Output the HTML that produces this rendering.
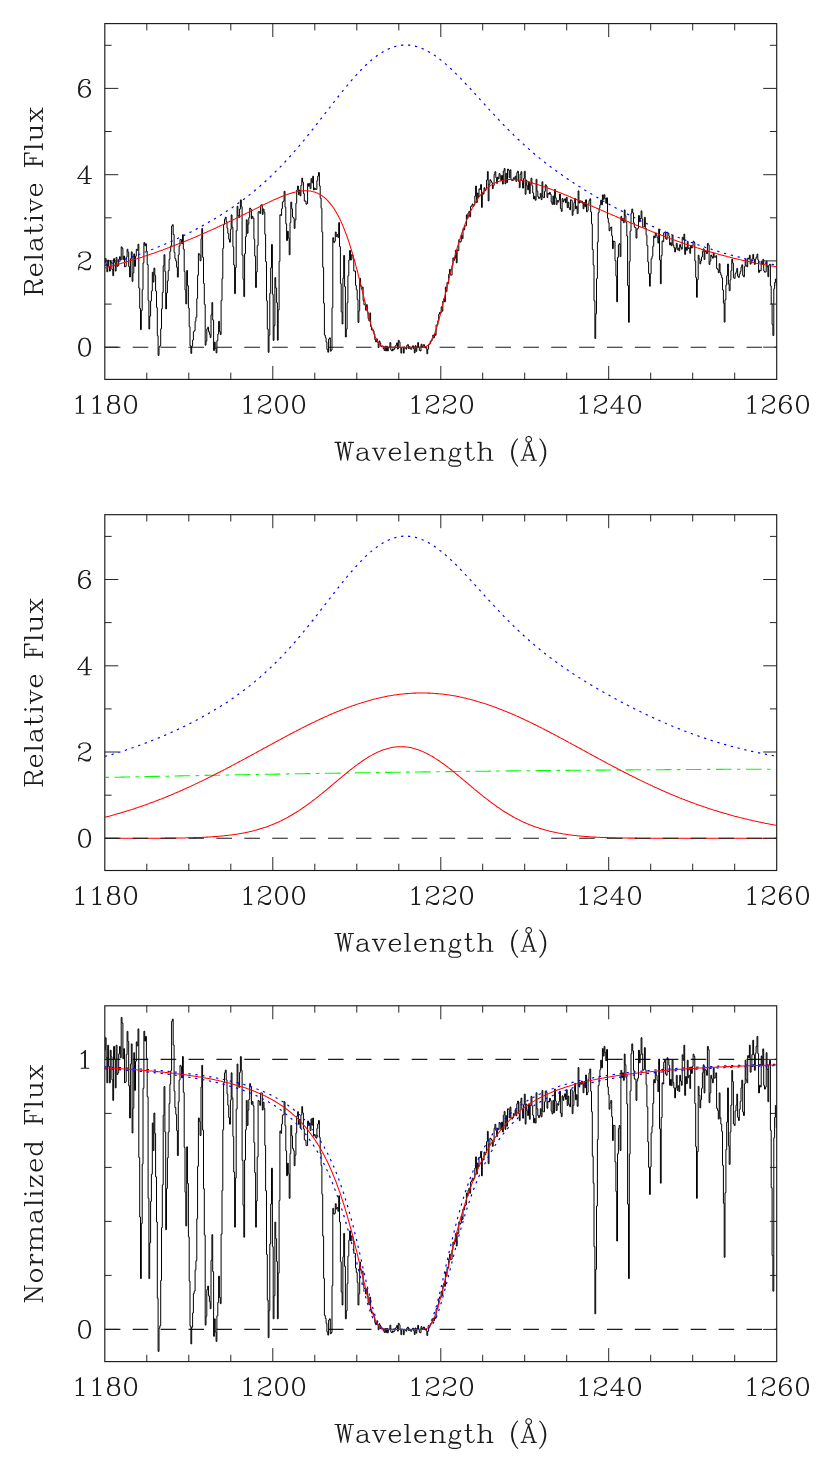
<!DOCTYPE html>
<html><head><meta charset="utf-8"><title>DLA fit</title>
<style>
html,body{margin:0;padding:0;background:#fff;}
svg{display:block;}
.t{font-family:"Liberation Serif",serif;font-size:28px;fill:#1c1c1c;letter-spacing:1.6px;}
.num{letter-spacing:2.2px;}
.lab{font-size:27.5px;letter-spacing:2.1px;}
.data{fill:none;stroke:#000;stroke-width:1.0;stroke-linejoin:miter;}
.red{fill:none;stroke:#ff0000;stroke-width:1.05;}
.blue{fill:none;stroke:#0000ff;stroke-width:1.2;stroke-dasharray:2.3 4.7;}
.green{fill:none;stroke:#00ff00;stroke-width:1.1;stroke-dasharray:15.7 5.4 3.6 5.4;stroke-dashoffset:20.5;}
</style></head>
<body>
<svg width="830" height="1474" viewBox="0 0 830 1474">
<rect width="830" height="1474" fill="#fff"/>
<defs>
<path id="g0" d="M69 -21.62L68.96 -21.58L68.71 -21.58L65.83 -20.62L65.62 -20.5L63.5 -17.38L63.33 -16.96L62.38 -12.17L62.42 -12.08L62.38 -12L62.38 -9L62.42 -8.96L62.38 -8.83L63.38 -3.88L65.5 -.62L65.83 -.38L68.71 .58L68.96 .58L69 .62L71 .62L71.04 .58L71.29 .58L74.17 -.38L74.38 -.5L76.5 -3.62L76.67 -4.04L77.62 -8.83L77.58 -8.92L77.62 -9L77.62 -12L77.58 -12.04L77.62 -12.17L76.62 -17.12L74.5 -20.38L74.17 -20.62L71.29 -21.58L71.04 -21.58L71 -21.62ZM69.12 -20.38L70.88 -20.38L72.54 -19.54L73.54 -18.54L74.42 -16.79L75.38 -12L75.38 -9L74.42 -4.21L73.54 -2.46L72.54 -1.46L70.88 -.62L69.12 -.62L67.46 -1.46L66.46 -2.46L65.58 -4.21L64.62 -9L64.62 -12L65.58 -16.79L66.46 -18.54L67.46 -19.54ZM47.71 -21.58L44.83 -20.62L44.62 -20.5L44.42 -20.25L43.42 -18.21L43.38 -18L43.38 -15L43.46 -14.67L44.5 -12.62L44.83 -12.38L45.96 -12L44.83 -11.62L44.54 -11.46L43.54 -10.46L42.46 -8.33L42.38 -8L42.38 -4L42.42 -3.79L43.54 -1.54L44.54 -.54L44.83 -.38L47.71 .58L47.96 .58L48 .62L52 .62L52.04 .58L52.29 .58L55.17 -.38L55.46 -.54L56.46 -1.54L57.58 -3.79L57.62 -4L57.62 -8L57.54 -8.33L56.46 -10.46L55.46 -11.46L55.17 -11.62L54.04 -12L55.17 -12.38L55.5 -12.62L56.54 -14.67L56.62 -15L56.62 -18L56.58 -18.21L55.58 -20.25L55.38 -20.5L55.17 -20.62L52.29 -21.58L52.04 -21.58L52 -21.62L48 -21.62L47.96 -21.58ZM48.12 -11.38L51.88 -11.38L53.54 -10.54L54.54 -9.54L55.38 -7.88L55.38 -4.12L54.54 -2.46L53.54 -1.46L51.88 -.62L48.12 -.62L46.46 -1.46L45.46 -2.46L44.62 -4.12L44.62 -7.88L45.46 -9.54L46.46 -10.54ZM46.42 -19.46L46.54 -19.58L48.12 -20.38L51.88 -20.38L53.46 -19.58L53.58 -19.46L54.38 -17.88L54.38 -15.12L53.58 -13.54L53.46 -13.42L51.88 -12.62L48.12 -12.62L46.54 -13.42L46.42 -13.54L45.62 -15.12L45.62 -17.88ZM31.21 -21.58L31 -21.62L30.54 -21.46L27.54 -18.46L25.75 -17.58L25.5 -17.38L25.42 -17.21L25.38 -17L25.5 -16.62L25.79 -16.42L26 -16.38L26.21 -16.42L28.46 -17.54L29.33 -18.42L29.38 -18.38L29.38 -.67L29.33 -.62L26 -.62L25.79 -.58L25.5 -.38L25.38 0L25.5 .38L25.79 .58L26 .62L35 .62L35.38 .5L35.58 .21L35.62 0L35.58 -.21L35.5 -.38L35.21 -.58L35 -.62L31.67 -.62L31.62 -.67L31.62 -21L31.5 -21.38ZM11.21 -21.58L11 -21.62L10.54 -21.46L7.54 -18.46L5.75 -17.58L5.5 -17.38L5.42 -17.21L5.38 -17L5.5 -16.62L5.79 -16.42L6 -16.38L6.21 -16.42L8.46 -17.54L9.33 -18.42L9.38 -18.38L9.38 -.67L9.33 -.62L6 -.62L5.79 -.58L5.5 -.38L5.38 0L5.5 .38L5.79 .58L6 .62L15 .62L15.38 .5L15.58 .21L15.62 0L15.58 -.21L15.5 -.38L15.21 -.58L15 -.62L11.67 -.62L11.62 -.67L11.62 -21L11.5 -21.38Z"/>
<path id="g1" d="M69 -21.62L68.96 -21.58L68.71 -21.58L65.83 -20.62L65.62 -20.5L63.5 -17.38L63.33 -16.96L62.38 -12.17L62.42 -12.08L62.38 -12L62.38 -9L62.42 -8.96L62.38 -8.83L63.38 -3.88L65.5 -.62L65.83 -.38L68.71 .58L68.96 .58L69 .62L71 .62L71.04 .58L71.29 .58L74.17 -.38L74.38 -.5L76.5 -3.62L76.67 -4.04L77.62 -8.83L77.58 -8.92L77.62 -9L77.62 -12L77.58 -12.04L77.62 -12.17L76.62 -17.12L74.5 -20.38L74.17 -20.62L71.29 -21.58L71.04 -21.58L71 -21.62ZM69.12 -20.38L70.88 -20.38L72.54 -19.54L73.54 -18.54L74.42 -16.79L75.38 -12L75.38 -9L74.42 -4.21L73.54 -2.46L72.54 -1.46L70.88 -.62L69.12 -.62L67.46 -1.46L66.46 -2.46L65.58 -4.21L64.62 -9L64.62 -12L65.58 -16.79L66.46 -18.54L67.46 -19.54ZM49 -21.62L48.96 -21.58L48.71 -21.58L45.83 -20.62L45.62 -20.5L43.5 -17.38L43.33 -16.96L42.38 -12.17L42.42 -12.08L42.38 -12L42.38 -9L42.42 -8.96L42.38 -8.83L43.38 -3.88L45.5 -.62L45.83 -.38L48.71 .58L48.96 .58L49 .62L51 .62L51.04 .58L51.29 .58L54.17 -.38L54.38 -.5L56.5 -3.62L56.67 -4.04L57.62 -8.83L57.58 -8.92L57.62 -9L57.62 -12L57.58 -12.04L57.62 -12.17L56.62 -17.12L54.5 -20.38L54.17 -20.62L51.29 -21.58L51.04 -21.58L51 -21.62ZM49.12 -20.38L50.88 -20.38L52.54 -19.54L53.54 -18.54L54.42 -16.79L55.38 -12L55.38 -9L54.42 -4.21L53.54 -2.46L52.54 -1.46L50.88 -.62L49.12 -.62L47.46 -1.46L46.46 -2.46L45.58 -4.21L44.62 -9L44.62 -12L45.58 -16.79L46.46 -18.54L47.46 -19.54ZM24.83 -20.62L24.54 -20.46L23.54 -19.46L22.42 -17.21L22.38 -17L22.42 -15.79L22.54 -15.54L23.54 -14.54L24 -14.38L24.46 -14.54L25.46 -15.54L25.58 -15.79L25.62 -16L25.46 -16.46L24.46 -17.46L24 -17.62L24.46 -18.54L25.38 -19.46L28.08 -20.38L31.88 -20.38L33.54 -19.54L34.54 -18.54L35.38 -16.88L35.38 -15.12L34.54 -13.46L34.42 -13.33L31.79 -11.58L25.54 -8.46L23.54 -6.46L23.38 -6.17L22.42 -3.29L22.42 -3.04L22.38 -3L22.38 0L22.42 .21L22.62 .5L23 .62L23.21 .58L23.5 .38L23.62 0L23.62 -1.71L24.29 -2.38L25.83 -2.38L30.58 .5L31 .62L35 .62L35.21 .58L35.46 .46L36.46 -.54L37.58 -2.79L37.62 -3L37.62 -5L37.5 -5.38L37.21 -5.58L37 -5.62L36.79 -5.58L36.62 -5.5L36.42 -5.21L36.38 -5L36.38 -3.29L35.54 -2.46L33.88 -1.62L31.12 -1.62L26.29 -3.58L26.04 -3.58L26 -3.62L24 -3.62L23.92 -3.58L23.88 -3.67L24.54 -5.62L26.46 -7.54L28.21 -8.42L33.08 -10.33L36.38 -12.5L36.58 -12.75L37.58 -14.79L37.62 -15L37.62 -17L37.54 -17.33L36.46 -19.46L35.46 -20.46L35.17 -20.62L32.29 -21.58L32.04 -21.58L32 -21.62L28 -21.62L27.96 -21.58L27.71 -21.58ZM23.62 -16.38L23.67 -16.42L24.08 -16L24 -15.92L23.62 -16.29ZM11.21 -21.58L11 -21.62L10.54 -21.46L7.54 -18.46L5.75 -17.58L5.5 -17.38L5.42 -17.21L5.38 -17L5.5 -16.62L5.79 -16.42L6 -16.38L6.21 -16.42L8.46 -17.54L9.33 -18.42L9.38 -18.38L9.38 -.67L9.33 -.62L6 -.62L5.79 -.58L5.5 -.38L5.38 0L5.5 .38L5.79 .58L6 .62L15 .62L15.38 .5L15.58 .21L15.62 0L15.58 -.21L15.5 -.38L15.21 -.58L15 -.62L11.67 -.62L11.62 -.67L11.62 -21L11.5 -21.38Z"/>
<path id="g2" d="M69 -21.62L68.96 -21.58L68.71 -21.58L65.83 -20.62L65.62 -20.5L63.5 -17.38L63.33 -16.96L62.38 -12.17L62.42 -12.08L62.38 -12L62.38 -9L62.42 -8.96L62.38 -8.83L63.38 -3.88L65.5 -.62L65.83 -.38L68.71 .58L68.96 .58L69 .62L71 .62L71.04 .58L71.29 .58L74.17 -.38L74.38 -.5L76.5 -3.62L76.67 -4.04L77.62 -8.83L77.58 -8.92L77.62 -9L77.62 -12L77.58 -12.04L77.62 -12.17L76.62 -17.12L74.5 -20.38L74.17 -20.62L71.29 -21.58L71.04 -21.58L71 -21.62ZM69.12 -20.38L70.88 -20.38L72.54 -19.54L73.54 -18.54L74.42 -16.79L75.38 -12L75.38 -9L74.42 -4.21L73.54 -2.46L72.54 -1.46L70.88 -.62L69.12 -.62L67.46 -1.46L66.46 -2.46L65.58 -4.21L64.62 -9L64.62 -12L65.58 -16.79L66.46 -18.54L67.46 -19.54ZM44.83 -20.62L44.54 -20.46L43.54 -19.46L42.42 -17.21L42.38 -17L42.42 -15.79L42.54 -15.54L43.54 -14.54L44 -14.38L44.46 -14.54L45.46 -15.54L45.58 -15.79L45.62 -16L45.46 -16.46L44.46 -17.46L44 -17.62L44.46 -18.54L45.38 -19.46L48.08 -20.38L51.88 -20.38L53.54 -19.54L54.54 -18.54L55.38 -16.88L55.38 -15.12L54.54 -13.46L54.42 -13.33L51.79 -11.58L45.54 -8.46L43.54 -6.46L43.38 -6.17L42.42 -3.29L42.42 -3.04L42.38 -3L42.38 0L42.42 .21L42.62 .5L43 .62L43.21 .58L43.5 .38L43.62 0L43.62 -1.71L44.29 -2.38L45.83 -2.38L50.58 .5L51 .62L55 .62L55.21 .58L55.46 .46L56.46 -.54L57.58 -2.79L57.62 -3L57.62 -5L57.5 -5.38L57.21 -5.58L57 -5.62L56.79 -5.58L56.62 -5.5L56.42 -5.21L56.38 -5L56.38 -3.29L55.54 -2.46L53.88 -1.62L51.12 -1.62L46.29 -3.58L46.04 -3.58L46 -3.62L44 -3.62L43.92 -3.58L43.88 -3.67L44.54 -5.62L46.46 -7.54L48.21 -8.42L53.08 -10.33L56.38 -12.5L56.58 -12.75L57.58 -14.79L57.62 -15L57.62 -17L57.54 -17.33L56.46 -19.46L55.46 -20.46L55.17 -20.62L52.29 -21.58L52.04 -21.58L52 -21.62L48 -21.62L47.96 -21.58L47.71 -21.58ZM43.62 -16.38L43.67 -16.42L44.08 -16L44 -15.92L43.62 -16.29ZM24.83 -20.62L24.54 -20.46L23.54 -19.46L22.42 -17.21L22.38 -17L22.42 -15.79L22.54 -15.54L23.54 -14.54L24 -14.38L24.46 -14.54L25.46 -15.54L25.58 -15.79L25.62 -16L25.46 -16.46L24.46 -17.46L24 -17.62L24.46 -18.54L25.38 -19.46L28.08 -20.38L31.88 -20.38L33.54 -19.54L34.54 -18.54L35.38 -16.88L35.38 -15.12L34.54 -13.46L34.42 -13.33L31.79 -11.58L25.54 -8.46L23.54 -6.46L23.38 -6.17L22.42 -3.29L22.42 -3.04L22.38 -3L22.38 0L22.42 .21L22.62 .5L23 .62L23.21 .58L23.5 .38L23.62 0L23.62 -1.71L24.29 -2.38L25.83 -2.38L30.58 .5L31 .62L35 .62L35.21 .58L35.46 .46L36.46 -.54L37.58 -2.79L37.62 -3L37.62 -5L37.5 -5.38L37.21 -5.58L37 -5.62L36.79 -5.58L36.62 -5.5L36.42 -5.21L36.38 -5L36.38 -3.29L35.54 -2.46L33.88 -1.62L31.12 -1.62L26.29 -3.58L26.04 -3.58L26 -3.62L24 -3.62L23.92 -3.58L23.88 -3.67L24.54 -5.62L26.46 -7.54L28.21 -8.42L33.08 -10.33L36.38 -12.5L36.58 -12.75L37.58 -14.79L37.62 -15L37.62 -17L37.54 -17.33L36.46 -19.46L35.46 -20.46L35.17 -20.62L32.29 -21.58L32.04 -21.58L32 -21.62L28 -21.62L27.96 -21.58L27.71 -21.58ZM23.62 -16.38L23.67 -16.42L24.08 -16L24 -15.92L23.62 -16.29ZM11.21 -21.58L11 -21.62L10.54 -21.46L7.54 -18.46L5.75 -17.58L5.5 -17.38L5.42 -17.21L5.38 -17L5.5 -16.62L5.79 -16.42L6 -16.38L6.21 -16.42L8.46 -17.54L9.33 -18.42L9.38 -18.38L9.38 -.67L9.33 -.62L6 -.62L5.79 -.58L5.5 -.38L5.38 0L5.5 .38L5.79 .58L6 .62L15 .62L15.38 .5L15.58 .21L15.62 0L15.58 -.21L15.5 -.38L15.21 -.58L15 -.62L11.67 -.62L11.62 -.67L11.62 -21L11.5 -21.38Z"/>
<path id="g3" d="M69 -21.62L68.96 -21.58L68.71 -21.58L65.83 -20.62L65.62 -20.5L63.5 -17.38L63.33 -16.96L62.38 -12.17L62.42 -12.08L62.38 -12L62.38 -9L62.42 -8.96L62.38 -8.83L63.38 -3.88L65.5 -.62L65.83 -.38L68.71 .58L68.96 .58L69 .62L71 .62L71.04 .58L71.29 .58L74.17 -.38L74.38 -.5L76.5 -3.62L76.67 -4.04L77.62 -8.83L77.58 -8.92L77.62 -9L77.62 -12L77.58 -12.04L77.62 -12.17L76.62 -17.12L74.5 -20.38L74.17 -20.62L71.29 -21.58L71.04 -21.58L71 -21.62ZM69.12 -20.38L70.88 -20.38L72.54 -19.54L73.54 -18.54L74.42 -16.79L75.38 -12L75.38 -9L74.42 -4.21L73.54 -2.46L72.54 -1.46L70.88 -.62L69.12 -.62L67.46 -1.46L66.46 -2.46L65.58 -4.21L64.62 -9L64.62 -12L65.58 -16.79L66.46 -18.54L67.46 -19.54ZM53 -21.62L52.62 -21.5L52.42 -21.29L41.54 -6.46L41.38 -6L41.5 -5.62L41.62 -5.5L42 -5.38L51.33 -5.38L51.38 -5.33L51.38 -.67L51.33 -.62L49 -.62L48.62 -.5L48.42 -.21L48.38 0L48.42 .21L48.62 .5L49 .62L56 .62L56.38 .5L56.5 .38L56.62 0L56.5 -.38L56.21 -.58L56 -.62L53.67 -.62L53.62 -.67L53.62 -5.33L53.67 -5.38L58 -5.38L58.38 -5.5L58.5 -5.62L58.62 -6L58.5 -6.38L58.38 -6.5L58 -6.62L53.67 -6.62L53.62 -6.67L53.62 -21L53.5 -21.38L53.38 -21.5ZM51.33 -17.67L51.38 -17.62L51.38 -6.67L51.33 -6.62L43.29 -6.62L43.25 -6.67ZM24.83 -20.62L24.54 -20.46L23.54 -19.46L22.42 -17.21L22.38 -17L22.42 -15.79L22.54 -15.54L23.54 -14.54L24 -14.38L24.46 -14.54L25.46 -15.54L25.58 -15.79L25.62 -16L25.46 -16.46L24.46 -17.46L24 -17.62L24.46 -18.54L25.38 -19.46L28.08 -20.38L31.88 -20.38L33.54 -19.54L34.54 -18.54L35.38 -16.88L35.38 -15.12L34.54 -13.46L34.42 -13.33L31.79 -11.58L25.54 -8.46L23.54 -6.46L23.38 -6.17L22.42 -3.29L22.42 -3.04L22.38 -3L22.38 0L22.42 .21L22.62 .5L23 .62L23.21 .58L23.5 .38L23.62 0L23.62 -1.71L24.29 -2.38L25.83 -2.38L30.58 .5L31 .62L35 .62L35.21 .58L35.46 .46L36.46 -.54L37.58 -2.79L37.62 -3L37.62 -5L37.5 -5.38L37.21 -5.58L37 -5.62L36.79 -5.58L36.62 -5.5L36.42 -5.21L36.38 -5L36.38 -3.29L35.54 -2.46L33.88 -1.62L31.12 -1.62L26.29 -3.58L26.04 -3.58L26 -3.62L24 -3.62L23.92 -3.58L23.88 -3.67L24.54 -5.62L26.46 -7.54L28.21 -8.42L33.08 -10.33L36.38 -12.5L36.58 -12.75L37.58 -14.79L37.62 -15L37.62 -17L37.54 -17.33L36.46 -19.46L35.46 -20.46L35.17 -20.62L32.29 -21.58L32.04 -21.58L32 -21.62L28 -21.62L27.96 -21.58L27.71 -21.58ZM23.62 -16.38L23.67 -16.42L24.08 -16L24 -15.92L23.62 -16.29ZM11.21 -21.58L11 -21.62L10.54 -21.46L7.54 -18.46L5.75 -17.58L5.5 -17.38L5.42 -17.21L5.38 -17L5.5 -16.62L5.79 -16.42L6 -16.38L6.21 -16.42L8.46 -17.54L9.33 -18.42L9.38 -18.38L9.38 -.67L9.33 -.62L6 -.62L5.79 -.58L5.5 -.38L5.38 0L5.5 .38L5.79 .58L6 .62L15 .62L15.38 .5L15.58 .21L15.62 0L15.58 -.21L15.5 -.38L15.21 -.58L15 -.62L11.67 -.62L11.62 -.67L11.62 -21L11.5 -21.38Z"/>
<path id="g4" d="M69 -21.62L68.96 -21.58L68.71 -21.58L65.83 -20.62L65.62 -20.5L63.5 -17.38L63.33 -16.96L62.38 -12.17L62.42 -12.08L62.38 -12L62.38 -9L62.42 -8.96L62.38 -8.83L63.38 -3.88L65.5 -.62L65.83 -.38L68.71 .58L68.96 .58L69 .62L71 .62L71.04 .58L71.29 .58L74.17 -.38L74.38 -.5L76.5 -3.62L76.67 -4.04L77.62 -8.83L77.58 -8.92L77.62 -9L77.62 -12L77.58 -12.04L77.62 -12.17L76.62 -17.12L74.5 -20.38L74.17 -20.62L71.29 -21.58L71.04 -21.58L71 -21.62ZM69.12 -20.38L70.88 -20.38L72.54 -19.54L73.54 -18.54L74.42 -16.79L75.38 -12L75.38 -9L74.42 -4.21L73.54 -2.46L72.54 -1.46L70.88 -.62L69.12 -.62L67.46 -1.46L66.46 -2.46L65.58 -4.21L64.62 -9L64.62 -12L65.58 -16.79L66.46 -18.54L67.46 -19.54ZM53 -21.62L50 -21.62L49.96 -21.58L49.71 -21.58L46.83 -20.62L46.54 -20.46L44.54 -18.46L43.46 -16.33L43.46 -16.25L43.38 -16.17L42.38 -12.17L42.42 -12.12L42.38 -12L42.38 -6L42.42 -5.96L42.42 -5.71L43.38 -2.83L43.54 -2.54L45.54 -.54L45.83 -.38L48.71 .58L48.96 .58L49 .62L51 .62L51.04 .58L51.29 .58L54.17 -.38L54.46 -.54L56.46 -2.54L56.62 -2.83L57.58 -5.71L57.58 -5.96L57.62 -6L57.58 -7.29L56.62 -10.17L56.46 -10.46L54.46 -12.46L54.17 -12.62L51.29 -13.58L51.04 -13.58L51 -13.62L49.71 -13.58L46.83 -12.62L46.54 -12.46L44.67 -10.58L44.62 -10.62L44.62 -11.96L45.58 -15.79L46.46 -17.54L48.46 -19.54L50.12 -20.38L52.88 -20.38L54.46 -19.58L54.58 -19.46L55 -18.62L54.54 -18.46L53.54 -17.46L53.38 -17L53.54 -16.54L54.54 -15.54L55 -15.38L55.46 -15.54L56.46 -16.54L56.62 -17L56.58 -18.21L55.5 -20.38L55.25 -20.58L53.33 -21.54ZM50.88 -12.38L52.54 -11.54L54.46 -9.62L55.38 -6.92L55.38 -6.08L54.46 -3.38L52.54 -1.46L50.88 -.62L49.12 -.62L47.46 -1.46L45.54 -3.38L44.62 -6.08L44.62 -6.92L45.54 -9.62L47.38 -11.46L50.08 -12.38ZM55.33 -17.42L55.38 -17.29L55 -16.92L54.92 -17ZM24.83 -20.62L24.54 -20.46L23.54 -19.46L22.42 -17.21L22.38 -17L22.42 -15.79L22.54 -15.54L23.54 -14.54L24 -14.38L24.46 -14.54L25.46 -15.54L25.58 -15.79L25.62 -16L25.46 -16.46L24.46 -17.46L24 -17.62L24.46 -18.54L25.38 -19.46L28.08 -20.38L31.88 -20.38L33.54 -19.54L34.54 -18.54L35.38 -16.88L35.38 -15.12L34.54 -13.46L34.42 -13.33L31.79 -11.58L25.54 -8.46L23.54 -6.46L23.38 -6.17L22.42 -3.29L22.42 -3.04L22.38 -3L22.38 0L22.42 .21L22.62 .5L23 .62L23.21 .58L23.5 .38L23.62 0L23.62 -1.71L24.29 -2.38L25.83 -2.38L30.58 .5L31 .62L35 .62L35.21 .58L35.46 .46L36.46 -.54L37.58 -2.79L37.62 -3L37.62 -5L37.5 -5.38L37.21 -5.58L37 -5.62L36.79 -5.58L36.62 -5.5L36.42 -5.21L36.38 -5L36.38 -3.29L35.54 -2.46L33.88 -1.62L31.12 -1.62L26.29 -3.58L26.04 -3.58L26 -3.62L24 -3.62L23.92 -3.58L23.88 -3.67L24.54 -5.62L26.46 -7.54L28.21 -8.42L33.08 -10.33L36.38 -12.5L36.58 -12.75L37.58 -14.79L37.62 -15L37.62 -17L37.54 -17.33L36.46 -19.46L35.46 -20.46L35.17 -20.62L32.29 -21.58L32.04 -21.58L32 -21.62L28 -21.62L27.96 -21.58L27.71 -21.58ZM23.62 -16.38L23.67 -16.42L24.08 -16L24 -15.92L23.62 -16.29ZM11.21 -21.58L11 -21.62L10.54 -21.46L7.54 -18.46L5.75 -17.58L5.5 -17.38L5.42 -17.21L5.38 -17L5.5 -16.62L5.79 -16.42L6 -16.38L6.21 -16.42L8.46 -17.54L9.33 -18.42L9.38 -18.38L9.38 -.67L9.33 -.62L6 -.62L5.79 -.58L5.5 -.38L5.38 0L5.5 .38L5.79 .58L6 .62L15 .62L15.38 .5L15.58 .21L15.62 0L15.58 -.21L15.5 -.38L15.21 -.58L15 -.62L11.67 -.62L11.62 -.67L11.62 -21L11.5 -21.38Z"/>
<path id="g5" d="M141 -14.62L140.67 -14.54L138.54 -13.46L137.54 -12.46L136.46 -10.33L136.38 -10L136.38 -8L136.46 -7.67L137.21 -6.21L137.21 -6.12L136.54 -5.46L135.46 -3.33L135.38 -3L135.42 -1.79L136.38 .17L136.29 .25L135.83 .38L135.62 .5L135.42 .75L134.42 2.79L134.38 4L134.46 4.33L135.42 6.25L135.62 6.5L135.83 6.62L138.71 7.58L138.96 7.58L139 7.62L145 7.62L145.04 7.58L145.29 7.58L148.17 6.62L148.38 6.5L148.58 6.25L149.54 4.33L149.62 4L149.58 2.79L148.5 .62L148.17 .38L145.29 -.58L145.04 -.58L145 -.62L140.08 -.62L137.38 -1.54L136.62 -2.29L136.62 -2.88L137.46 -4.54L138 -5.08L138.54 -4.54L140.67 -3.46L141 -3.38L143 -3.38L143.21 -3.42L145.46 -4.54L146.46 -5.54L147.54 -7.67L147.62 -8L147.62 -10L147.58 -10.21L146.79 -11.79L146.79 -11.88L147.29 -12.38L149 -12.38L149.38 -12.5L149.5 -12.62L149.62 -13L149.62 -14L149.58 -14.21L149.38 -14.5L149 -14.62L148.79 -14.58L146.54 -13.46L146 -12.92L145.46 -13.46L143.33 -14.54L143 -14.62ZM135.62 3.12L136.46 1.5L138.04 1L139.71 1.58L139.96 1.58L140 1.62L144.92 1.62L147.62 2.54L148.38 3.29L148.38 3.88L147.54 5.5L144.92 6.38L139.08 6.38L136.46 5.5L135.62 3.88ZM141.12 -13.38L142.88 -13.38L144.46 -12.58L144.58 -12.46L145.38 -10.88L145.38 -7.12L144.58 -5.54L144.46 -5.42L142.88 -4.62L141.12 -4.62L139.54 -5.42L139.42 -5.54L138.62 -7.12L138.62 -10.88L139.42 -12.46L139.54 -12.58ZM112.5 -14.38L112.38 -14L112.42 -13.79L112.5 -13.62L112.79 -13.42L113 -13.38L115.33 -13.38L115.38 -13.33L115.38 -.67L115.33 -.62L113 -.62L112.79 -.58L112.5 -.38L112.38 0L112.42 .21L112.62 .5L113 .62L120 .62L120.21 .58L120.5 .38L120.62 0L120.58 -.21L120.5 -.38L120.21 -.58L120 -.62L117.67 -.62L117.62 -.67L117.62 -10.71L119.38 -12.46L122.08 -13.38L123.88 -13.38L125.46 -12.58L125.58 -12.46L126.38 -10.88L126.38 -.67L126.33 -.62L124 -.62L123.79 -.58L123.62 -.5L123.42 -.21L123.38 0L123.5 .38L123.62 .5L124 .62L131 .62L131.21 .58L131.5 .38L131.62 0L131.58 -.21L131.5 -.38L131.21 -.58L131 -.62L128.67 -.62L128.62 -.67L128.62 -11L128.54 -11.33L127.58 -13.25L127.38 -13.5L127.17 -13.62L124.29 -14.58L124.04 -14.58L124 -14.62L122 -14.62L121.96 -14.58L121.71 -14.58L118.83 -13.62L118.54 -13.46L117.67 -12.58L117.62 -12.62L117.62 -14L117.58 -14.21L117.5 -14.38L117.21 -14.58L117 -14.62L113 -14.62L112.79 -14.58ZM101 -14.62L100.96 -14.58L100.71 -14.58L97.83 -13.62L97.54 -13.46L95.54 -11.46L95.38 -11.17L94.42 -8.29L94.42 -8.04L94.38 -8L94.38 -6L94.42 -5.96L94.42 -5.71L95.38 -2.83L95.54 -2.54L97.54 -.54L97.83 -.38L100.71 .58L100.96 .58L101 .62L103 .62L103.04 .58L103.29 .58L106.17 -.38L106.46 -.54L108.46 -2.54L108.62 -3L108.5 -3.38L108.38 -3.5L108 -3.62L107.54 -3.46L105.54 -1.5L102.92 -.62L101.12 -.62L99.46 -1.46L97.54 -3.38L96.62 -6.08L96.62 -7.33L96.67 -7.38L108 -7.38L108.21 -7.42L108.5 -7.62L108.62 -8L108.62 -10L108.54 -10.33L107.46 -12.46L106.46 -13.46L104.21 -14.58L104 -14.62ZM96.88 -8.67L97.54 -10.62L99.46 -12.54L101.12 -13.38L103.88 -13.38L105.46 -12.58L105.58 -12.46L106.38 -10.88L106.38 -8.67L106.33 -8.62L96.92 -8.62ZM71 -14.62L70.96 -14.58L70.71 -14.58L67.83 -13.62L67.54 -13.46L65.54 -11.46L65.38 -11.17L64.42 -8.29L64.42 -8.04L64.38 -8L64.38 -6L64.42 -5.96L64.42 -5.71L65.38 -2.83L65.54 -2.54L67.54 -.54L67.83 -.38L70.71 .58L70.96 .58L71 .62L73 .62L73.04 .58L73.29 .58L76.17 -.38L76.46 -.54L78.46 -2.54L78.62 -3L78.5 -3.38L78.38 -3.5L78 -3.62L77.54 -3.46L75.54 -1.5L72.92 -.62L71.12 -.62L69.46 -1.46L67.54 -3.38L66.62 -6.08L66.62 -7.33L66.67 -7.38L78 -7.38L78.21 -7.42L78.5 -7.62L78.62 -8L78.62 -10L78.54 -10.33L77.46 -12.46L76.46 -13.46L74.21 -14.58L74 -14.62ZM66.88 -8.67L67.54 -10.62L69.46 -12.54L71.12 -13.38L73.88 -13.38L75.46 -12.58L75.58 -12.46L76.38 -10.88L76.38 -8.67L76.33 -8.62L66.92 -8.62ZM44.62 -14.5L44.5 -14.38L44.38 -14L44.42 -13.79L44.62 -13.5L45 -13.38L46.54 -13.38L46.62 -13.29L52.33 .08L52.5 .38L52.79 .58L53 .62L53.38 .5L53.67 .08L59.38 -13.29L59.46 -13.38L61 -13.38L61.38 -13.5L61.5 -13.62L61.62 -14L61.5 -14.38L61.38 -14.5L61 -14.62L55 -14.62L54.79 -14.58L54.5 -14.38L54.38 -14L54.42 -13.79L54.5 -13.62L54.79 -13.42L55 -13.38L58 -13.38L58.04 -13.33L53.5 -2.71L53.42 -2.67L48.96 -13.29L49 -13.38L51 -13.38L51.21 -13.42L51.38 -13.5L51.58 -13.79L51.62 -14L51.5 -14.38L51.38 -14.5L51 -14.62L45 -14.62ZM27.54 -12.46L27.38 -12L27.42 -10.79L27.62 -10.5L28 -10.38L29 -10.38L29.38 -10.5L29.5 -10.62L29.62 -11L29.62 -12L29.58 -12.21L29.42 -12.5L31.12 -13.38L34.88 -13.38L36.54 -12.54L37.38 -11.71L37.38 -10.29L36.58 -9.54L30.71 -8.58L27.83 -7.62L27.5 -7.38L26.42 -5.21L26.38 -5L26.38 -3L26.46 -2.67L27.42 -.75L27.62 -.5L27.83 -.38L30.71 .58L30.96 .58L31 .62L34 .62L34.33 .54L36.46 -.54L37.83 -1.92L38.42 -.75L38.62 -.5L40.67 .54L41 .62L42 .62L42.21 .58L42.5 .38L42.62 0L42.5 -.38L42.21 -.58L41.29 -.62L40.46 -1.46L39.62 -3.12L39.62 -10L39.58 -10.21L38.46 -12.46L37.46 -13.46L35.33 -14.54L35 -14.62L31 -14.62L30.67 -14.54L28.54 -13.46ZM37.38 -8.46L37.38 -3.29L35.54 -1.46L33.88 -.62L31.12 -.62L29.54 -1.42L29.42 -1.54L28.62 -3.12L28.62 -4.88L29.42 -6.46L29.54 -6.58L31.21 -7.42L36.88 -8.33L37.21 -8.42L37.33 -8.5ZM168.62 -21.5L168.5 -21.38L168.38 -21L168.5 -20.62L168.79 -20.42L169 -20.38L171.33 -20.38L171.38 -20.33L171.38 -.67L171.33 -.62L169 -.62L168.79 -.58L168.62 -.5L168.42 -.21L168.38 0L168.5 .38L168.62 .5L169 .62L176 .62L176.21 .58L176.5 .38L176.62 0L176.58 -.21L176.5 -.38L176.21 -.58L176 -.62L173.67 -.62L173.62 -.67L173.62 -10.71L175.46 -12.5L178.08 -13.38L179.88 -13.38L181.46 -12.58L181.58 -12.46L182.38 -10.88L182.38 -.67L182.33 -.62L180 -.62L179.79 -.58L179.62 -.5L179.42 -.21L179.38 0L179.5 .38L179.62 .5L180 .62L187 .62L187.38 .5L187.5 .38L187.62 0L187.5 -.38L187.21 -.58L187 -.62L184.67 -.62L184.62 -.67L184.62 -11L184.54 -11.33L183.5 -13.38L183.17 -13.62L180.29 -14.58L180.04 -14.58L180 -14.62L178 -14.62L177.96 -14.58L177.71 -14.58L174.83 -13.62L174.54 -13.46L173.67 -12.58L173.62 -12.62L173.62 -21L173.5 -21.38L173.38 -21.5L173 -21.62L169 -21.62ZM156.79 -21.58L156.5 -21.38L156.38 -21L156.38 -14.67L156.33 -14.62L154 -14.62L153.79 -14.58L153.62 -14.5L153.42 -14.21L153.38 -14L153.42 -13.79L153.62 -13.5L154 -13.38L156.33 -13.38L156.38 -13.33L156.38 -4L156.42 -3.96L156.42 -3.71L157.38 -.83L157.5 -.62L157.75 -.42L159.79 .58L160 .62L162 .62L162.21 .58L164.25 -.42L164.5 -.62L165.54 -2.67L165.62 -3L165.58 -3.21L165.5 -3.38L165.21 -3.58L165 -3.62L164.62 -3.5L164.42 -3.25L163.58 -1.54L163.46 -1.42L161.88 -.62L160.29 -.62L159.5 -1.46L158.62 -4.08L158.62 -13.33L158.67 -13.38L162 -13.38L162.38 -13.5L162.5 -13.62L162.62 -14L162.5 -14.38L162.38 -14.5L162 -14.62L158.67 -14.62L158.62 -14.67L158.62 -21L158.58 -21.21L158.5 -21.38L158.21 -21.58L158 -21.62L157.79 -21.58L157.5 -21.38L157.21 -21.58L157 -21.62ZM82.79 -21.58L82.5 -21.38L82.38 -21L82.5 -20.62L82.79 -20.42L83 -20.38L85.33 -20.38L85.38 -20.33L85.38 -.67L85.33 -.62L83 -.62L82.79 -.58L82.62 -.5L82.42 -.21L82.38 0L82.42 .21L82.62 .5L83 .62L90 .62L90.21 .58L90.5 .38L90.62 0L90.5 -.38L90.21 -.58L90 -.62L87.67 -.62L87.62 -.67L87.62 -21L87.58 -21.21L87.38 -21.5L87 -21.62L83 -21.62ZM.62 -21.5L.5 -21.38L.38 -21L.5 -20.62L.79 -20.42L1 -20.38L3.46 -20.38L3.5 -20.33L3.71 -19.08L3.88 -18.42L3.88 -18.21L4.04 -17.54L4.04 -17.33L4.21 -16.67L4.21 -16.46L4.38 -15.79L4.38 -15.58L4.54 -14.92L4.54 -14.71L4.71 -14.04L4.71 -13.83L4.88 -13.17L4.88 -12.96L5.04 -12.29L5.04 -12.08L5.21 -11.42L5.21 -11.21L5.38 -10.54L5.38 -10.33L5.54 -9.67L5.54 -9.46L5.71 -8.79L5.71 -8.58L5.88 -7.92L5.88 -7.71L6.04 -7.04L6.04 -6.83L6.21 -6.17L6.21 -5.96L6.38 -5.29L6.38 -5.08L6.54 -4.42L6.54 -4.21L6.71 -3.54L6.71 -3.33L6.88 -2.67L6.88 -2.46L7.04 -1.79L7.04 -1.58L7.21 -.92L7.21 -.71L7.38 .12L7.5 .38L7.79 .58L8 .62L8.21 .58L8.5 .38L8.62 .12L12 -17.58L15.38 .12L15.5 .38L15.79 .58L16 .62L16.38 .5L16.5 .38L16.67 -.04L16.67 -.25L16.83 -.92L16.83 -1.12L17 -1.79L17 -2L17.17 -2.67L17.17 -2.88L17.33 -3.54L17.33 -3.75L17.5 -4.42L17.5 -4.62L17.67 -5.29L17.67 -5.5L17.83 -6.17L17.83 -6.38L18 -7.04L18 -7.25L18.17 -7.92L18.17 -8.12L18.33 -8.79L18.33 -9L18.5 -9.67L18.5 -9.88L18.67 -10.54L18.67 -10.75L18.83 -11.42L18.83 -11.62L19 -12.29L19 -12.5L19.12 -12.96L19.12 -13.17L19.29 -13.83L19.29 -14.04L19.46 -14.71L19.46 -14.92L19.62 -15.58L19.62 -15.79L19.79 -16.46L19.79 -16.67L19.96 -17.33L19.96 -17.54L20.12 -18.21L20.12 -18.42L20.29 -19.08L20.5 -20.33L20.54 -20.38L23 -20.38L23.21 -20.42L23.38 -20.5L23.58 -20.79L23.62 -21L23.5 -21.38L23.38 -21.5L23 -21.62L17 -21.62L16.62 -21.5L16.42 -21.21L16.38 -21L16.42 -20.79L16.5 -20.62L16.79 -20.42L17 -20.38L19.21 -20.38L19.25 -20.33L16.5 -6.04L16.42 -6.08L16.38 -6.5L16.25 -6.96L16.25 -7.17L16.12 -7.62L16.12 -7.83L16 -8.29L16 -8.5L15.88 -8.96L15.88 -9.17L15.75 -9.62L15.75 -9.83L15.62 -10.29L15.62 -10.5L15.5 -10.96L15.5 -11.17L15.38 -11.62L15.38 -11.83L15.25 -12.29L15.25 -12.5L15.12 -12.96L15.12 -13.17L15 -13.62L15 -13.83L14.88 -14.29L14.88 -14.5L14.75 -14.96L14.75 -15.17L14.62 -15.62L14.62 -15.83L14.5 -16.29L14.5 -16.5L14.38 -16.96L14.38 -17.17L14.25 -17.62L14.25 -17.83L14.12 -18.29L14.12 -18.5L14 -18.96L14 -19.17L13.88 -19.62L13.62 -21.12L13.38 -21.5L13 -21.62L12.79 -21.58L12.5 -21.38L12.38 -21.5L12 -21.62L11.79 -21.58L11.5 -21.38L11.38 -21.12L11.21 -20.29L11.21 -20.08L11.04 -19.42L11.04 -19.21L10.88 -18.54L10.88 -18.33L10.71 -17.67L10.71 -17.46L10.54 -16.79L10.54 -16.58L10.38 -15.92L10.38 -15.71L10.21 -15.04L10.21 -14.83L10.04 -14.17L10.04 -13.96L9.88 -13.29L9.88 -13.08L9.71 -12.42L9.71 -12.21L9.54 -11.54L9.54 -11.33L9.38 -10.67L9.38 -10.46L9.21 -9.79L9.21 -9.58L9.04 -8.92L9.04 -8.71L8.88 -8.04L8.54 -6.08L8.46 -6.04L8.38 -6.29L8.38 -6.5L8.25 -6.96L8.25 -7.17L8.12 -7.62L8.12 -7.83L8 -8.29L8 -8.5L7.88 -8.96L7.88 -9.17L7.75 -9.62L7.75 -9.83L7.62 -10.29L7.62 -10.5L7.5 -10.96L7.5 -11.17L7.38 -11.62L7.38 -11.83L7.25 -12.29L7.25 -12.5L7.12 -12.96L7.12 -13.17L7 -13.62L7 -13.83L6.88 -14.29L6.88 -14.5L6.75 -14.96L6.75 -15.17L6.62 -15.62L6.62 -15.83L6.5 -16.29L6.5 -16.5L5.75 -20.33L5.79 -20.38L8 -20.38L8.21 -20.42L8.38 -20.5L8.58 -20.79L8.62 -21L8.5 -21.38L8.38 -21.5L8 -21.62L1 -21.62ZM15.83 -4.42L16 -4.38L16.17 -4.42L16.21 -4.38L16 -3.42L15.79 -4.33ZM7.83 -4.42L8 -4.38L8.17 -4.42L8.21 -4.38L8 -3.42L7.79 -4.33ZM242 -25.62L241.79 -25.58L241.5 -25.38L241.38 -25L241.42 -24.79L241.54 -24.54L243.54 -22.54L245.42 -18.79L246.42 -15.79L247.38 -11L247.38 -7L246.42 -2.21L245.42 .79L243.54 4.54L241.54 6.54L241.42 6.79L241.38 7L241.5 7.38L241.62 7.5L242 7.62L242.46 7.46L244.46 5.46L246.58 2.25L248.62 -1.88L249.62 -6.83L249.58 -6.92L249.62 -7L249.62 -11L249.58 -11.04L249.62 -11.17L248.67 -15.96L248.54 -16.33L246.58 -20.25L244.46 -23.46L242.46 -25.46ZM216 -25.62L215.54 -25.46L213.54 -23.46L211.42 -20.25L209.38 -16.12L208.38 -11.17L208.42 -11.08L208.38 -11L208.38 -7L208.42 -6.96L208.38 -6.83L209.33 -2.04L209.46 -1.67L211.42 2.25L213.54 5.46L215.54 7.46L216 7.62L216.21 7.58L216.5 7.38L216.62 7L216.58 6.79L216.46 6.54L214.46 4.54L212.58 .79L211.58 -2.21L210.62 -7L210.62 -11L211.58 -15.79L212.58 -18.79L214.46 -22.54L216.46 -24.54L216.58 -24.79L216.62 -25L216.5 -25.38L216.38 -25.5ZM227.67 -28.29L227.08 -28L227.04 -27.92L227 -27.96L226.5 -27.62L225.96 -27.08L225.62 -26.58L225.67 -26.54L225.58 -26.5L225.29 -25.92L225.17 -25.46L225.08 -24.96L225.08 -24.21L225.29 -23.25L225.71 -22.42L225.96 -22.08L226.5 -21.54L227 -21.21L227.67 -20.88L228.25 -20.71L221.58 -.71L221.5 -.62L220 -.62L219.79 -.58L219.62 -.5L219.42 -.21L219.38 0L219.42 .21L219.62 .5L220 .62L226 .62L226.21 .58L226.5 .38L226.62 0L226.58 -.21L226.5 -.38L226.21 -.58L226 -.62L222.92 -.62L222.88 -.67L224.42 -5.29L224.5 -5.38L232.5 -5.38L232.58 -5.29L234.12 -.67L234.08 -.62L232 -.62L231.79 -.58L231.62 -.5L231.42 -.21L231.38 0L231.5 .38L231.62 .5L232 .62L238 .62L238.21 .58L238.5 .38L238.62 0L238.58 -.21L238.38 -.5L238 -.62L236.5 -.62L236.42 -.71L229.75 -20.71L230.33 -20.88L231.17 -21.29L231.5 -21.54L232.04 -22.08L232.29 -22.42L232.71 -23.25L232.92 -24.21L232.92 -24.96L232.71 -25.92L232.33 -26.67L232.04 -27.08L231.5 -27.62L231.17 -27.88L230.62 -28.17L230.04 -28.38L229.38 -28.5L228.62 -28.5ZM228.5 -17.46L232.12 -6.67L232.08 -6.62L224.92 -6.62L224.88 -6.67ZM229 -18.96L229.12 -18.67L229.08 -18.58L228.88 -18.62ZM228.71 -27.25L229.29 -27.25L229.96 -27.08L230.62 -26.71L231 -26.38L231.29 -25.96L231.5 -25.54L231.67 -24.88L231.67 -24.29L231.58 -23.88L231.33 -23.29L231.04 -22.83L230.62 -22.46L229.96 -22.08L229.29 -21.92L228.71 -21.92L228.25 -22L227.42 -22.42L226.96 -22.83L226.5 -23.62L226.33 -24.29L226.33 -24.88L226.42 -25.29L226.71 -25.96L227 -26.38L227.62 -26.88L228.25 -27.17Z"/>
<path id="g6" d="M9 -21.62L8.96 -21.58L8.71 -21.58L5.83 -20.62L5.62 -20.5L3.5 -17.38L3.33 -16.96L2.38 -12.17L2.42 -12.08L2.38 -12L2.38 -9L2.42 -8.96L2.38 -8.83L3.38 -3.88L5.5 -.62L5.83 -.38L8.71 .58L8.96 .58L9 .62L11 .62L11.04 .58L11.29 .58L14.17 -.38L14.38 -.5L16.5 -3.62L16.67 -4.04L17.62 -8.83L17.58 -8.92L17.62 -9L17.62 -12L17.58 -12.04L17.62 -12.17L16.62 -17.12L14.5 -20.38L14.17 -20.62L11.29 -21.58L11.04 -21.58L11 -21.62ZM9.12 -20.38L10.88 -20.38L12.54 -19.54L13.54 -18.54L14.42 -16.79L15.38 -12L15.38 -9L14.42 -4.21L13.54 -2.46L12.54 -1.46L10.88 -.62L9.12 -.62L7.46 -1.46L6.46 -2.46L5.58 -4.21L4.62 -9L4.62 -12L5.58 -16.79L6.46 -18.54L7.46 -19.54Z"/>
<path id="g7" d="M4.83 -20.62L4.54 -20.46L3.54 -19.46L2.42 -17.21L2.38 -17L2.42 -15.79L2.54 -15.54L3.54 -14.54L4 -14.38L4.46 -14.54L5.46 -15.54L5.58 -15.79L5.62 -16L5.46 -16.46L4.46 -17.46L4 -17.62L4.46 -18.54L5.38 -19.46L8.08 -20.38L11.88 -20.38L13.54 -19.54L14.54 -18.54L15.38 -16.88L15.38 -15.12L14.54 -13.46L14.42 -13.33L11.79 -11.58L5.54 -8.46L3.54 -6.46L3.38 -6.17L2.42 -3.29L2.42 -3.04L2.38 -3L2.38 0L2.42 .21L2.62 .5L3 .62L3.21 .58L3.5 .38L3.62 0L3.62 -1.71L4.29 -2.38L5.83 -2.38L10.58 .5L11 .62L15 .62L15.21 .58L15.46 .46L16.46 -.54L17.58 -2.79L17.62 -3L17.62 -5L17.5 -5.38L17.21 -5.58L17 -5.62L16.79 -5.58L16.62 -5.5L16.42 -5.21L16.38 -5L16.38 -3.29L15.54 -2.46L13.88 -1.62L11.12 -1.62L6.29 -3.58L6.04 -3.58L6 -3.62L4 -3.62L3.92 -3.58L3.88 -3.67L4.54 -5.62L6.46 -7.54L8.21 -8.42L13.08 -10.33L16.38 -12.5L16.58 -12.75L17.58 -14.79L17.62 -15L17.62 -17L17.54 -17.33L16.46 -19.46L15.46 -20.46L15.17 -20.62L12.29 -21.58L12.04 -21.58L12 -21.62L8 -21.62L7.96 -21.58L7.71 -21.58ZM3.62 -16.38L3.67 -16.42L4.08 -16L4 -15.92L3.62 -16.29Z"/>
<path id="g8" d="M13 -21.62L12.62 -21.5L12.42 -21.29L1.54 -6.46L1.38 -6L1.5 -5.62L1.62 -5.5L2 -5.38L11.33 -5.38L11.38 -5.33L11.38 -.67L11.33 -.62L9 -.62L8.62 -.5L8.42 -.21L8.38 0L8.42 .21L8.62 .5L9 .62L16 .62L16.38 .5L16.5 .38L16.62 0L16.5 -.38L16.21 -.58L16 -.62L13.67 -.62L13.62 -.67L13.62 -5.33L13.67 -5.38L18 -5.38L18.38 -5.5L18.5 -5.62L18.62 -6L18.5 -6.38L18.38 -6.5L18 -6.62L13.67 -6.62L13.62 -6.67L13.62 -21L13.5 -21.38L13.38 -21.5ZM11.33 -17.67L11.38 -17.62L11.38 -6.67L11.33 -6.62L3.29 -6.62L3.25 -6.67Z"/>
<path id="g9" d="M13 -21.62L10 -21.62L9.96 -21.58L9.71 -21.58L6.83 -20.62L6.54 -20.46L4.54 -18.46L3.46 -16.33L3.46 -16.25L3.38 -16.17L2.38 -12.17L2.42 -12.12L2.38 -12L2.38 -6L2.42 -5.96L2.42 -5.71L3.38 -2.83L3.54 -2.54L5.54 -.54L5.83 -.38L8.71 .58L8.96 .58L9 .62L11 .62L11.04 .58L11.29 .58L14.17 -.38L14.46 -.54L16.46 -2.54L16.62 -2.83L17.58 -5.71L17.58 -5.96L17.62 -6L17.58 -7.29L16.62 -10.17L16.46 -10.46L14.46 -12.46L14.17 -12.62L11.29 -13.58L11.04 -13.58L11 -13.62L9.71 -13.58L6.83 -12.62L6.54 -12.46L4.67 -10.58L4.62 -10.62L4.62 -11.96L5.58 -15.79L6.46 -17.54L8.46 -19.54L10.12 -20.38L12.88 -20.38L14.46 -19.58L14.58 -19.46L15 -18.62L14.54 -18.46L13.54 -17.46L13.38 -17L13.54 -16.54L14.54 -15.54L15 -15.38L15.46 -15.54L16.46 -16.54L16.62 -17L16.58 -18.21L15.5 -20.38L15.25 -20.58L13.33 -21.54ZM10.88 -12.38L12.54 -11.54L14.46 -9.62L15.38 -6.92L15.38 -6.08L14.46 -3.38L12.54 -1.46L10.88 -.62L9.12 -.62L7.46 -1.46L5.54 -3.38L4.62 -6.08L4.62 -6.92L5.54 -9.62L7.38 -11.46L10.08 -12.38ZM15.33 -17.42L15.38 -17.29L15 -16.92L14.92 -17Z"/>
<path id="g10" d="M205.5 -14.38L205.38 -14L205.42 -13.79L205.5 -13.62L205.79 -13.42L206 -13.38L207.71 -13.38L212.92 -6.75L212.79 -6.54L207.71 -.62L206 -.62L205.62 -.5L205.5 -.38L205.38 0L205.42 .21L205.62 .5L206 .62L212 .62L212.38 .5L212.5 .38L212.62 0L212.5 -.38L212.21 -.58L212 -.62L209.46 -.62L209.42 -.67L213.71 -5.67L213.88 -5.54L217.71 -.67L217.67 -.62L216 -.62L215.62 -.5L215.5 -.38L215.38 0L215.42 .21L215.62 .5L216 .62L222 .62L222.21 .58L222.5 .38L222.62 0L222.58 -.21L222.5 -.38L222.21 -.58L222 -.62L220.29 -.62L215.08 -7.25L215.21 -7.46L220.29 -13.38L222 -13.38L222.38 -13.5L222.5 -13.62L222.62 -14L222.58 -14.21L222.38 -14.5L222 -14.62L216 -14.62L215.62 -14.5L215.5 -14.38L215.38 -14L215.5 -13.62L215.79 -13.42L216 -13.38L218.54 -13.38L218.58 -13.33L214.29 -8.33L214.12 -8.46L210.29 -13.33L210.33 -13.38L212 -13.38L212.38 -13.5L212.5 -13.62L212.62 -14L212.58 -14.21L212.38 -14.5L212 -14.62L206 -14.62L205.79 -14.58ZM183.5 -14.38L183.38 -14L183.42 -13.79L183.5 -13.62L183.79 -13.42L184 -13.38L186.33 -13.38L186.38 -13.33L186.38 -3L186.46 -2.67L187.42 -.75L187.62 -.5L187.83 -.38L190.71 .58L190.96 .58L191 .62L193 .62L193.04 .58L193.29 .58L196.17 -.38L196.46 -.54L197.33 -1.42L197.38 -1.38L197.38 0L197.42 .21L197.5 .38L197.79 .58L198 .62L202 .62L202.21 .58L202.5 .38L202.62 0L202.58 -.21L202.5 -.38L202.21 -.58L202 -.62L199.67 -.62L199.62 -.67L199.62 -14L199.58 -14.21L199.38 -14.5L199 -14.62L195 -14.62L194.62 -14.5L194.42 -14.21L194.38 -14L194.42 -13.79L194.5 -13.62L194.79 -13.42L195 -13.38L197.33 -13.38L197.38 -13.33L197.38 -3.29L195.62 -1.54L192.92 -.62L191.12 -.62L189.54 -1.42L189.42 -1.54L188.62 -3.12L188.62 -14L188.5 -14.38L188.38 -14.5L188 -14.62L184 -14.62L183.79 -14.58ZM125 -14.62L124.96 -14.58L124.71 -14.58L121.83 -13.62L121.54 -13.46L119.54 -11.46L119.38 -11.17L118.42 -8.29L118.42 -8.04L118.38 -8L118.38 -6L118.42 -5.96L118.42 -5.71L119.38 -2.83L119.54 -2.54L121.54 -.54L121.83 -.38L124.71 .58L124.96 .58L125 .62L127 .62L127.04 .58L127.29 .58L130.17 -.38L130.46 -.54L132.46 -2.54L132.62 -3L132.5 -3.38L132.38 -3.5L132 -3.62L131.54 -3.46L129.54 -1.5L126.92 -.62L125.12 -.62L123.46 -1.46L121.54 -3.38L120.62 -6.08L120.62 -7.33L120.67 -7.38L132 -7.38L132.21 -7.42L132.5 -7.62L132.62 -8L132.62 -10L132.54 -10.33L131.46 -12.46L130.46 -13.46L128.21 -14.58L128 -14.62ZM120.88 -8.67L121.54 -10.62L123.46 -12.54L125.12 -13.38L127.88 -13.38L129.46 -12.58L129.58 -12.46L130.38 -10.88L130.38 -8.67L130.33 -8.62L120.92 -8.62ZM98.62 -14.5L98.5 -14.38L98.38 -14L98.42 -13.79L98.62 -13.5L99 -13.38L100.54 -13.38L100.62 -13.29L106.33 .08L106.5 .38L106.79 .58L107 .62L107.38 .5L107.67 .08L113.38 -13.29L113.46 -13.38L115 -13.38L115.38 -13.5L115.5 -13.62L115.62 -14L115.5 -14.38L115.38 -14.5L115 -14.62L109 -14.62L108.79 -14.58L108.5 -14.38L108.38 -14L108.42 -13.79L108.5 -13.62L108.79 -13.42L109 -13.38L112 -13.38L112.04 -13.33L107.5 -2.71L107.42 -2.67L102.96 -13.29L103 -13.38L105 -13.38L105.21 -13.42L105.38 -13.5L105.58 -13.79L105.62 -14L105.5 -14.38L105.38 -14.5L105 -14.62L99 -14.62ZM88.79 -14.58L88.5 -14.38L88.38 -14L88.5 -13.62L88.79 -13.42L89 -13.38L91.33 -13.38L91.38 -13.33L91.38 -.67L91.33 -.62L89 -.62L88.79 -.58L88.62 -.5L88.42 -.21L88.38 0L88.42 .21L88.62 .5L89 .62L96 .62L96.21 .58L96.5 .38L96.62 0L96.5 -.38L96.21 -.58L96 -.62L93.67 -.62L93.62 -.67L93.62 -14L93.58 -14.21L93.38 -14.5L93 -14.62L89 -14.62ZM55.54 -12.46L55.38 -12L55.42 -10.79L55.62 -10.5L56 -10.38L57 -10.38L57.38 -10.5L57.5 -10.62L57.62 -11L57.62 -12L57.58 -12.21L57.42 -12.5L59.12 -13.38L62.88 -13.38L64.54 -12.54L65.38 -11.71L65.38 -10.29L64.58 -9.54L58.71 -8.58L55.83 -7.62L55.5 -7.38L54.42 -5.21L54.38 -5L54.38 -3L54.46 -2.67L55.42 -.75L55.62 -.5L55.83 -.38L58.71 .58L58.96 .58L59 .62L62 .62L62.33 .54L64.46 -.54L65.83 -1.92L66.42 -.75L66.62 -.5L68.67 .54L69 .62L70 .62L70.21 .58L70.5 .38L70.62 0L70.5 -.38L70.21 -.58L69.29 -.62L68.46 -1.46L67.62 -3.12L67.62 -10L67.58 -10.21L66.46 -12.46L65.46 -13.46L63.33 -14.54L63 -14.62L59 -14.62L58.67 -14.54L56.54 -13.46ZM65.38 -8.46L65.38 -3.29L63.54 -1.46L61.88 -.62L59.12 -.62L57.54 -1.42L57.42 -1.54L56.62 -3.12L56.62 -4.88L57.42 -6.46L57.54 -6.58L59.21 -7.42L64.88 -8.33L65.21 -8.42L65.33 -8.5ZM31 -14.62L30.96 -14.58L30.71 -14.58L27.83 -13.62L27.54 -13.46L25.54 -11.46L25.38 -11.17L24.42 -8.29L24.42 -8.04L24.38 -8L24.38 -6L24.42 -5.96L24.42 -5.71L25.38 -2.83L25.54 -2.54L27.54 -.54L27.83 -.38L30.71 .58L30.96 .58L31 .62L33 .62L33.04 .58L33.29 .58L36.17 -.38L36.46 -.54L38.46 -2.54L38.62 -3L38.5 -3.38L38.38 -3.5L38 -3.62L37.54 -3.46L35.54 -1.5L32.92 -.62L31.12 -.62L29.46 -1.46L27.54 -3.38L26.62 -6.08L26.62 -7.33L26.67 -7.38L38 -7.38L38.21 -7.42L38.5 -7.62L38.62 -8L38.62 -10L38.54 -10.33L37.46 -12.46L36.46 -13.46L34.21 -14.58L34 -14.62ZM26.88 -8.67L27.54 -10.62L29.46 -12.54L31.12 -13.38L33.88 -13.38L35.46 -12.58L35.58 -12.46L36.38 -10.88L36.38 -8.67L36.33 -8.62L26.92 -8.62ZM172.79 -21.58L172.5 -21.38L172.38 -21L172.5 -20.62L172.79 -20.42L173 -20.38L175.33 -20.38L175.38 -20.33L175.38 -.67L175.33 -.62L173 -.62L172.79 -.58L172.62 -.5L172.42 -.21L172.38 0L172.42 .21L172.62 .5L173 .62L180 .62L180.21 .58L180.5 .38L180.62 0L180.5 -.38L180.21 -.58L180 -.62L177.67 -.62L177.62 -.67L177.62 -21L177.58 -21.21L177.38 -21.5L177 -21.62L173 -21.62ZM169.21 -21.58L169 -21.62L153 -21.62L152.79 -21.58L152.5 -21.38L152.38 -21L152.42 -20.79L152.5 -20.62L152.79 -20.42L153 -20.38L155.33 -20.38L155.38 -20.33L155.38 -.67L155.33 -.62L153 -.62L152.79 -.58L152.5 -.38L152.38 0L152.42 .21L152.62 .5L153 .62L160 .62L160.38 .5L160.58 .21L160.62 0L160.58 -.21L160.5 -.38L160.21 -.58L160 -.62L157.67 -.62L157.62 -.67L157.62 -10.33L157.67 -10.38L162.33 -10.38L162.38 -10.33L162.38 -7L162.42 -6.79L162.62 -6.5L163 -6.38L163.38 -6.5L163.58 -6.79L163.62 -7L163.62 -15L163.58 -15.21L163.38 -15.5L163 -15.62L162.79 -15.58L162.62 -15.5L162.42 -15.21L162.38 -15L162.38 -11.67L162.33 -11.62L157.67 -11.62L157.62 -11.67L157.62 -20.33L157.67 -20.38L167.46 -20.38L168.38 -14.92L168.5 -14.62L168.62 -14.5L169 -14.38L169.38 -14.5L169.5 -14.62L169.62 -15L169.62 -21L169.5 -21.38ZM92 -21.62L91.54 -21.46L90.54 -20.46L90.38 -20L90.54 -19.54L91.54 -18.54L92 -18.38L92.46 -18.54L93.46 -19.54L93.62 -20L93.46 -20.46L92.46 -21.46ZM91.92 -20L92 -20.08L92.08 -20L92 -19.92ZM76.79 -21.58L76.5 -21.38L76.38 -21L76.38 -14.67L76.33 -14.62L74 -14.62L73.79 -14.58L73.62 -14.5L73.42 -14.21L73.38 -14L73.42 -13.79L73.62 -13.5L74 -13.38L76.33 -13.38L76.38 -13.33L76.38 -4L76.42 -3.96L76.42 -3.71L77.38 -.83L77.5 -.62L77.75 -.42L79.79 .58L80 .62L82 .62L82.21 .58L84.25 -.42L84.5 -.62L85.54 -2.67L85.62 -3L85.58 -3.21L85.5 -3.38L85.21 -3.58L85 -3.62L84.62 -3.5L84.42 -3.25L83.58 -1.54L83.46 -1.42L81.88 -.62L80.29 -.62L79.5 -1.46L78.62 -4.08L78.62 -13.33L78.67 -13.38L82 -13.38L82.38 -13.5L82.5 -13.62L82.62 -14L82.5 -14.38L82.38 -14.5L82 -14.62L78.67 -14.62L78.62 -14.67L78.62 -21L78.58 -21.21L78.5 -21.38L78.21 -21.58L78 -21.62L77.79 -21.58L77.5 -21.38L77.21 -21.58L77 -21.62ZM42.79 -21.58L42.5 -21.38L42.38 -21L42.5 -20.62L42.79 -20.42L43 -20.38L45.33 -20.38L45.38 -20.33L45.38 -.67L45.33 -.62L43 -.62L42.79 -.58L42.62 -.5L42.42 -.21L42.38 0L42.42 .21L42.62 .5L43 .62L50 .62L50.21 .58L50.5 .38L50.62 0L50.5 -.38L50.21 -.58L50 -.62L47.67 -.62L47.62 -.67L47.62 -21L47.58 -21.21L47.38 -21.5L47 -21.62L43 -21.62ZM1.62 -21.5L1.5 -21.38L1.38 -21L1.5 -20.62L1.79 -20.42L2 -20.38L4.33 -20.38L4.38 -20.33L4.38 -.67L4.33 -.62L2 -.62L1.79 -.58L1.62 -.5L1.42 -.21L1.38 0L1.5 .38L1.62 .5L2 .62L9 .62L9.21 .58L9.5 .38L9.62 0L9.58 -.21L9.5 -.38L9.21 -.58L9 -.62L6.67 -.62L6.62 -.67L6.62 -10.33L6.67 -10.38L10.88 -10.38L12.46 -9.58L12.58 -9.46L13.42 -7.79L15.33 -1L15.54 -.54L16.54 .46L16.79 .58L17 .62L19 .62L19.38 .5L19.58 .25L20.58 -1.79L20.62 -3L20.5 -3.38L20.38 -3.5L20 -3.62L19.62 -3.5L19.42 -3.21L19.38 -2.29L18.71 -1.62L18.29 -1.62L17.5 -2.42L14.67 -9.08L14.46 -9.46L13.58 -10.33L13.62 -10.38L14.29 -10.42L17.17 -11.38L17.46 -11.54L18.46 -12.54L19.58 -14.79L19.62 -15L19.62 -17L19.54 -17.33L18.46 -19.46L17.46 -20.46L17.17 -20.62L14.29 -21.58L14.04 -21.58L14 -21.62L2 -21.62ZM16.5 -1.5L16.54 -1.54L17.42 -.67L17.29 -.62L16.54 -1.38ZM6.62 -20.33L6.67 -20.38L13.88 -20.38L15.54 -19.54L16.54 -18.54L17.38 -16.88L17.38 -15.12L16.54 -13.46L15.54 -12.46L13.88 -11.62L6.67 -11.62L6.62 -11.67Z"/>
<path id="g11" d="M11.21 -21.58L11 -21.62L10.54 -21.46L7.54 -18.46L5.75 -17.58L5.5 -17.38L5.42 -17.21L5.38 -17L5.5 -16.62L5.79 -16.42L6 -16.38L6.21 -16.42L8.46 -17.54L9.33 -18.42L9.38 -18.38L9.38 -.67L9.33 -.62L6 -.62L5.79 -.58L5.5 -.38L5.38 0L5.5 .38L5.79 .58L6 .62L15 .62L15.38 .5L15.58 .21L15.62 0L15.58 -.21L15.5 -.38L15.21 -.58L15 -.62L11.67 -.62L11.62 -.67L11.62 -21L11.5 -21.38Z"/>
<path id="g12" d="M263.5 -14.38L263.38 -14L263.42 -13.79L263.5 -13.62L263.79 -13.42L264 -13.38L265.71 -13.38L270.92 -6.75L270.79 -6.54L265.71 -.62L264 -.62L263.62 -.5L263.5 -.38L263.38 0L263.42 .21L263.62 .5L264 .62L270 .62L270.38 .5L270.5 .38L270.62 0L270.5 -.38L270.21 -.58L270 -.62L267.46 -.62L267.42 -.67L271.71 -5.67L271.88 -5.54L275.71 -.67L275.67 -.62L274 -.62L273.62 -.5L273.5 -.38L273.38 0L273.42 .21L273.62 .5L274 .62L280 .62L280.21 .58L280.5 .38L280.62 0L280.58 -.21L280.5 -.38L280.21 -.58L280 -.62L278.29 -.62L273.08 -7.25L273.21 -7.46L278.29 -13.38L280 -13.38L280.38 -13.5L280.5 -13.62L280.62 -14L280.58 -14.21L280.38 -14.5L280 -14.62L274 -14.62L273.62 -14.5L273.5 -14.38L273.38 -14L273.5 -13.62L273.79 -13.42L274 -13.38L276.54 -13.38L276.58 -13.33L272.29 -8.33L272.12 -8.46L268.29 -13.33L268.33 -13.38L270 -13.38L270.38 -13.5L270.5 -13.62L270.62 -14L270.58 -14.21L270.38 -14.5L270 -14.62L264 -14.62L263.79 -14.58ZM241.5 -14.38L241.38 -14L241.42 -13.79L241.5 -13.62L241.79 -13.42L242 -13.38L244.33 -13.38L244.38 -13.33L244.38 -3L244.46 -2.67L245.42 -.75L245.62 -.5L245.83 -.38L248.71 .58L248.96 .58L249 .62L251 .62L251.04 .58L251.29 .58L254.17 -.38L254.46 -.54L255.33 -1.42L255.38 -1.38L255.38 0L255.42 .21L255.5 .38L255.79 .58L256 .62L260 .62L260.21 .58L260.5 .38L260.62 0L260.58 -.21L260.5 -.38L260.21 -.58L260 -.62L257.67 -.62L257.62 -.67L257.62 -14L257.58 -14.21L257.38 -14.5L257 -14.62L253 -14.62L252.62 -14.5L252.42 -14.21L252.38 -14L252.42 -13.79L252.5 -13.62L252.79 -13.42L253 -13.38L255.33 -13.38L255.38 -13.33L255.38 -3.29L253.62 -1.54L250.92 -.62L249.12 -.62L247.54 -1.42L247.42 -1.54L246.62 -3.12L246.62 -14L246.5 -14.38L246.38 -14.5L246 -14.62L242 -14.62L241.79 -14.58ZM162 -14.62L161.96 -14.58L161.71 -14.58L158.83 -13.62L158.54 -13.46L156.54 -11.46L156.38 -11.17L155.42 -8.29L155.42 -8.04L155.38 -8L155.38 -6L155.42 -5.96L155.42 -5.71L156.38 -2.83L156.54 -2.54L158.54 -.54L158.83 -.38L161.71 .58L161.96 .58L162 .62L164 .62L164.04 .58L164.29 .58L167.17 -.38L167.46 -.54L169.46 -2.54L169.62 -3L169.5 -3.38L169.38 -3.5L169 -3.62L168.54 -3.46L166.54 -1.5L163.92 -.62L162.12 -.62L160.46 -1.46L158.54 -3.38L157.62 -6.08L157.62 -7.33L157.67 -7.38L169 -7.38L169.21 -7.42L169.5 -7.62L169.62 -8L169.62 -10L169.54 -10.33L168.46 -12.46L167.46 -13.46L165.21 -14.58L165 -14.62ZM157.88 -8.67L158.54 -10.62L160.46 -12.54L162.12 -13.38L164.88 -13.38L166.46 -12.58L166.58 -12.46L167.38 -10.88L167.38 -8.67L167.33 -8.62L157.92 -8.62ZM137.62 -14.5L137.5 -14.38L137.38 -14L137.38 -10L137.5 -9.62L137.62 -9.5L138 -9.38L138.38 -9.5L138.62 -9.83L139.46 -13.29L139.54 -13.38L147.67 -13.38L147.71 -13.33L137.5 -.38L137.38 0L137.5 .38L137.62 .5L138 .62L150 .62L150.38 .5L150.5 .38L150.62 0L150.62 -4L150.5 -4.38L150.38 -4.5L150 -4.62L149.62 -4.5L149.38 -4.17L148.54 -.71L148.46 -.62L140.33 -.62L140.29 -.67L150.5 -13.62L150.62 -14L150.5 -14.38L150.38 -14.5L150 -14.62L138 -14.62ZM125.79 -14.58L125.5 -14.38L125.38 -14L125.5 -13.62L125.79 -13.42L126 -13.38L128.33 -13.38L128.38 -13.33L128.38 -.67L128.33 -.62L126 -.62L125.79 -.58L125.62 -.5L125.42 -.21L125.38 0L125.42 .21L125.62 .5L126 .62L133 .62L133.21 .58L133.5 .38L133.62 0L133.5 -.38L133.21 -.58L133 -.62L130.67 -.62L130.62 -.67L130.62 -14L130.58 -14.21L130.38 -14.5L130 -14.62L126 -14.62ZM96.54 -12.46L96.38 -12L96.42 -10.79L96.62 -10.5L97 -10.38L98 -10.38L98.38 -10.5L98.5 -10.62L98.62 -11L98.62 -12L98.58 -12.21L98.42 -12.5L100.12 -13.38L103.88 -13.38L105.54 -12.54L106.38 -11.71L106.38 -10.29L105.58 -9.54L99.71 -8.58L96.83 -7.62L96.5 -7.38L95.42 -5.21L95.38 -5L95.38 -3L95.46 -2.67L96.42 -.75L96.62 -.5L96.83 -.38L99.71 .58L99.96 .58L100 .62L103 .62L103.33 .54L105.46 -.54L106.83 -1.92L107.42 -.75L107.62 -.5L109.67 .54L110 .62L111 .62L111.21 .58L111.5 .38L111.62 0L111.5 -.38L111.21 -.58L110.29 -.62L109.46 -1.46L108.62 -3.12L108.62 -10L108.58 -10.21L107.46 -12.46L106.46 -13.46L104.33 -14.54L104 -14.62L100 -14.62L99.67 -14.54L97.54 -13.46ZM106.38 -8.46L106.38 -3.29L104.54 -1.46L102.88 -.62L100.12 -.62L98.54 -1.42L98.42 -1.54L97.62 -3.12L97.62 -4.88L98.42 -6.46L98.54 -6.58L100.21 -7.42L105.88 -8.33L106.21 -8.42L106.33 -8.5ZM61.42 -14.21L61.38 -14L61.42 -13.79L61.5 -13.62L61.79 -13.42L62 -13.38L64.33 -13.38L64.38 -13.33L64.38 -.67L64.33 -.62L62 -.62L61.79 -.58L61.5 -.38L61.38 0L61.5 .38L61.79 .58L62 .62L69 .62L69.21 .58L69.5 .38L69.62 0L69.58 -.21L69.5 -.38L69.21 -.58L69 -.62L66.67 -.62L66.62 -.67L66.62 -10.71L68.38 -12.46L71.08 -13.38L72.88 -13.38L74.46 -12.58L74.58 -12.46L75.38 -10.88L75.38 -.67L75.33 -.62L73 -.62L72.79 -.58L72.5 -.38L72.38 0L72.42 .21L72.62 .5L73 .62L80 .62L80.21 .58L80.5 .38L80.62 0L80.58 -.21L80.5 -.38L80.21 -.58L80 -.62L77.67 -.62L77.62 -.67L77.62 -10.71L79.38 -12.46L82.08 -13.38L83.88 -13.38L85.46 -12.58L85.58 -12.46L86.38 -10.88L86.38 -.67L86.33 -.62L84 -.62L83.79 -.58L83.62 -.5L83.42 -.21L83.38 0L83.5 .38L83.62 .5L84 .62L91 .62L91.38 .5L91.58 .21L91.62 0L91.58 -.21L91.5 -.38L91.21 -.58L91 -.62L88.67 -.62L88.62 -.67L88.62 -11L88.54 -11.33L87.58 -13.25L87.38 -13.5L87.17 -13.62L84.29 -14.58L84.04 -14.58L84 -14.62L82 -14.62L81.96 -14.58L81.71 -14.58L78.83 -13.62L78.54 -13.46L77.17 -12.08L76.58 -13.25L76.38 -13.5L76.17 -13.62L73.29 -14.58L73.04 -14.58L73 -14.62L71 -14.62L70.96 -14.58L70.71 -14.58L67.83 -13.62L67.54 -13.46L66.67 -12.58L66.62 -12.62L66.62 -14L66.58 -14.21L66.5 -14.38L66.21 -14.58L66 -14.62L62 -14.62L61.62 -14.5ZM44.79 -14.58L44.5 -14.38L44.38 -14L44.5 -13.62L44.79 -13.42L45 -13.38L47.33 -13.38L47.38 -13.33L47.38 -.67L47.33 -.62L45 -.62L44.79 -.58L44.62 -.5L44.42 -.21L44.38 0L44.42 .21L44.62 .5L45 .62L52 .62L52.21 .58L52.5 .38L52.62 0L52.5 -.38L52.21 -.58L52 -.62L49.67 -.62L49.62 -.67L49.62 -7.92L50.5 -10.54L52.46 -12.54L54.12 -13.38L56.38 -13.38L56.42 -13.33L55.54 -12.46L55.38 -12L55.42 -11.79L55.54 -11.54L56.54 -10.54L57 -10.38L57.21 -10.42L57.46 -10.54L58.46 -11.54L58.58 -11.79L58.62 -12L58.58 -13.21L58.46 -13.46L57.46 -14.46L57.21 -14.58L57 -14.62L54 -14.62L53.67 -14.54L51.54 -13.46L49.67 -11.58L49.62 -11.62L49.62 -14L49.58 -14.21L49.38 -14.5L49 -14.62L45 -14.62ZM57.33 -12.42L57.38 -12.29L57 -11.92L56.92 -12ZM32 -14.62L31.96 -14.58L31.71 -14.58L28.83 -13.62L28.54 -13.46L26.54 -11.46L26.38 -11.17L25.42 -8.29L25.42 -8.04L25.38 -8L25.38 -6L25.42 -5.96L25.42 -5.71L26.38 -2.83L26.54 -2.54L28.54 -.54L28.83 -.38L31.71 .58L31.96 .58L32 .62L34 .62L34.04 .58L34.29 .58L37.17 -.38L37.46 -.54L39.46 -2.54L39.62 -2.83L40.58 -5.71L40.58 -5.96L40.62 -6L40.62 -8L40.58 -8.04L40.58 -8.29L39.62 -11.17L39.46 -11.46L37.46 -13.46L37.17 -13.62L34.29 -14.58L34.04 -14.58L34 -14.62ZM32.12 -13.38L33.88 -13.38L35.54 -12.54L37.46 -10.62L38.38 -7.92L38.38 -6.08L37.46 -3.38L35.54 -1.46L33.88 -.62L32.12 -.62L30.46 -1.46L28.54 -3.38L27.62 -6.08L27.62 -7.92L28.54 -10.62L30.46 -12.54ZM230.79 -21.58L230.5 -21.38L230.38 -21L230.5 -20.62L230.79 -20.42L231 -20.38L233.33 -20.38L233.38 -20.33L233.38 -.67L233.33 -.62L231 -.62L230.79 -.58L230.62 -.5L230.42 -.21L230.38 0L230.42 .21L230.62 .5L231 .62L238 .62L238.21 .58L238.5 .38L238.62 0L238.5 -.38L238.21 -.58L238 -.62L235.67 -.62L235.62 -.67L235.62 -21L235.58 -21.21L235.38 -21.5L235 -21.62L231 -21.62ZM227.21 -21.58L227 -21.62L211 -21.62L210.79 -21.58L210.5 -21.38L210.38 -21L210.42 -20.79L210.5 -20.62L210.79 -20.42L211 -20.38L213.33 -20.38L213.38 -20.33L213.38 -.67L213.33 -.62L211 -.62L210.79 -.58L210.5 -.38L210.38 0L210.42 .21L210.62 .5L211 .62L218 .62L218.38 .5L218.58 .21L218.62 0L218.58 -.21L218.5 -.38L218.21 -.58L218 -.62L215.67 -.62L215.62 -.67L215.62 -10.33L215.67 -10.38L220.33 -10.38L220.38 -10.33L220.38 -7L220.42 -6.79L220.62 -6.5L221 -6.38L221.38 -6.5L221.58 -6.79L221.62 -7L221.62 -15L221.58 -15.21L221.38 -15.5L221 -15.62L220.79 -15.58L220.62 -15.5L220.42 -15.21L220.38 -15L220.38 -11.67L220.33 -11.62L215.67 -11.62L215.62 -11.67L215.62 -20.33L215.67 -20.38L225.46 -20.38L226.38 -14.92L226.5 -14.62L226.62 -14.5L227 -14.38L227.38 -14.5L227.5 -14.62L227.62 -15L227.62 -21L227.5 -21.38ZM183.79 -21.58L183.5 -21.38L183.38 -21L183.5 -20.62L183.79 -20.42L184 -20.38L186.33 -20.38L186.38 -20.33L186.38 -12.62L186.33 -12.58L185.46 -13.46L183.33 -14.54L183 -14.62L181 -14.62L180.96 -14.58L180.71 -14.58L177.83 -13.62L177.54 -13.46L175.54 -11.46L175.38 -11.17L174.42 -8.29L174.42 -8.04L174.38 -8L174.38 -6L174.42 -5.96L174.42 -5.71L175.38 -2.83L175.54 -2.54L177.54 -.54L177.83 -.38L180.71 .58L180.96 .58L181 .62L183 .62L183.33 .54L185.46 -.54L186.33 -1.42L186.38 -1.38L186.38 0L186.42 .21L186.5 .38L186.79 .58L187 .62L191 .62L191.21 .58L191.5 .38L191.62 0L191.5 -.38L191.21 -.58L191 -.62L188.67 -.62L188.62 -.67L188.62 -21L188.58 -21.21L188.38 -21.5L188 -21.62L184 -21.62ZM181.12 -13.38L182.88 -13.38L184.54 -12.54L186.38 -10.71L186.38 -3.29L184.54 -1.46L182.88 -.62L181.12 -.62L179.46 -1.46L177.54 -3.38L176.62 -6.08L176.62 -7.92L177.54 -10.62L179.46 -12.54ZM129 -21.62L128.54 -21.46L127.54 -20.46L127.38 -20L127.54 -19.54L128.54 -18.54L129 -18.38L129.46 -18.54L130.46 -19.54L130.62 -20L130.46 -20.46L129.46 -21.46ZM128.92 -20L129 -20.08L129.08 -20L129 -19.92ZM114.79 -21.58L114.5 -21.38L114.38 -21L114.5 -20.62L114.79 -20.42L115 -20.38L117.33 -20.38L117.38 -20.33L117.38 -.67L117.33 -.62L115 -.62L114.79 -.58L114.62 -.5L114.42 -.21L114.38 0L114.42 .21L114.62 .5L115 .62L122 .62L122.21 .58L122.5 .38L122.62 0L122.5 -.38L122.21 -.58L122 -.62L119.67 -.62L119.62 -.67L119.62 -21L119.58 -21.21L119.38 -21.5L119 -21.62L115 -21.62ZM1.62 -21.5L1.5 -21.38L1.38 -21L1.5 -20.62L1.79 -20.42L2 -20.38L4.33 -20.38L4.38 -20.33L4.38 -.67L4.33 -.62L2 -.62L1.79 -.58L1.62 -.5L1.42 -.21L1.38 0L1.5 .38L1.62 .5L2 .62L8 .62L8.38 .5L8.58 .21L8.62 0L8.58 -.21L8.5 -.38L8.21 -.58L8 -.62L5.67 -.62L5.62 -.67L5.62 -18.29L5.67 -18.33L17.46 .33L17.62 .5L18 .62L18.38 .5L18.5 .38L18.62 0L18.62 -20.33L18.67 -20.38L21 -20.38L21.21 -20.42L21.38 -20.5L21.58 -20.79L21.62 -21L21.5 -21.38L21.38 -21.5L21 -21.62L15 -21.62L14.62 -21.5L14.42 -21.21L14.38 -21L14.42 -20.79L14.5 -20.62L14.79 -20.42L15 -20.38L17.33 -20.38L17.38 -20.33L17.38 -4.29L17.33 -4.25L6.54 -21.33L6.38 -21.5L6 -21.62L2 -21.62ZM5.67 -20.33L6.12 -19.62L6.08 -19.58L6 -19.62L5.67 -19.5L5.62 -19.54L5.62 -20.29Z"/>
</defs>
<g fill="#1c1c1c" fill-rule="evenodd">
<use href="#g0" transform="translate(71.10 413.30) scale(0.85)"/>
<use href="#g1" transform="translate(239.08 413.30) scale(0.85)"/>
<use href="#g2" transform="translate(407.05 413.30) scale(0.85)"/>
<use href="#g3" transform="translate(575.02 413.30) scale(0.85)"/>
<use href="#g4" transform="translate(743.00 413.30) scale(0.85)"/>
<use href="#g5" transform="translate(334.03 460.20) scale(0.85)"/>
<use href="#g6" transform="translate(76.10 356.10) scale(0.85)"/>
<use href="#g7" transform="translate(76.10 269.84) scale(0.85)"/>
<use href="#g8" transform="translate(76.10 183.58) scale(0.85)"/>
<use href="#g9" transform="translate(76.10 97.32) scale(0.85)"/>
<use href="#g10" transform="translate(42.40 201.50) rotate(-90) scale(0.85) translate(-112.00 0)"/>
<use href="#g0" transform="translate(71.10 904.40) scale(0.85)"/>
<use href="#g1" transform="translate(239.08 904.40) scale(0.85)"/>
<use href="#g2" transform="translate(407.05 904.40) scale(0.85)"/>
<use href="#g3" transform="translate(575.02 904.40) scale(0.85)"/>
<use href="#g4" transform="translate(743.00 904.40) scale(0.85)"/>
<use href="#g5" transform="translate(334.03 951.30) scale(0.85)"/>
<use href="#g6" transform="translate(76.10 847.20) scale(0.85)"/>
<use href="#g7" transform="translate(76.10 760.94) scale(0.85)"/>
<use href="#g8" transform="translate(76.10 674.68) scale(0.85)"/>
<use href="#g9" transform="translate(76.10 588.42) scale(0.85)"/>
<use href="#g10" transform="translate(42.40 692.60) rotate(-90) scale(0.85) translate(-112.00 0)"/>
<use href="#g0" transform="translate(71.10 1395.50) scale(0.85)"/>
<use href="#g1" transform="translate(239.08 1395.50) scale(0.85)"/>
<use href="#g2" transform="translate(407.05 1395.50) scale(0.85)"/>
<use href="#g3" transform="translate(575.02 1395.50) scale(0.85)"/>
<use href="#g4" transform="translate(743.00 1395.50) scale(0.85)"/>
<use href="#g5" transform="translate(334.03 1442.40) scale(0.85)"/>
<use href="#g6" transform="translate(76.10 1338.30) scale(0.85)"/>
<use href="#g11" transform="translate(76.10 1068.30) scale(0.85)"/>
<use href="#g12" transform="translate(42.40 1183.70) rotate(-90) scale(0.85) translate(-141.00 0)"/>
</g>
<clipPath id="c1"><rect x="104.8" y="23.6" width="671.9" height="355.8"/></clipPath>
<g clip-path="url(#c1)">
<path d="M104.8 347.2H776.7" fill="none" stroke="#1a1a1a" stroke-width="1.1" stroke-dasharray="15.6 12.3"/>
<path d="M104.8 262.5H105.2V258.5H106.1V264.3H106.9V271.8H107.7V260.0H108.6V266.3H109.4V271.1H110.3V260.8H111.1V262.6H111.9V269.5H112.8V275.7H113.6V258.6H114.5V262.4H115.3V271.1H116.1V257.4H117.0V266.4H117.8V265.6H118.7V259.3H119.5V256.7H120.3V260.1H121.2V246.8H122.0V248.3H122.9V259.6H123.7V256.1H124.5V266.9H125.4V266.3H126.2V257.1H127.1V249.2H127.9V252.2H128.7V266.6H129.6V277.0H130.4V258.8H131.3V251.8H132.1V281.4H132.9V272.8H133.8V253.9H134.6V266.3H135.5V256.2H136.3V249.3H137.1V250.3H138.0V244.2H138.8V288.1H139.7V308.4H140.5V329.6H141.3V310.4H142.2V289.6H143.0V262.9H143.9V242.5H144.7V245.7H145.5V243.7H146.4V251.1H147.2V264.5H148.1V300.4H148.9V329.0H149.7V316.1H150.6V301.0H151.4V291.1H152.3V272.3H153.1V282.1H153.9V268.1H154.8V275.4H155.6V291.1H156.5V307.6H157.3V335.7H158.1V355.4H159.0V346.8H159.8V345.9H160.7V328.8H161.5V308.9H162.3V292.5H163.2V265.9H164.0V254.7H164.9V271.7H165.7V308.9H166.5V292.9H167.4V280.9H168.2V270.7H169.1V259.3H169.9V251.4H170.7V245.9H171.6V226.0H172.4V224.7H173.2V234.5H174.1V252.4H174.9V258.6H175.8V261.1H176.6V267.3H177.4V277.1H178.3V255.0H179.1V245.9H180.0V239.5H180.8V239.6H181.6V243.8H182.5V234.7H183.3V249.1H184.2V271.6H185.0V290.0H185.8V303.9H186.7V270.5H187.5V285.7H188.4V308.0H189.2V326.7H190.0V345.8H190.9V353.4H191.7V346.2H192.6V340.1H193.4V331.8H194.2V330.6H195.1V321.3H195.9V317.2H196.8V298.6H197.6V275.3H198.4V253.6H199.3V254.8H200.1V260.8H201.0V238.7H201.8V228.5H202.6V257.3H203.5V283.5H204.3V304.3H205.2V345.2H206.0V341.2H206.8V328.9H207.7V327.2H208.5V331.7H209.4V334.3H210.2V337.6H211.0V314.8H211.9V302.6H212.7V320.0H213.6V350.5H214.4V342.1H215.2V348.4H216.1V352.9H216.9V340.6H217.8V334.1H218.6V321.3H219.4V331.6H220.3V334.6H221.1V300.4H222.0V278.6H222.8V248.3H223.6V224.5H224.5V219.2H225.3V217.2H226.2V221.6H227.0V228.3H227.8V233.4H228.7V239.2H229.5V242.2H230.4V229.4H231.2V214.9H232.0V227.3H232.9V246.8H233.7V265.0H234.6V293.6H235.4V267.5H236.2V230.7H237.1V206.3H237.9V215.7H238.8V217.6H239.6V209.0H240.4V199.9H241.3V206.7H242.1V255.2H243.0V279.3H243.8V296.6H244.6V253.7H245.5V236.6H246.3V219.8H247.2V233.3H248.0V224.1H248.8V217.6H249.7V208.1H250.5V209.1H251.4V218.7H252.2V216.4H253.0V218.3H253.9V239.2H254.7V256.1H255.6V287.5H256.4V271.9H257.2V245.6H258.1V211.7H258.9V211.7H259.8V213.5H260.6V205.3H261.4V204.7H262.3V214.4H263.1V209.0H264.0V212.2H264.8V234.3H265.6V261.7H266.5V300.8H267.3V329.0H268.2V352.3H269.0V335.2H269.8V293.3H270.7V267.8H271.5V244.5H272.4V294.3H273.2V340.4H274.0V325.5H274.9V277.6H275.7V288.0H276.6V302.7H277.4V340.2H278.2V310.0H279.1V261.5H279.9V214.7H280.8V215.5H281.6V208.7H282.4V202.0H283.3V201.1H284.1V191.3H285.0V207.1H285.8V223.8H286.6V240.5H287.5V231.2H288.3V238.0H289.2V254.8H290.0V222.6H290.8V202.1H291.7V208.8H292.5V217.1H293.4V218.2H294.2V228.4H295.0V220.1H295.9V203.2H296.7V190.1H297.6V186.0H298.4V194.7H299.2V190.1H300.1V195.9H300.9V185.3H301.8V178.1H302.6V182.2H303.4V193.5H304.3V201.1H305.1V201.0H306.0V204.3H306.8V203.5H307.6V183.6H308.5V186.3H309.3V183.4H310.1V188.7H311.0V178.6H311.8V182.9H312.7V176.2H313.5V190.0H314.3V188.0H315.2V189.3H316.0V189.4H316.9V180.7H317.7V176.2H318.5V172.5H319.4V185.9H320.2V198.2H321.1V208.2H321.9V232.1H322.7V267.3H323.6V303.2H324.4V335.1H325.3V337.7H326.1V342.1H326.9V349.4H327.8V352.2H328.6V339.0H329.5V337.8H330.3V351.2H331.1V350.2H332.0V307.7H332.8V237.7H333.7V242.6H334.5V241.3H335.3V232.0H336.2V236.4H337.0V234.6H337.9V237.5H338.7V222.6H339.5V246.6H340.4V283.6H341.2V311.9H342.1V324.0H342.9V278.2H343.7V255.5H344.6V286.7H345.4V337.0H346.3V329.1H347.1V302.8H347.9V275.7H348.8V260.1H349.6V250.5H350.5V260.1H351.3V254.8H352.1V255.3H353.0V259.2H353.8V271.1H354.7V271.0H355.5V285.4H356.3V289.7H357.2V299.5H358.0V322.4H358.9V310.9H359.7V278.3H360.5V286.1H361.4V289.2H362.2V287.0H363.1V300.5H363.9V304.7H364.7V305.0H365.6V310.2H366.4V304.7H367.3V311.6H368.1V318.7H368.9V320.9H369.8V312.9H370.6V326.7H371.5V329.9H372.3V329.3H373.1V330.8H374.0V334.2H374.8V339.5H375.7V342.0H376.5V338.8H377.3V342.0H378.2V347.5H379.0V341.0H379.9V342.9H380.7V346.3H381.5V346.8H382.4V345.9H383.2V348.6H384.1V350.5H384.9V346.2H385.7V350.9H386.6V346.2H387.4V350.9H388.3V347.5H389.1V347.6H389.9V342.6H390.8V350.0H391.6V350.9H392.5V348.9H393.3V350.1H394.1V348.7H395.0V346.1H395.8V345.2H396.7V342.9H397.5V349.1H398.3V340.4H399.2V342.1H400.0V347.7H400.9V353.1H401.7V347.4H402.5V347.0H403.4V353.1H404.2V347.0H405.1V347.7H405.9V349.2H406.7V345.6H407.6V344.6H408.4V348.5H409.3V346.6H410.1V348.9H410.9V349.2H411.8V347.0H412.6V345.8H413.5V348.7H414.3V352.9H415.1V345.7H416.0V351.3H416.8V346.9H417.7V342.6H418.5V347.2H419.3V350.3H420.2V351.0H421.0V344.2H421.9V347.2H422.7V345.7H423.5V344.6H424.4V347.0H425.2V347.4H426.1V348.7H426.9V353.8H427.7V349.1H428.6V344.5H429.4V343.8H430.3V341.0H431.1V341.0H431.9V338.6H432.8V335.0H433.6V337.7H434.5V333.8H435.3V335.3H436.1V325.0H437.0V325.0H437.8V320.7H438.7V314.2H439.5V312.5H440.3V313.0H441.2V306.8H442.0V311.2H442.8V301.1H443.7V298.7H444.5V301.8H445.4V287.1H446.2V291.5H447.0V282.5H447.9V283.5H448.7V274.2H449.6V269.3H450.4V275.1H451.2V275.0H452.1V265.5H452.9V257.9H453.8V260.3H454.6V258.4H455.4V250.2H456.3V262.9H457.1V249.9H458.0V250.7H458.8V239.6H459.6V242.2H460.5V241.6H461.3V235.2H462.2V238.7H463.0V228.6H463.8V229.9H464.7V226.1H465.5V225.8H466.4V214.8H467.2V218.5H468.0V213.0H468.9V211.3H469.7V216.8H470.6V206.5H471.4V205.7H472.2V204.0H473.1V206.4H473.9V204.8H474.8V196.0H475.6V186.0H476.4V202.6H477.3V193.0H478.1V197.1H479.0V188.8H479.8V189.6H480.6V184.6H481.5V207.4H482.3V192.7H483.2V194.1H484.0V187.7H484.8V190.7H485.7V189.3H486.5V180.1H487.4V171.6H488.2V200.9H489.0V184.3H489.9V179.7H490.7V181.0H491.6V182.7H492.4V188.7H493.2V185.6H494.1V174.4H494.9V171.7H495.8V177.7H496.6V183.4H497.4V177.0H498.3V178.9H499.1V173.6H500.0V176.1H500.8V180.8H501.6V175.3H502.5V184.1H503.3V171.0H504.2V168.5H505.0V183.9H505.8V173.4H506.7V182.6H507.5V169.1H508.4V170.3H509.2V177.7H510.0V169.8H510.9V179.2H511.7V180.7H512.6V180.4H513.4V177.7H514.2V179.1H515.1V176.2H515.9V181.4H516.8V172.6H517.6V171.2H518.4V181.3H519.3V187.7H520.1V174.1H521.0V171.7H521.8V180.5H522.6V188.1H523.5V178.6H524.3V171.3H525.2V194.3H526.0V180.1H526.8V185.8H527.7V189.8H528.5V181.8H529.4V193.6H530.2V184.1H531.0V178.2H531.9V185.8H532.7V192.9H533.6V199.0H534.4V196.3H535.2V200.2H536.1V179.3H536.9V191.2H537.8V196.6H538.6V198.5H539.4V197.5H540.3V193.4H541.1V199.6H542.0V181.8H542.8V197.1H543.6V197.7H544.5V191.4H545.3V184.8H546.2V186.0H547.0V197.5H547.8V193.3H548.7V194.3H549.5V192.4H550.4V194.4H551.2V202.0H552.0V204.3H552.9V196.0H553.7V204.5H554.6V189.5H555.4V197.8H556.2V204.5H557.1V200.6H557.9V202.1H558.8V200.1H559.6V194.0H560.4V208.6H561.3V211.4H562.1V198.6H563.0V201.9H563.8V200.2H564.6V198.8H565.5V202.8H566.3V197.3H567.2V207.6H568.0V202.2H568.8V207.8H569.7V209.8H570.5V199.8H571.4V200.3H572.2V215.3H573.0V210.8H573.9V202.7H574.7V198.4H575.5V208.8H576.4V206.2H577.2V213.6H578.1V190.9H578.9V203.0H579.7V200.8H580.6V202.4H581.4V201.0H582.3V203.1H583.1V208.8H583.9V202.7H584.8V206.7H585.6V199.8H586.5V211.8H587.3V210.8H588.1V204.0H589.0V200.6H589.8V198.8H590.7V212.0H591.5V223.9H592.3V249.5H593.2V265.0H594.0V300.8H594.9V338.5H595.7V313.8H596.5V278.7H597.4V242.1H598.2V212.7H599.1V208.1H599.9V204.9H600.7V200.2H601.6V204.8H602.4V194.9H603.3V199.4H604.1V194.7H604.9V198.5H605.8V203.3H606.6V197.8H607.5V218.2H608.3V222.7H609.1V230.8H610.0V227.9H610.8V227.0H611.7V235.8H612.5V248.7H613.3V241.0H614.2V241.5H615.0V260.7H615.9V276.1H616.7V301.8H617.5V257.4H618.4V244.8H619.2V243.6H620.1V256.6H620.9V216.4H621.7V220.5H622.6V218.5H623.4V222.6H624.3V209.9H625.1V215.8H625.9V222.5H626.8V236.0H627.6V285.6H628.5V322.3H629.3V261.5H630.1V231.1H631.0V213.3H631.8V209.0H632.7V212.8H633.5V222.7H634.3V227.2H635.2V227.6H636.0V238.1H636.9V229.2H637.7V228.3H638.5V215.5H639.4V221.8H640.2V218.6H641.1V210.9H641.9V218.9H642.7V226.9H643.6V226.9H644.4V217.3H645.3V227.9H646.1V235.1H646.9V245.6H647.8V261.9H648.6V273.6H649.5V286.2H650.3V273.9H651.1V258.9H652.0V256.2H652.8V246.2H653.7V236.0H654.5V237.8H655.3V233.2H656.2V235.2H657.0V237.7H657.9V243.1H658.7V229.1H659.5V259.9H660.4V283.8H661.2V255.5H662.1V240.9H662.9V241.7H663.7V232.7H664.6V232.2H665.4V238.4H666.3V239.4H667.1V232.3H667.9V233.3H668.8V236.2H669.6V244.9H670.5V242.7H671.3V245.7H672.1V235.4H673.0V245.0H673.8V247.6H674.7V252.0H675.5V248.1H676.3V243.3H677.2V249.8H678.0V248.2H678.9V250.8H679.7V244.6H680.5V247.2H681.4V249.2H682.2V237.3H683.1V239.8H683.9V234.1H684.7V254.4H685.6V247.2H686.4V250.3H687.3V241.4H688.1V248.5H688.9V247.9H689.8V253.3H690.6V245.3H691.5V248.0H692.3V245.7H693.1V241.2H694.0V242.4H694.8V260.8H695.7V277.5H696.5V297.3H697.3V279.7H698.2V255.2H699.0V258.9H699.9V263.9H700.7V261.0H701.5V257.0H702.4V251.5H703.2V248.8H704.1V259.5H704.9V251.0H705.7V251.6H706.6V253.7H707.4V243.4H708.3V244.9H709.1V264.5H709.9V261.1H710.8V255.0H711.6V256.5H712.4V258.2H713.3V253.0H714.1V257.0H715.0V257.1H715.8V255.6H716.6V268.5H717.5V269.5H718.3V272.7H719.2V263.7H720.0V272.6H720.8V275.1H721.7V277.8H722.5V289.9H723.4V303.2H724.2V322.1H725.0V299.8H725.9V285.0H726.7V275.7H727.6V264.0H728.4V284.2H729.2V290.7H730.1V279.8H730.9V270.7H731.8V259.1H732.6V263.1H733.4V277.7H734.3V278.4H735.1V273.6H736.0V271.8H736.8V268.4H737.6V276.3H738.5V277.5H739.3V274.0H740.2V271.6H741.0V267.2H741.8V264.8H742.7V275.5H743.5V276.8H744.4V266.6H745.2V259.1H746.0V265.7H746.9V266.8H747.7V258.1H748.6V259.1H749.4V255.2H750.2V264.1H751.1V262.0H751.9V258.8H752.8V254.4H753.6V259.2H754.4V264.4H755.3V259.1H756.1V257.1H757.0V254.1H757.8V259.8H758.6V272.4H759.5V270.2H760.3V270.8H761.2V261.2H762.0V264.4H762.8V259.4H763.7V270.9H764.5V272.2H765.4V271.8H766.2V261.2H767.0V266.6H767.9V276.7H768.7V265.5H769.6V264.2H770.4V285.9H771.2V303.6H772.1V324.5H772.9V335.5H773.8V288.7H774.6V282.5H775.4V279.0H776.3V285.9H776.7" class="data"/>
<path d="M104.8 267.9L105.6 267.7L106.5 267.5L107.3 267.2L108.2 267.0L109.0 266.8L109.8 266.6L110.7 266.4L111.5 266.1L112.4 265.9L113.2 265.7L114.0 265.5L114.9 265.2L115.7 265.0L116.6 264.8L117.4 264.5L118.2 264.3L119.1 264.1L119.9 263.8L120.8 263.6L121.6 263.3L122.4 263.1L123.3 262.9L124.1 262.6L125.0 262.4L125.8 262.1L126.6 261.9L127.5 261.6L128.3 261.4L129.2 261.1L130.0 260.9L130.8 260.6L131.7 260.4L132.5 260.1L133.4 259.8L134.2 259.6L135.0 259.3L135.9 259.0L136.7 258.8L137.6 258.5L138.4 258.2L139.2 258.0L140.1 257.7L140.9 257.4L141.8 257.2L142.6 256.9L143.4 256.6L144.3 256.3L145.1 256.0L146.0 255.8L146.8 255.5L147.6 255.2L148.5 254.9L149.3 254.6L150.2 254.3L151.0 254.1L151.8 253.8L152.7 253.5L153.5 253.2L154.4 252.9L155.2 252.6L156.0 252.3L156.9 252.0L157.7 251.7L158.6 251.4L159.4 251.1L160.2 250.8L161.1 250.5L161.9 250.2L162.8 249.9L163.6 249.6L164.4 249.3L165.3 248.9L166.1 248.6L167.0 248.3L167.8 248.0L168.6 247.7L169.5 247.4L170.3 247.0L171.2 246.7L172.0 246.4L172.8 246.1L173.7 245.8L174.5 245.4L175.3 245.1L176.2 244.8L177.0 244.4L177.9 244.1L178.7 243.8L179.5 243.4L180.4 243.1L181.2 242.8L182.1 242.4L182.9 242.1L183.7 241.8L184.6 241.4L185.4 241.1L186.3 240.7L187.1 240.4L187.9 240.1L188.8 239.7L189.6 239.4L190.5 239.0L191.3 238.7L192.1 238.3L193.0 238.0L193.8 237.6L194.7 237.2L195.5 236.9L196.3 236.5L197.2 236.2L198.0 235.8L198.9 235.5L199.7 235.1L200.5 234.7L201.4 234.4L202.2 234.0L203.1 233.6L203.9 233.3L204.7 232.9L205.6 232.5L206.4 232.2L207.3 231.8L208.1 231.4L208.9 231.0L209.8 230.7L210.6 230.3L211.5 229.9L212.3 229.5L213.1 229.2L214.0 228.8L214.8 228.4L215.7 228.0L216.5 227.6L217.3 227.2L218.2 226.8L219.0 226.5L219.9 226.1L220.7 225.7L221.5 225.3L222.4 224.9L223.2 224.5L224.1 224.1L224.9 223.7L225.7 223.3L226.6 222.9L227.4 222.5L228.3 222.1L229.1 221.7L229.9 221.3L230.8 220.9L231.6 220.5L232.5 220.1L233.3 219.7L234.1 219.3L235.0 218.9L235.8 218.5L236.7 218.1L237.5 217.7L238.3 217.3L239.2 216.8L240.0 216.4L240.9 216.0L241.7 215.6L242.5 215.2L243.4 214.8L244.2 214.4L245.1 214.0L245.9 213.5L246.7 213.1L247.6 212.7L248.4 212.3L249.3 211.9L250.1 211.5L250.9 211.0L251.8 210.6L252.6 210.2L253.5 209.8L254.3 209.4L255.1 208.9L256.0 208.5L256.8 208.1L257.7 207.7L258.5 207.3L259.3 206.9L260.2 206.5L261.0 206.0L261.9 205.6L262.7 205.2L263.5 204.8L264.4 204.4L265.2 204.0L266.1 203.6L266.9 203.2L267.7 202.8L268.6 202.4L269.4 202.0L270.3 201.6L271.1 201.2L271.9 200.8L272.8 200.4L273.6 200.0L274.5 199.6L275.3 199.3L276.1 198.9L277.0 198.5L277.8 198.2L278.7 197.8L279.5 197.4L280.3 197.1L281.2 196.7L282.0 196.4L282.9 196.1L283.7 195.7L284.5 195.4L285.4 195.1L286.2 194.8L287.1 194.5L287.9 194.2L288.7 193.9L289.6 193.6L290.4 193.4L291.3 193.1L292.1 192.9L292.9 192.6L293.8 192.4L294.6 192.2L295.5 192.0L296.3 191.8L297.1 191.6L298.0 191.5L298.8 191.3L299.7 191.2L300.5 191.1L301.3 191.0L302.2 190.9L303.0 190.8L303.9 190.8L304.7 190.8L305.5 190.7L306.4 190.8L307.2 190.8L308.0 190.8L308.9 190.9L309.7 191.0L310.6 191.1L311.4 191.3L312.2 191.5L313.1 191.7L313.9 191.9L314.8 192.1L315.6 192.4L316.4 192.8L317.3 193.1L318.1 193.5L319.0 193.9L319.8 194.4L320.6 194.9L321.5 195.4L322.3 196.0L323.2 196.6L324.0 197.2L324.8 197.9L325.7 198.7L326.5 199.4L327.4 200.3L328.2 201.2L329.0 202.1L329.9 203.1L330.7 204.1L331.6 205.2L332.4 206.3L333.2 207.5L334.1 208.8L334.9 210.1L335.8 211.5L336.6 212.9L337.4 214.4L338.3 216.0L339.1 217.6L340.0 219.3L340.8 221.1L341.6 223.0L342.5 224.9L343.3 226.9L344.2 229.0L345.0 231.1L345.8 233.3L346.7 235.6L347.5 238.0L348.4 240.4L349.2 242.9L350.0 245.5L350.9 248.2L351.7 251.0L352.6 253.8L353.4 256.7L354.2 259.7L355.1 262.7L355.9 265.8L356.8 269.0L357.6 272.2L358.4 275.4L359.3 278.8L360.1 282.1L361.0 285.5L361.8 288.9L362.6 292.3L363.5 295.8L364.3 299.2L365.2 302.6L366.0 306.0L366.8 309.3L367.7 312.6L368.5 315.8L369.4 318.9L370.2 321.9L371.0 324.8L371.9 327.6L372.7 330.2L373.6 332.6L374.4 334.9L375.2 336.9L376.1 338.8L376.9 340.4L377.8 341.9L378.6 343.1L379.4 344.1L380.3 345.0L381.1 345.7L382.0 346.2L382.8 346.5L383.6 346.8L384.5 347.0L385.3 347.1L386.2 347.1L387.0 347.2L387.8 347.2L388.7 347.2L389.5 347.2L390.4 347.2L391.2 347.2L392.0 347.2L392.9 347.2L393.7 347.2L394.6 347.2L395.4 347.2L396.2 347.2L397.1 347.2L397.9 347.2L398.8 347.2L399.6 347.2L400.4 347.2L401.3 347.2L402.1 347.2L403.0 347.2L403.8 347.2L404.6 347.2L405.5 347.2L406.3 347.2L407.2 347.2L408.0 347.2L408.8 347.2L409.7 347.2L410.5 347.2L411.4 347.2L412.2 347.2L413.0 347.2L413.9 347.2L414.7 347.2L415.6 347.2L416.4 347.2L417.2 347.2L418.1 347.2L418.9 347.2L419.8 347.2L420.6 347.2L421.4 347.2L422.3 347.2L423.1 347.1L424.0 347.0L424.8 346.8L425.6 346.6L426.5 346.2L427.3 345.8L428.2 345.1L429.0 344.3L429.8 343.3L430.7 342.1L431.5 340.7L432.4 339.1L433.2 337.2L434.0 335.2L434.9 333.0L435.7 330.5L436.6 327.9L437.4 325.2L438.2 322.3L439.1 319.2L439.9 316.1L440.8 312.8L441.6 309.5L442.4 306.1L443.3 302.7L444.1 299.2L444.9 295.7L445.8 292.2L446.6 288.7L447.5 285.2L448.3 281.8L449.1 278.3L450.0 274.9L450.8 271.5L451.7 268.2L452.5 265.0L453.3 261.7L454.2 258.6L455.0 255.5L455.9 252.5L456.7 249.5L457.5 246.7L458.4 243.9L459.2 241.1L460.1 238.5L460.9 235.9L461.7 233.4L462.6 230.9L463.4 228.6L464.3 226.3L465.1 224.1L465.9 221.9L466.8 219.9L467.6 217.9L468.5 215.9L469.3 214.1L470.1 212.3L471.0 210.5L471.8 208.9L472.7 207.3L473.5 205.7L474.3 204.2L475.2 202.8L476.0 201.4L476.9 200.1L477.7 198.9L478.5 197.7L479.4 196.5L480.2 195.4L481.1 194.4L481.9 193.4L482.7 192.4L483.6 191.5L484.4 190.6L485.3 189.8L486.1 189.0L486.9 188.3L487.8 187.6L488.6 186.9L489.5 186.3L490.3 185.7L491.1 185.1L492.0 184.6L492.8 184.1L493.7 183.6L494.5 183.2L495.3 182.8L496.2 182.4L497.0 182.1L497.9 181.8L498.7 181.5L499.5 181.2L500.4 180.9L501.2 180.7L502.1 180.5L502.9 180.3L503.7 180.2L504.6 180.0L505.4 179.9L506.3 179.8L507.1 179.7L507.9 179.6L508.8 179.6L509.6 179.5L510.5 179.5L511.3 179.5L512.1 179.5L513.0 179.5L513.8 179.6L514.7 179.6L515.5 179.7L516.3 179.8L517.2 179.8L518.0 179.9L518.9 180.1L519.7 180.2L520.5 180.3L521.4 180.4L522.2 180.6L523.1 180.7L523.9 180.9L524.7 181.1L525.6 181.3L526.4 181.4L527.3 181.6L528.1 181.8L528.9 182.0L529.8 182.3L530.6 182.5L531.5 182.7L532.3 182.9L533.1 183.2L534.0 183.4L534.8 183.7L535.7 183.9L536.5 184.2L537.3 184.4L538.2 184.7L539.0 185.0L539.9 185.3L540.7 185.5L541.5 185.8L542.4 186.1L543.2 186.4L544.1 186.7L544.9 187.0L545.7 187.3L546.6 187.6L547.4 187.9L548.3 188.2L549.1 188.5L549.9 188.8L550.8 189.1L551.6 189.5L552.5 189.8L553.3 190.1L554.1 190.4L555.0 190.7L555.8 191.1L556.7 191.4L557.5 191.7L558.3 192.1L559.2 192.4L560.0 192.7L560.9 193.1L561.7 193.4L562.5 193.7L563.4 194.1L564.2 194.4L565.1 194.8L565.9 195.1L566.7 195.5L567.6 195.8L568.4 196.1L569.3 196.5L570.1 196.8L570.9 197.2L571.8 197.5L572.6 197.9L573.5 198.2L574.3 198.6L575.1 198.9L576.0 199.3L576.8 199.7L577.6 200.0L578.5 200.4L579.3 200.7L580.2 201.1L581.0 201.4L581.8 201.8L582.7 202.2L583.5 202.5L584.4 202.9L585.2 203.2L586.0 203.6L586.9 203.9L587.7 204.3L588.6 204.7L589.4 205.0L590.2 205.4L591.1 205.8L591.9 206.1L592.8 206.5L593.6 206.8L594.4 207.2L595.3 207.6L596.1 207.9L597.0 208.3L597.8 208.7L598.6 209.0L599.5 209.4L600.3 209.7L601.2 210.1L602.0 210.5L602.8 210.8L603.7 211.2L604.5 211.6L605.4 211.9L606.2 212.3L607.0 212.6L607.9 213.0L608.7 213.4L609.6 213.7L610.4 214.1L611.2 214.5L612.1 214.8L612.9 215.2L613.8 215.5L614.6 215.9L615.4 216.3L616.3 216.6L617.1 217.0L618.0 217.4L618.8 217.7L619.6 218.1L620.5 218.4L621.3 218.8L622.2 219.1L623.0 219.5L623.8 219.9L624.7 220.2L625.5 220.6L626.4 220.9L627.2 221.3L628.0 221.6L628.9 222.0L629.7 222.4L630.6 222.7L631.4 223.1L632.2 223.4L633.1 223.8L633.9 224.1L634.8 224.5L635.6 224.8L636.4 225.2L637.3 225.5L638.1 225.9L639.0 226.2L639.8 226.6L640.6 226.9L641.5 227.3L642.3 227.6L643.2 227.9L644.0 228.3L644.8 228.6L645.7 229.0L646.5 229.3L647.4 229.7L648.2 230.0L649.0 230.3L649.9 230.7L650.7 231.0L651.6 231.3L652.4 231.7L653.2 232.0L654.1 232.3L654.9 232.7L655.8 233.0L656.6 233.3L657.4 233.7L658.3 234.0L659.1 234.3L660.0 234.6L660.8 235.0L661.6 235.3L662.5 235.6L663.3 235.9L664.2 236.3L665.0 236.6L665.8 236.9L666.7 237.2L667.5 237.5L668.4 237.8L669.2 238.1L670.0 238.5L670.9 238.8L671.7 239.1L672.6 239.4L673.4 239.7L674.2 240.0L675.1 240.3L675.9 240.6L676.8 240.9L677.6 241.2L678.4 241.5L679.3 241.8L680.1 242.1L681.0 242.4L681.8 242.7L682.6 243.0L683.5 243.3L684.3 243.6L685.2 243.9L686.0 244.2L686.8 244.4L687.7 244.7L688.5 245.0L689.4 245.3L690.2 245.6L691.0 245.8L691.9 246.1L692.7 246.4L693.6 246.7L694.4 247.0L695.2 247.2L696.1 247.5L696.9 247.8L697.8 248.0L698.6 248.3L699.4 248.6L700.3 248.8L701.1 249.1L702.0 249.4L702.8 249.6L703.6 249.9L704.5 250.1L705.3 250.4L706.2 250.6L707.0 250.9L707.8 251.1L708.7 251.4L709.5 251.6L710.3 251.9L711.2 252.1L712.0 252.4L712.9 252.6L713.7 252.9L714.5 253.1L715.4 253.3L716.2 253.6L717.1 253.8L717.9 254.0L718.7 254.3L719.6 254.5L720.4 254.7L721.3 255.0L722.1 255.2L722.9 255.4L723.8 255.6L724.6 255.9L725.5 256.1L726.3 256.3L727.1 256.5L728.0 256.7L728.8 256.9L729.7 257.1L730.5 257.4L731.3 257.6L732.2 257.8L733.0 258.0L733.9 258.2L734.7 258.4L735.5 258.6L736.4 258.8L737.2 259.0L738.1 259.2L738.9 259.4L739.7 259.6L740.6 259.8L741.4 260.0L742.3 260.2L743.1 260.4L743.9 260.5L744.8 260.7L745.6 260.9L746.5 261.1L747.3 261.3L748.1 261.5L749.0 261.6L749.8 261.8L750.7 262.0L751.5 262.2L752.3 262.3L753.2 262.5L754.0 262.7L754.9 262.9L755.7 263.0L756.5 263.2L757.4 263.4L758.2 263.5L759.1 263.7L759.9 263.8L760.7 264.0L761.6 264.2L762.4 264.3L763.3 264.5L764.1 264.6L764.9 264.8L765.8 264.9L766.6 265.1L767.5 265.2L768.3 265.4L769.1 265.5L770.0 265.7L770.8 265.8L771.7 266.0L772.5 266.1L773.3 266.3L774.2 266.4L775.0 266.5L775.9 266.7L776.7 266.8" class="red"/>
<path d="M104.8 265.3L105.6 265.1L106.5 264.9L107.3 264.6L108.2 264.4L109.0 264.2L109.8 263.9L110.7 263.7L111.5 263.4L112.4 263.2L113.2 262.9L114.0 262.7L114.9 262.4L115.7 262.2L116.6 261.9L117.4 261.6L118.2 261.4L119.1 261.1L119.9 260.9L120.8 260.6L121.6 260.3L122.4 260.1L123.3 259.8L124.1 259.5L125.0 259.2L125.8 259.0L126.6 258.7L127.5 258.4L128.3 258.1L129.2 257.9L130.0 257.6L130.8 257.3L131.7 257.0L132.5 256.7L133.4 256.4L134.2 256.1L135.0 255.8L135.9 255.5L136.7 255.2L137.6 254.9L138.4 254.6L139.2 254.3L140.1 254.0L140.9 253.7L141.8 253.4L142.6 253.1L143.4 252.8L144.3 252.5L145.1 252.1L146.0 251.8L146.8 251.5L147.6 251.2L148.5 250.9L149.3 250.5L150.2 250.2L151.0 249.9L151.8 249.5L152.7 249.2L153.5 248.9L154.4 248.5L155.2 248.2L156.0 247.8L156.9 247.5L157.7 247.2L158.6 246.8L159.4 246.5L160.2 246.1L161.1 245.8L161.9 245.4L162.8 245.0L163.6 244.7L164.4 244.3L165.3 244.0L166.1 243.6L167.0 243.2L167.8 242.9L168.6 242.5L169.5 242.1L170.3 241.7L171.2 241.4L172.0 241.0L172.8 240.6L173.7 240.2L174.5 239.8L175.3 239.5L176.2 239.1L177.0 238.7L177.9 238.3L178.7 237.9L179.5 237.5L180.4 237.1L181.2 236.7L182.1 236.3L182.9 235.9L183.7 235.5L184.6 235.1L185.4 234.6L186.3 234.2L187.1 233.8L187.9 233.4L188.8 233.0L189.6 232.5L190.5 232.1L191.3 231.7L192.1 231.3L193.0 230.8L193.8 230.4L194.7 230.0L195.5 229.5L196.3 229.1L197.2 228.6L198.0 228.2L198.9 227.7L199.7 227.3L200.5 226.8L201.4 226.4L202.2 225.9L203.1 225.4L203.9 225.0L204.7 224.5L205.6 224.0L206.4 223.6L207.3 223.1L208.1 222.6L208.9 222.1L209.8 221.6L210.6 221.2L211.5 220.7L212.3 220.2L213.1 219.7L214.0 219.2L214.8 218.7L215.7 218.2L216.5 217.7L217.3 217.1L218.2 216.6L219.0 216.1L219.9 215.6L220.7 215.1L221.5 214.5L222.4 214.0L223.2 213.5L224.1 212.9L224.9 212.4L225.7 211.9L226.6 211.3L227.4 210.8L228.3 210.2L229.1 209.6L229.9 209.1L230.8 208.5L231.6 207.9L232.5 207.4L233.3 206.8L234.1 206.2L235.0 205.6L235.8 205.0L236.7 204.4L237.5 203.8L238.3 203.2L239.2 202.6L240.0 202.0L240.9 201.4L241.7 200.8L242.5 200.2L243.4 199.5L244.2 198.9L245.1 198.3L245.9 197.6L246.7 197.0L247.6 196.3L248.4 195.7L249.3 195.0L250.1 194.4L250.9 193.7L251.8 193.0L252.6 192.3L253.5 191.6L254.3 191.0L255.1 190.3L256.0 189.6L256.8 188.9L257.7 188.1L258.5 187.4L259.3 186.7L260.2 186.0L261.0 185.2L261.9 184.5L262.7 183.8L263.5 183.0L264.4 182.3L265.2 181.5L266.1 180.7L266.9 180.0L267.7 179.2L268.6 178.4L269.4 177.6L270.3 176.8L271.1 176.0L271.9 175.2L272.8 174.4L273.6 173.6L274.5 172.8L275.3 171.9L276.1 171.1L277.0 170.3L277.8 169.4L278.7 168.6L279.5 167.7L280.3 166.8L281.2 166.0L282.0 165.1L282.9 164.2L283.7 163.3L284.5 162.4L285.4 161.5L286.2 160.6L287.1 159.7L287.9 158.8L288.7 157.9L289.6 156.9L290.4 156.0L291.3 155.1L292.1 154.1L292.9 153.2L293.8 152.2L294.6 151.2L295.5 150.3L296.3 149.3L297.1 148.3L298.0 147.3L298.8 146.3L299.7 145.4L300.5 144.4L301.3 143.4L302.2 142.3L303.0 141.3L303.9 140.3L304.7 139.3L305.5 138.3L306.4 137.2L307.2 136.2L308.0 135.2L308.9 134.1L309.7 133.1L310.6 132.0L311.4 131.0L312.2 129.9L313.1 128.9L313.9 127.8L314.8 126.7L315.6 125.7L316.4 124.6L317.3 123.5L318.1 122.4L319.0 121.4L319.8 120.3L320.6 119.2L321.5 118.1L322.3 117.0L323.2 116.0L324.0 114.9L324.8 113.8L325.7 112.7L326.5 111.6L327.4 110.5L328.2 109.4L329.0 108.4L329.9 107.3L330.7 106.2L331.6 105.1L332.4 104.0L333.2 102.9L334.1 101.9L334.9 100.8L335.8 99.7L336.6 98.7L337.4 97.6L338.3 96.5L339.1 95.5L340.0 94.4L340.8 93.4L341.6 92.3L342.5 91.3L343.3 90.2L344.2 89.2L345.0 88.2L345.8 87.1L346.7 86.1L347.5 85.1L348.4 84.1L349.2 83.1L350.0 82.1L350.9 81.1L351.7 80.2L352.6 79.2L353.4 78.2L354.2 77.3L355.1 76.3L355.9 75.4L356.8 74.5L357.6 73.6L358.4 72.7L359.3 71.8L360.1 70.9L361.0 70.0L361.8 69.2L362.6 68.3L363.5 67.5L364.3 66.6L365.2 65.8L366.0 65.0L366.8 64.2L367.7 63.5L368.5 62.7L369.4 61.9L370.2 61.2L371.0 60.5L371.9 59.8L372.7 59.1L373.6 58.4L374.4 57.7L375.2 57.1L376.1 56.5L376.9 55.8L377.8 55.2L378.6 54.6L379.4 54.1L380.3 53.5L381.1 53.0L382.0 52.5L382.8 51.9L383.6 51.5L384.5 51.0L385.3 50.5L386.2 50.1L387.0 49.7L387.8 49.3L388.7 48.9L389.5 48.5L390.4 48.2L391.2 47.8L392.0 47.5L392.9 47.2L393.7 47.0L394.6 46.7L395.4 46.5L396.2 46.2L397.1 46.0L397.9 45.8L398.8 45.7L399.6 45.5L400.4 45.4L401.3 45.3L402.1 45.2L403.0 45.1L403.8 45.1L404.6 45.0L405.5 45.0L406.3 45.0L407.2 45.1L408.0 45.1L408.8 45.2L409.7 45.2L410.5 45.3L411.4 45.4L412.2 45.6L413.0 45.7L413.9 45.9L414.7 46.1L415.6 46.3L416.4 46.5L417.2 46.7L418.1 47.0L418.9 47.3L419.8 47.6L420.6 47.9L421.4 48.2L422.3 48.6L423.1 48.9L424.0 49.3L424.8 49.7L425.6 50.1L426.5 50.5L427.3 50.9L428.2 51.4L429.0 51.9L429.8 52.4L430.7 52.9L431.5 53.4L432.4 53.9L433.2 54.4L434.0 55.0L434.9 55.6L435.7 56.2L436.6 56.8L437.4 57.4L438.2 58.0L439.1 58.6L439.9 59.3L440.8 59.9L441.6 60.6L442.4 61.3L443.3 62.0L444.1 62.7L444.9 63.4L445.8 64.1L446.6 64.9L447.5 65.6L448.3 66.4L449.1 67.1L450.0 67.9L450.8 68.7L451.7 69.5L452.5 70.3L453.3 71.1L454.2 71.9L455.0 72.7L455.9 73.6L456.7 74.4L457.5 75.2L458.4 76.1L459.2 77.0L460.1 77.8L460.9 78.7L461.7 79.6L462.6 80.4L463.4 81.3L464.3 82.2L465.1 83.1L465.9 84.0L466.8 84.9L467.6 85.8L468.5 86.7L469.3 87.6L470.1 88.5L471.0 89.4L471.8 90.4L472.7 91.3L473.5 92.2L474.3 93.1L475.2 94.0L476.0 95.0L476.9 95.9L477.7 96.8L478.5 97.7L479.4 98.7L480.2 99.6L481.1 100.5L481.9 101.5L482.7 102.4L483.6 103.3L484.4 104.2L485.3 105.2L486.1 106.1L486.9 107.0L487.8 107.9L488.6 108.9L489.5 109.8L490.3 110.7L491.1 111.6L492.0 112.5L492.8 113.4L493.7 114.3L494.5 115.2L495.3 116.1L496.2 117.0L497.0 117.9L497.9 118.8L498.7 119.7L499.5 120.6L500.4 121.5L501.2 122.4L502.1 123.2L502.9 124.1L503.7 125.0L504.6 125.9L505.4 126.7L506.3 127.6L507.1 128.4L507.9 129.3L508.8 130.1L509.6 131.0L510.5 131.8L511.3 132.6L512.1 133.5L513.0 134.3L513.8 135.1L514.7 135.9L515.5 136.8L516.3 137.6L517.2 138.4L518.0 139.2L518.9 140.0L519.7 140.8L520.5 141.5L521.4 142.3L522.2 143.1L523.1 143.9L523.9 144.6L524.7 145.4L525.6 146.2L526.4 146.9L527.3 147.7L528.1 148.4L528.9 149.1L529.8 149.9L530.6 150.6L531.5 151.3L532.3 152.1L533.1 152.8L534.0 153.5L534.8 154.2L535.7 154.9L536.5 155.6L537.3 156.3L538.2 157.0L539.0 157.7L539.9 158.4L540.7 159.1L541.5 159.7L542.4 160.4L543.2 161.1L544.1 161.7L544.9 162.4L545.7 163.1L546.6 163.7L547.4 164.4L548.3 165.0L549.1 165.6L549.9 166.3L550.8 166.9L551.6 167.5L552.5 168.2L553.3 168.8L554.1 169.4L555.0 170.0L555.8 170.6L556.7 171.3L557.5 171.9L558.3 172.5L559.2 173.1L560.0 173.7L560.9 174.3L561.7 174.8L562.5 175.4L563.4 176.0L564.2 176.6L565.1 177.2L565.9 177.8L566.7 178.3L567.6 178.9L568.4 179.5L569.3 180.0L570.1 180.6L570.9 181.1L571.8 181.7L572.6 182.3L573.5 182.8L574.3 183.4L575.1 183.9L576.0 184.4L576.8 185.0L577.6 185.5L578.5 186.1L579.3 186.6L580.2 187.1L581.0 187.7L581.8 188.2L582.7 188.7L583.5 189.2L584.4 189.7L585.2 190.3L586.0 190.8L586.9 191.3L587.7 191.8L588.6 192.3L589.4 192.8L590.2 193.3L591.1 193.8L591.9 194.3L592.8 194.8L593.6 195.3L594.4 195.8L595.3 196.3L596.1 196.8L597.0 197.3L597.8 197.8L598.6 198.3L599.5 198.8L600.3 199.3L601.2 199.8L602.0 200.2L602.8 200.7L603.7 201.2L604.5 201.7L605.4 202.1L606.2 202.6L607.0 203.1L607.9 203.6L608.7 204.0L609.6 204.5L610.4 205.0L611.2 205.4L612.1 205.9L612.9 206.3L613.8 206.8L614.6 207.3L615.4 207.7L616.3 208.2L617.1 208.6L618.0 209.1L618.8 209.5L619.6 210.0L620.5 210.4L621.3 210.9L622.2 211.3L623.0 211.7L623.8 212.2L624.7 212.6L625.5 213.1L626.4 213.5L627.2 213.9L628.0 214.4L628.9 214.8L629.7 215.2L630.6 215.7L631.4 216.1L632.2 216.5L633.1 216.9L633.9 217.4L634.8 217.8L635.6 218.2L636.4 218.6L637.3 219.0L638.1 219.4L639.0 219.9L639.8 220.3L640.6 220.7L641.5 221.1L642.3 221.5L643.2 221.9L644.0 222.3L644.8 222.7L645.7 223.1L646.5 223.5L647.4 223.9L648.2 224.3L649.0 224.7L649.9 225.1L650.7 225.5L651.6 225.9L652.4 226.3L653.2 226.6L654.1 227.0L654.9 227.4L655.8 227.8L656.6 228.2L657.4 228.5L658.3 228.9L659.1 229.3L660.0 229.7L660.8 230.0L661.6 230.4L662.5 230.8L663.3 231.2L664.2 231.5L665.0 231.9L665.8 232.2L666.7 232.6L667.5 233.0L668.4 233.3L669.2 233.7L670.0 234.0L670.9 234.4L671.7 234.7L672.6 235.1L673.4 235.4L674.2 235.8L675.1 236.1L675.9 236.5L676.8 236.8L677.6 237.1L678.4 237.5L679.3 237.8L680.1 238.1L681.0 238.5L681.8 238.8L682.6 239.1L683.5 239.5L684.3 239.8L685.2 240.1L686.0 240.4L686.8 240.7L687.7 241.1L688.5 241.4L689.4 241.7L690.2 242.0L691.0 242.3L691.9 242.6L692.7 242.9L693.6 243.2L694.4 243.5L695.2 243.8L696.1 244.1L696.9 244.4L697.8 244.7L698.6 245.0L699.4 245.3L700.3 245.6L701.1 245.9L702.0 246.2L702.8 246.5L703.6 246.8L704.5 247.0L705.3 247.3L706.2 247.6L707.0 247.9L707.8 248.2L708.7 248.4L709.5 248.7L710.3 249.0L711.2 249.2L712.0 249.5L712.9 249.8L713.7 250.0L714.5 250.3L715.4 250.6L716.2 250.8L717.1 251.1L717.9 251.3L718.7 251.6L719.6 251.8L720.4 252.1L721.3 252.3L722.1 252.6L722.9 252.8L723.8 253.1L724.6 253.3L725.5 253.5L726.3 253.8L727.1 254.0L728.0 254.3L728.8 254.5L729.7 254.7L730.5 254.9L731.3 255.2L732.2 255.4L733.0 255.6L733.9 255.8L734.7 256.1L735.5 256.3L736.4 256.5L737.2 256.7L738.1 256.9L738.9 257.1L739.7 257.4L740.6 257.6L741.4 257.8L742.3 258.0L743.1 258.2L743.9 258.4L744.8 258.6L745.6 258.8L746.5 259.0L747.3 259.2L748.1 259.4L749.0 259.6L749.8 259.8L750.7 260.0L751.5 260.2L752.3 260.3L753.2 260.5L754.0 260.7L754.9 260.9L755.7 261.1L756.5 261.3L757.4 261.4L758.2 261.6L759.1 261.8L759.9 262.0L760.7 262.1L761.6 262.3L762.4 262.5L763.3 262.6L764.1 262.8L764.9 263.0L765.8 263.1L766.6 263.3L767.5 263.5L768.3 263.6L769.1 263.8L770.0 263.9L770.8 264.1L771.7 264.3L772.5 264.4L773.3 264.6L774.2 264.7L775.0 264.9L775.9 265.0L776.7 265.2" class="blue"/>
</g>
<rect x="104.8" y="23.6" width="671.9" height="355.8" fill="none" stroke="#1a1a1a" stroke-width="1.15"/>
<path d="M146.8 379.4V372.6M146.8 23.6V30.4M188.8 379.4V372.6M188.8 23.6V30.4M230.8 379.4V372.6M230.8 23.6V30.4M272.8 379.4V365.9M272.8 23.6V37.1M314.8 379.4V372.6M314.8 23.6V30.4M356.8 379.4V372.6M356.8 23.6V30.4M398.8 379.4V372.6M398.8 23.6V30.4M440.8 379.4V365.9M440.8 23.6V37.1M482.7 379.4V372.6M482.7 23.6V30.4M524.7 379.4V372.6M524.7 23.6V30.4M566.7 379.4V372.6M566.7 23.6V30.4M608.7 379.4V365.9M608.7 23.6V37.1M650.7 379.4V372.6M650.7 23.6V30.4M692.7 379.4V372.6M692.7 23.6V30.4M734.7 379.4V372.6M734.7 23.6V30.4M104.8 347.2H118.3M776.7 347.2H763.2M104.8 260.9H118.3M776.7 260.9H763.2M104.8 174.7H118.3M776.7 174.7H763.2M104.8 88.4H118.3M776.7 88.4H763.2M104.8 304.1H111.6M776.7 304.1H769.9M104.8 217.8H111.6M776.7 217.8H769.9M104.8 131.5H111.6M776.7 131.5H769.9M104.8 45.3H111.6M776.7 45.3H769.9" fill="none" stroke="#1a1a1a" stroke-width="0.95"/>
<clipPath id="c2"><rect x="104.8" y="514.7" width="671.9" height="355.8"/></clipPath>
<g clip-path="url(#c2)">
<path d="M104.8 777.5L105.6 777.5L106.5 777.4L107.3 777.4L108.2 777.4L109.0 777.4L109.8 777.4L110.7 777.4L111.5 777.3L112.4 777.3L113.2 777.3L114.0 777.3L114.9 777.3L115.7 777.2L116.6 777.2L117.4 777.2L118.2 777.2L119.1 777.2L119.9 777.2L120.8 777.1L121.6 777.1L122.4 777.1L123.3 777.1L124.1 777.1L125.0 777.0L125.8 777.0L126.6 777.0L127.5 777.0L128.3 777.0L129.2 777.0L130.0 776.9L130.8 776.9L131.7 776.9L132.5 776.9L133.4 776.9L134.2 776.9L135.0 776.8L135.9 776.8L136.7 776.8L137.6 776.8L138.4 776.8L139.2 776.7L140.1 776.7L140.9 776.7L141.8 776.7L142.6 776.7L143.4 776.7L144.3 776.6L145.1 776.6L146.0 776.6L146.8 776.6L147.6 776.6L148.5 776.6L149.3 776.5L150.2 776.5L151.0 776.5L151.8 776.5L152.7 776.5L153.5 776.4L154.4 776.4L155.2 776.4L156.0 776.4L156.9 776.4L157.7 776.4L158.6 776.3L159.4 776.3L160.2 776.3L161.1 776.3L161.9 776.3L162.8 776.3L163.6 776.2L164.4 776.2L165.3 776.2L166.1 776.2L167.0 776.2L167.8 776.2L168.6 776.1L169.5 776.1L170.3 776.1L171.2 776.1L172.0 776.1L172.8 776.1L173.7 776.0L174.5 776.0L175.3 776.0L176.2 776.0L177.0 776.0L177.9 776.0L178.7 775.9L179.5 775.9L180.4 775.9L181.2 775.9L182.1 775.9L182.9 775.9L183.7 775.8L184.6 775.8L185.4 775.8L186.3 775.8L187.1 775.8L187.9 775.8L188.8 775.7L189.6 775.7L190.5 775.7L191.3 775.7L192.1 775.7L193.0 775.7L193.8 775.6L194.7 775.6L195.5 775.6L196.3 775.6L197.2 775.6L198.0 775.6L198.9 775.5L199.7 775.5L200.5 775.5L201.4 775.5L202.2 775.5L203.1 775.5L203.9 775.4L204.7 775.4L205.6 775.4L206.4 775.4L207.3 775.4L208.1 775.4L208.9 775.3L209.8 775.3L210.6 775.3L211.5 775.3L212.3 775.3L213.1 775.3L214.0 775.3L214.8 775.2L215.7 775.2L216.5 775.2L217.3 775.2L218.2 775.2L219.0 775.2L219.9 775.1L220.7 775.1L221.5 775.1L222.4 775.1L223.2 775.1L224.1 775.1L224.9 775.0L225.7 775.0L226.6 775.0L227.4 775.0L228.3 775.0L229.1 775.0L229.9 775.0L230.8 774.9L231.6 774.9L232.5 774.9L233.3 774.9L234.1 774.9L235.0 774.9L235.8 774.8L236.7 774.8L237.5 774.8L238.3 774.8L239.2 774.8L240.0 774.8L240.9 774.8L241.7 774.7L242.5 774.7L243.4 774.7L244.2 774.7L245.1 774.7L245.9 774.7L246.7 774.6L247.6 774.6L248.4 774.6L249.3 774.6L250.1 774.6L250.9 774.6L251.8 774.6L252.6 774.5L253.5 774.5L254.3 774.5L255.1 774.5L256.0 774.5L256.8 774.5L257.7 774.5L258.5 774.4L259.3 774.4L260.2 774.4L261.0 774.4L261.9 774.4L262.7 774.4L263.5 774.4L264.4 774.3L265.2 774.3L266.1 774.3L266.9 774.3L267.7 774.3L268.6 774.3L269.4 774.2L270.3 774.2L271.1 774.2L271.9 774.2L272.8 774.2L273.6 774.2L274.5 774.2L275.3 774.1L276.1 774.1L277.0 774.1L277.8 774.1L278.7 774.1L279.5 774.1L280.3 774.1L281.2 774.0L282.0 774.0L282.9 774.0L283.7 774.0L284.5 774.0L285.4 774.0L286.2 774.0L287.1 773.9L287.9 773.9L288.7 773.9L289.6 773.9L290.4 773.9L291.3 773.9L292.1 773.9L292.9 773.9L293.8 773.8L294.6 773.8L295.5 773.8L296.3 773.8L297.1 773.8L298.0 773.8L298.8 773.8L299.7 773.7L300.5 773.7L301.3 773.7L302.2 773.7L303.0 773.7L303.9 773.7L304.7 773.7L305.5 773.6L306.4 773.6L307.2 773.6L308.0 773.6L308.9 773.6L309.7 773.6L310.6 773.6L311.4 773.5L312.2 773.5L313.1 773.5L313.9 773.5L314.8 773.5L315.6 773.5L316.4 773.5L317.3 773.5L318.1 773.4L319.0 773.4L319.8 773.4L320.6 773.4L321.5 773.4L322.3 773.4L323.2 773.4L324.0 773.3L324.8 773.3L325.7 773.3L326.5 773.3L327.4 773.3L328.2 773.3L329.0 773.3L329.9 773.3L330.7 773.2L331.6 773.2L332.4 773.2L333.2 773.2L334.1 773.2L334.9 773.2L335.8 773.2L336.6 773.2L337.4 773.1L338.3 773.1L339.1 773.1L340.0 773.1L340.8 773.1L341.6 773.1L342.5 773.1L343.3 773.0L344.2 773.0L345.0 773.0L345.8 773.0L346.7 773.0L347.5 773.0L348.4 773.0L349.2 773.0L350.0 772.9L350.9 772.9L351.7 772.9L352.6 772.9L353.4 772.9L354.2 772.9L355.1 772.9L355.9 772.9L356.8 772.8L357.6 772.8L358.4 772.8L359.3 772.8L360.1 772.8L361.0 772.8L361.8 772.8L362.6 772.8L363.5 772.7L364.3 772.7L365.2 772.7L366.0 772.7L366.8 772.7L367.7 772.7L368.5 772.7L369.4 772.7L370.2 772.7L371.0 772.6L371.9 772.6L372.7 772.6L373.6 772.6L374.4 772.6L375.2 772.6L376.1 772.6L376.9 772.6L377.8 772.5L378.6 772.5L379.4 772.5L380.3 772.5L381.1 772.5L382.0 772.5L382.8 772.5L383.6 772.5L384.5 772.4L385.3 772.4L386.2 772.4L387.0 772.4L387.8 772.4L388.7 772.4L389.5 772.4L390.4 772.4L391.2 772.4L392.0 772.3L392.9 772.3L393.7 772.3L394.6 772.3L395.4 772.3L396.2 772.3L397.1 772.3L397.9 772.3L398.8 772.3L399.6 772.2L400.4 772.2L401.3 772.2L402.1 772.2L403.0 772.2L403.8 772.2L404.6 772.2L405.5 772.2L406.3 772.1L407.2 772.1L408.0 772.1L408.8 772.1L409.7 772.1L410.5 772.1L411.4 772.1L412.2 772.1L413.0 772.1L413.9 772.0L414.7 772.0L415.6 772.0L416.4 772.0L417.2 772.0L418.1 772.0L418.9 772.0L419.8 772.0L420.6 772.0L421.4 772.0L422.3 771.9L423.1 771.9L424.0 771.9L424.8 771.9L425.6 771.9L426.5 771.9L427.3 771.9L428.2 771.9L429.0 771.9L429.8 771.8L430.7 771.8L431.5 771.8L432.4 771.8L433.2 771.8L434.0 771.8L434.9 771.8L435.7 771.8L436.6 771.8L437.4 771.7L438.2 771.7L439.1 771.7L439.9 771.7L440.8 771.7L441.6 771.7L442.4 771.7L443.3 771.7L444.1 771.7L444.9 771.7L445.8 771.6L446.6 771.6L447.5 771.6L448.3 771.6L449.1 771.6L450.0 771.6L450.8 771.6L451.7 771.6L452.5 771.6L453.3 771.6L454.2 771.5L455.0 771.5L455.9 771.5L456.7 771.5L457.5 771.5L458.4 771.5L459.2 771.5L460.1 771.5L460.9 771.5L461.7 771.5L462.6 771.4L463.4 771.4L464.3 771.4L465.1 771.4L465.9 771.4L466.8 771.4L467.6 771.4L468.5 771.4L469.3 771.4L470.1 771.4L471.0 771.3L471.8 771.3L472.7 771.3L473.5 771.3L474.3 771.3L475.2 771.3L476.0 771.3L476.9 771.3L477.7 771.3L478.5 771.3L479.4 771.2L480.2 771.2L481.1 771.2L481.9 771.2L482.7 771.2L483.6 771.2L484.4 771.2L485.3 771.2L486.1 771.2L486.9 771.2L487.8 771.2L488.6 771.1L489.5 771.1L490.3 771.1L491.1 771.1L492.0 771.1L492.8 771.1L493.7 771.1L494.5 771.1L495.3 771.1L496.2 771.1L497.0 771.1L497.9 771.0L498.7 771.0L499.5 771.0L500.4 771.0L501.2 771.0L502.1 771.0L502.9 771.0L503.7 771.0L504.6 771.0L505.4 771.0L506.3 771.0L507.1 770.9L507.9 770.9L508.8 770.9L509.6 770.9L510.5 770.9L511.3 770.9L512.1 770.9L513.0 770.9L513.8 770.9L514.7 770.9L515.5 770.9L516.3 770.9L517.2 770.8L518.0 770.8L518.9 770.8L519.7 770.8L520.5 770.8L521.4 770.8L522.2 770.8L523.1 770.8L523.9 770.8L524.7 770.8L525.6 770.8L526.4 770.7L527.3 770.7L528.1 770.7L528.9 770.7L529.8 770.7L530.6 770.7L531.5 770.7L532.3 770.7L533.1 770.7L534.0 770.7L534.8 770.7L535.7 770.7L536.5 770.7L537.3 770.6L538.2 770.6L539.0 770.6L539.9 770.6L540.7 770.6L541.5 770.6L542.4 770.6L543.2 770.6L544.1 770.6L544.9 770.6L545.7 770.6L546.6 770.6L547.4 770.5L548.3 770.5L549.1 770.5L549.9 770.5L550.8 770.5L551.6 770.5L552.5 770.5L553.3 770.5L554.1 770.5L555.0 770.5L555.8 770.5L556.7 770.5L557.5 770.5L558.3 770.4L559.2 770.4L560.0 770.4L560.9 770.4L561.7 770.4L562.5 770.4L563.4 770.4L564.2 770.4L565.1 770.4L565.9 770.4L566.7 770.4L567.6 770.4L568.4 770.4L569.3 770.4L570.1 770.3L570.9 770.3L571.8 770.3L572.6 770.3L573.5 770.3L574.3 770.3L575.1 770.3L576.0 770.3L576.8 770.3L577.6 770.3L578.5 770.3L579.3 770.3L580.2 770.3L581.0 770.2L581.8 770.2L582.7 770.2L583.5 770.2L584.4 770.2L585.2 770.2L586.0 770.2L586.9 770.2L587.7 770.2L588.6 770.2L589.4 770.2L590.2 770.2L591.1 770.2L591.9 770.2L592.8 770.2L593.6 770.1L594.4 770.1L595.3 770.1L596.1 770.1L597.0 770.1L597.8 770.1L598.6 770.1L599.5 770.1L600.3 770.1L601.2 770.1L602.0 770.1L602.8 770.1L603.7 770.1L604.5 770.1L605.4 770.1L606.2 770.0L607.0 770.0L607.9 770.0L608.7 770.0L609.6 770.0L610.4 770.0L611.2 770.0L612.1 770.0L612.9 770.0L613.8 770.0L614.6 770.0L615.4 770.0L616.3 770.0L617.1 770.0L618.0 770.0L618.8 770.0L619.6 769.9L620.5 769.9L621.3 769.9L622.2 769.9L623.0 769.9L623.8 769.9L624.7 769.9L625.5 769.9L626.4 769.9L627.2 769.9L628.0 769.9L628.9 769.9L629.7 769.9L630.6 769.9L631.4 769.9L632.2 769.9L633.1 769.9L633.9 769.8L634.8 769.8L635.6 769.8L636.4 769.8L637.3 769.8L638.1 769.8L639.0 769.8L639.8 769.8L640.6 769.8L641.5 769.8L642.3 769.8L643.2 769.8L644.0 769.8L644.8 769.8L645.7 769.8L646.5 769.8L647.4 769.8L648.2 769.8L649.0 769.7L649.9 769.7L650.7 769.7L651.6 769.7L652.4 769.7L653.2 769.7L654.1 769.7L654.9 769.7L655.8 769.7L656.6 769.7L657.4 769.7L658.3 769.7L659.1 769.7L660.0 769.7L660.8 769.7L661.6 769.7L662.5 769.7L663.3 769.7L664.2 769.7L665.0 769.6L665.8 769.6L666.7 769.6L667.5 769.6L668.4 769.6L669.2 769.6L670.0 769.6L670.9 769.6L671.7 769.6L672.6 769.6L673.4 769.6L674.2 769.6L675.1 769.6L675.9 769.6L676.8 769.6L677.6 769.6L678.4 769.6L679.3 769.6L680.1 769.6L681.0 769.6L681.8 769.6L682.6 769.5L683.5 769.5L684.3 769.5L685.2 769.5L686.0 769.5L686.8 769.5L687.7 769.5L688.5 769.5L689.4 769.5L690.2 769.5L691.0 769.5L691.9 769.5L692.7 769.5L693.6 769.5L694.4 769.5L695.2 769.5L696.1 769.5L696.9 769.5L697.8 769.5L698.6 769.5L699.4 769.5L700.3 769.5L701.1 769.5L702.0 769.4L702.8 769.4L703.6 769.4L704.5 769.4L705.3 769.4L706.2 769.4L707.0 769.4L707.8 769.4L708.7 769.4L709.5 769.4L710.3 769.4L711.2 769.4L712.0 769.4L712.9 769.4L713.7 769.4L714.5 769.4L715.4 769.4L716.2 769.4L717.1 769.4L717.9 769.4L718.7 769.4L719.6 769.4L720.4 769.4L721.3 769.4L722.1 769.4L722.9 769.4L723.8 769.3L724.6 769.3L725.5 769.3L726.3 769.3L727.1 769.3L728.0 769.3L728.8 769.3L729.7 769.3L730.5 769.3L731.3 769.3L732.2 769.3L733.0 769.3L733.9 769.3L734.7 769.3L735.5 769.3L736.4 769.3L737.2 769.3L738.1 769.3L738.9 769.3L739.7 769.3L740.6 769.3L741.4 769.3L742.3 769.3L743.1 769.3L743.9 769.3L744.8 769.3L745.6 769.3L746.5 769.3L747.3 769.3L748.1 769.3L749.0 769.2L749.8 769.2L750.7 769.2L751.5 769.2L752.3 769.2L753.2 769.2L754.0 769.2L754.9 769.2L755.7 769.2L756.5 769.2L757.4 769.2L758.2 769.2L759.1 769.2L759.9 769.2L760.7 769.2L761.6 769.2L762.4 769.2L763.3 769.2L764.1 769.2L764.9 769.2L765.8 769.2L766.6 769.2L767.5 769.2L768.3 769.2L769.1 769.2L770.0 769.2L770.8 769.2L771.7 769.2L772.5 769.2L773.3 769.2L774.2 769.2L775.0 769.2L775.9 769.2L776.7 769.2" class="green"/>
<path d="M104.8 817.3L105.6 817.0L106.5 816.8L107.3 816.6L108.2 816.4L109.0 816.2L109.8 815.9L110.7 815.7L111.5 815.5L112.4 815.3L113.2 815.0L114.0 814.8L114.9 814.6L115.7 814.3L116.6 814.1L117.4 813.8L118.2 813.6L119.1 813.4L119.9 813.1L120.8 812.9L121.6 812.6L122.4 812.4L123.3 812.1L124.1 811.9L125.0 811.6L125.8 811.4L126.6 811.1L127.5 810.8L128.3 810.6L129.2 810.3L130.0 810.0L130.8 809.8L131.7 809.5L132.5 809.2L133.4 809.0L134.2 808.7L135.0 808.4L135.9 808.1L136.7 807.9L137.6 807.6L138.4 807.3L139.2 807.0L140.1 806.7L140.9 806.4L141.8 806.1L142.6 805.9L143.4 805.6L144.3 805.3L145.1 805.0L146.0 804.7L146.8 804.4L147.6 804.1L148.5 803.8L149.3 803.5L150.2 803.1L151.0 802.8L151.8 802.5L152.7 802.2L153.5 801.9L154.4 801.6L155.2 801.3L156.0 800.9L156.9 800.6L157.7 800.3L158.6 800.0L159.4 799.6L160.2 799.3L161.1 799.0L161.9 798.7L162.8 798.3L163.6 798.0L164.4 797.7L165.3 797.3L166.1 797.0L167.0 796.6L167.8 796.3L168.6 795.9L169.5 795.6L170.3 795.2L171.2 794.9L172.0 794.5L172.8 794.2L173.7 793.8L174.5 793.5L175.3 793.1L176.2 792.8L177.0 792.4L177.9 792.0L178.7 791.7L179.5 791.3L180.4 790.9L181.2 790.6L182.1 790.2L182.9 789.8L183.7 789.4L184.6 789.1L185.4 788.7L186.3 788.3L187.1 787.9L187.9 787.5L188.8 787.2L189.6 786.8L190.5 786.4L191.3 786.0L192.1 785.6L193.0 785.2L193.8 784.8L194.7 784.4L195.5 784.0L196.3 783.6L197.2 783.2L198.0 782.8L198.9 782.4L199.7 782.0L200.5 781.6L201.4 781.2L202.2 780.8L203.1 780.4L203.9 780.0L204.7 779.6L205.6 779.2L206.4 778.8L207.3 778.3L208.1 777.9L208.9 777.5L209.8 777.1L210.6 776.7L211.5 776.2L212.3 775.8L213.1 775.4L214.0 775.0L214.8 774.5L215.7 774.1L216.5 773.7L217.3 773.3L218.2 772.8L219.0 772.4L219.9 772.0L220.7 771.5L221.5 771.1L222.4 770.7L223.2 770.2L224.1 769.8L224.9 769.4L225.7 768.9L226.6 768.5L227.4 768.0L228.3 767.6L229.1 767.2L229.9 766.7L230.8 766.3L231.6 765.8L232.5 765.4L233.3 764.9L234.1 764.5L235.0 764.0L235.8 763.6L236.7 763.1L237.5 762.7L238.3 762.2L239.2 761.8L240.0 761.3L240.9 760.9L241.7 760.4L242.5 760.0L243.4 759.5L244.2 759.1L245.1 758.6L245.9 758.2L246.7 757.7L247.6 757.2L248.4 756.8L249.3 756.3L250.1 755.9L250.9 755.4L251.8 755.0L252.6 754.5L253.5 754.0L254.3 753.6L255.1 753.1L256.0 752.7L256.8 752.2L257.7 751.7L258.5 751.3L259.3 750.8L260.2 750.4L261.0 749.9L261.9 749.5L262.7 749.0L263.5 748.5L264.4 748.1L265.2 747.6L266.1 747.2L266.9 746.7L267.7 746.2L268.6 745.8L269.4 745.3L270.3 744.9L271.1 744.4L271.9 744.0L272.8 743.5L273.6 743.0L274.5 742.6L275.3 742.1L276.1 741.7L277.0 741.2L277.8 740.8L278.7 740.3L279.5 739.9L280.3 739.4L281.2 739.0L282.0 738.5L282.9 738.1L283.7 737.6L284.5 737.2L285.4 736.7L286.2 736.3L287.1 735.8L287.9 735.4L288.7 734.9L289.6 734.5L290.4 734.0L291.3 733.6L292.1 733.2L292.9 732.7L293.8 732.3L294.6 731.8L295.5 731.4L296.3 731.0L297.1 730.5L298.0 730.1L298.8 729.7L299.7 729.2L300.5 728.8L301.3 728.4L302.2 727.9L303.0 727.5L303.9 727.1L304.7 726.7L305.5 726.2L306.4 725.8L307.2 725.4L308.0 725.0L308.9 724.6L309.7 724.2L310.6 723.8L311.4 723.3L312.2 722.9L313.1 722.5L313.9 722.1L314.8 721.7L315.6 721.3L316.4 720.9L317.3 720.5L318.1 720.1L319.0 719.7L319.8 719.3L320.6 718.9L321.5 718.5L322.3 718.2L323.2 717.8L324.0 717.4L324.8 717.0L325.7 716.6L326.5 716.3L327.4 715.9L328.2 715.5L329.0 715.1L329.9 714.8L330.7 714.4L331.6 714.0L332.4 713.7L333.2 713.3L334.1 713.0L334.9 712.6L335.8 712.3L336.6 711.9L337.4 711.6L338.3 711.2L339.1 710.9L340.0 710.5L340.8 710.2L341.6 709.9L342.5 709.5L343.3 709.2L344.2 708.9L345.0 708.6L345.8 708.2L346.7 707.9L347.5 707.6L348.4 707.3L349.2 707.0L350.0 706.7L350.9 706.4L351.7 706.1L352.6 705.8L353.4 705.5L354.2 705.2L355.1 704.9L355.9 704.6L356.8 704.3L357.6 704.0L358.4 703.8L359.3 703.5L360.1 703.2L361.0 703.0L361.8 702.7L362.6 702.4L363.5 702.2L364.3 701.9L365.2 701.7L366.0 701.4L366.8 701.2L367.7 700.9L368.5 700.7L369.4 700.5L370.2 700.2L371.0 700.0L371.9 699.8L372.7 699.5L373.6 699.3L374.4 699.1L375.2 698.9L376.1 698.7L376.9 698.5L377.8 698.3L378.6 698.1L379.4 697.9L380.3 697.7L381.1 697.5L382.0 697.3L382.8 697.2L383.6 697.0L384.5 696.8L385.3 696.6L386.2 696.5L387.0 696.3L387.8 696.1L388.7 696.0L389.5 695.8L390.4 695.7L391.2 695.6L392.0 695.4L392.9 695.3L393.7 695.1L394.6 695.0L395.4 694.9L396.2 694.8L397.1 694.7L397.9 694.5L398.8 694.4L399.6 694.3L400.4 694.2L401.3 694.1L402.1 694.0L403.0 693.9L403.8 693.9L404.6 693.8L405.5 693.7L406.3 693.6L407.2 693.6L408.0 693.5L408.8 693.4L409.7 693.4L410.5 693.3L411.4 693.3L412.2 693.2L413.0 693.2L413.9 693.1L414.7 693.1L415.6 693.1L416.4 693.0L417.2 693.0L418.1 693.0L418.9 693.0L419.8 693.0L420.6 693.0L421.4 693.0L422.3 693.0L423.1 693.0L424.0 693.0L424.8 693.0L425.6 693.0L426.5 693.0L427.3 693.0L428.2 693.1L429.0 693.1L429.8 693.1L430.7 693.2L431.5 693.2L432.4 693.3L433.2 693.3L434.0 693.4L434.9 693.4L435.7 693.5L436.6 693.6L437.4 693.6L438.2 693.7L439.1 693.8L439.9 693.9L440.8 693.9L441.6 694.0L442.4 694.1L443.3 694.2L444.1 694.3L444.9 694.4L445.8 694.5L446.6 694.7L447.5 694.8L448.3 694.9L449.1 695.0L450.0 695.1L450.8 695.3L451.7 695.4L452.5 695.6L453.3 695.7L454.2 695.8L455.0 696.0L455.9 696.1L456.7 696.3L457.5 696.5L458.4 696.6L459.2 696.8L460.1 697.0L460.9 697.2L461.7 697.3L462.6 697.5L463.4 697.7L464.3 697.9L465.1 698.1L465.9 698.3L466.8 698.5L467.6 698.7L468.5 698.9L469.3 699.1L470.1 699.3L471.0 699.5L471.8 699.8L472.7 700.0L473.5 700.2L474.3 700.5L475.2 700.7L476.0 700.9L476.9 701.2L477.7 701.4L478.5 701.7L479.4 701.9L480.2 702.2L481.1 702.4L481.9 702.7L482.7 703.0L483.6 703.2L484.4 703.5L485.3 703.8L486.1 704.0L486.9 704.3L487.8 704.6L488.6 704.9L489.5 705.2L490.3 705.5L491.1 705.8L492.0 706.1L492.8 706.4L493.7 706.7L494.5 707.0L495.3 707.3L496.2 707.6L497.0 707.9L497.9 708.2L498.7 708.6L499.5 708.9L500.4 709.2L501.2 709.5L502.1 709.9L502.9 710.2L503.7 710.5L504.6 710.9L505.4 711.2L506.3 711.6L507.1 711.9L507.9 712.3L508.8 712.6L509.6 713.0L510.5 713.3L511.3 713.7L512.1 714.0L513.0 714.4L513.8 714.8L514.7 715.1L515.5 715.5L516.3 715.9L517.2 716.3L518.0 716.6L518.9 717.0L519.7 717.4L520.5 717.8L521.4 718.2L522.2 718.5L523.1 718.9L523.9 719.3L524.7 719.7L525.6 720.1L526.4 720.5L527.3 720.9L528.1 721.3L528.9 721.7L529.8 722.1L530.6 722.5L531.5 722.9L532.3 723.3L533.1 723.8L534.0 724.2L534.8 724.6L535.7 725.0L536.5 725.4L537.3 725.8L538.2 726.2L539.0 726.7L539.9 727.1L540.7 727.5L541.5 727.9L542.4 728.4L543.2 728.8L544.1 729.2L544.9 729.7L545.7 730.1L546.6 730.5L547.4 731.0L548.3 731.4L549.1 731.8L549.9 732.3L550.8 732.7L551.6 733.2L552.5 733.6L553.3 734.0L554.1 734.5L555.0 734.9L555.8 735.4L556.7 735.8L557.5 736.3L558.3 736.7L559.2 737.2L560.0 737.6L560.9 738.1L561.7 738.5L562.5 739.0L563.4 739.4L564.2 739.9L565.1 740.3L565.9 740.8L566.7 741.2L567.6 741.7L568.4 742.1L569.3 742.6L570.1 743.0L570.9 743.5L571.8 744.0L572.6 744.4L573.5 744.9L574.3 745.3L575.1 745.8L576.0 746.2L576.8 746.7L577.6 747.2L578.5 747.6L579.3 748.1L580.2 748.5L581.0 749.0L581.8 749.5L582.7 749.9L583.5 750.4L584.4 750.8L585.2 751.3L586.0 751.7L586.9 752.2L587.7 752.7L588.6 753.1L589.4 753.6L590.2 754.0L591.1 754.5L591.9 755.0L592.8 755.4L593.6 755.9L594.4 756.3L595.3 756.8L596.1 757.2L597.0 757.7L597.8 758.2L598.6 758.6L599.5 759.1L600.3 759.5L601.2 760.0L602.0 760.4L602.8 760.9L603.7 761.3L604.5 761.8L605.4 762.2L606.2 762.7L607.0 763.1L607.9 763.6L608.7 764.0L609.6 764.5L610.4 764.9L611.2 765.4L612.1 765.8L612.9 766.3L613.8 766.7L614.6 767.2L615.4 767.6L616.3 768.0L617.1 768.5L618.0 768.9L618.8 769.4L619.6 769.8L620.5 770.2L621.3 770.7L622.2 771.1L623.0 771.5L623.8 772.0L624.7 772.4L625.5 772.8L626.4 773.3L627.2 773.7L628.0 774.1L628.9 774.5L629.7 775.0L630.6 775.4L631.4 775.8L632.2 776.2L633.1 776.7L633.9 777.1L634.8 777.5L635.6 777.9L636.4 778.3L637.3 778.8L638.1 779.2L639.0 779.6L639.8 780.0L640.6 780.4L641.5 780.8L642.3 781.2L643.2 781.6L644.0 782.0L644.8 782.4L645.7 782.8L646.5 783.2L647.4 783.6L648.2 784.0L649.0 784.4L649.9 784.8L650.7 785.2L651.6 785.6L652.4 786.0L653.2 786.4L654.1 786.8L654.9 787.2L655.8 787.5L656.6 787.9L657.4 788.3L658.3 788.7L659.1 789.1L660.0 789.4L660.8 789.8L661.6 790.2L662.5 790.6L663.3 790.9L664.2 791.3L665.0 791.7L665.8 792.0L666.7 792.4L667.5 792.8L668.4 793.1L669.2 793.5L670.0 793.8L670.9 794.2L671.7 794.5L672.6 794.9L673.4 795.2L674.2 795.6L675.1 795.9L675.9 796.3L676.8 796.6L677.6 797.0L678.4 797.3L679.3 797.7L680.1 798.0L681.0 798.3L681.8 798.7L682.6 799.0L683.5 799.3L684.3 799.6L685.2 800.0L686.0 800.3L686.8 800.6L687.7 800.9L688.5 801.3L689.4 801.6L690.2 801.9L691.0 802.2L691.9 802.5L692.7 802.8L693.6 803.1L694.4 803.5L695.2 803.8L696.1 804.1L696.9 804.4L697.8 804.7L698.6 805.0L699.4 805.3L700.3 805.6L701.1 805.9L702.0 806.1L702.8 806.4L703.6 806.7L704.5 807.0L705.3 807.3L706.2 807.6L707.0 807.9L707.8 808.1L708.7 808.4L709.5 808.7L710.3 809.0L711.2 809.2L712.0 809.5L712.9 809.8L713.7 810.0L714.5 810.3L715.4 810.6L716.2 810.8L717.1 811.1L717.9 811.4L718.7 811.6L719.6 811.9L720.4 812.1L721.3 812.4L722.1 812.6L722.9 812.9L723.8 813.1L724.6 813.4L725.5 813.6L726.3 813.8L727.1 814.1L728.0 814.3L728.8 814.6L729.7 814.8L730.5 815.0L731.3 815.3L732.2 815.5L733.0 815.7L733.9 815.9L734.7 816.2L735.5 816.4L736.4 816.6L737.2 816.8L738.1 817.0L738.9 817.3L739.7 817.5L740.6 817.7L741.4 817.9L742.3 818.1L743.1 818.3L743.9 818.5L744.8 818.7L745.6 818.9L746.5 819.1L747.3 819.3L748.1 819.5L749.0 819.7L749.8 819.9L750.7 820.1L751.5 820.3L752.3 820.5L753.2 820.7L754.0 820.9L754.9 821.1L755.7 821.3L756.5 821.4L757.4 821.6L758.2 821.8L759.1 822.0L759.9 822.2L760.7 822.3L761.6 822.5L762.4 822.7L763.3 822.8L764.1 823.0L764.9 823.2L765.8 823.4L766.6 823.5L767.5 823.7L768.3 823.8L769.1 824.0L770.0 824.2L770.8 824.3L771.7 824.5L772.5 824.6L773.3 824.8L774.2 824.9L775.0 825.1L775.9 825.2L776.7 825.4" class="red"/>
<path d="M104.8 838.3L105.6 838.3L106.5 838.3L107.3 838.3L108.2 838.3L109.0 838.3L109.8 838.3L110.7 838.3L111.5 838.3L112.4 838.3L113.2 838.3L114.0 838.3L114.9 838.3L115.7 838.3L116.6 838.3L117.4 838.3L118.2 838.3L119.1 838.3L119.9 838.3L120.8 838.3L121.6 838.3L122.4 838.3L123.3 838.3L124.1 838.3L125.0 838.3L125.8 838.3L126.6 838.3L127.5 838.3L128.3 838.3L129.2 838.3L130.0 838.3L130.8 838.3L131.7 838.3L132.5 838.3L133.4 838.3L134.2 838.3L135.0 838.3L135.9 838.3L136.7 838.3L137.6 838.3L138.4 838.3L139.2 838.3L140.1 838.3L140.9 838.3L141.8 838.3L142.6 838.3L143.4 838.3L144.3 838.3L145.1 838.3L146.0 838.2L146.8 838.2L147.6 838.2L148.5 838.2L149.3 838.2L150.2 838.2L151.0 838.2L151.8 838.2L152.7 838.2L153.5 838.2L154.4 838.2L155.2 838.2L156.0 838.2L156.9 838.2L157.7 838.2L158.6 838.2L159.4 838.2L160.2 838.2L161.1 838.2L161.9 838.2L162.8 838.2L163.6 838.2L164.4 838.2L165.3 838.1L166.1 838.1L167.0 838.1L167.8 838.1L168.6 838.1L169.5 838.1L170.3 838.1L171.2 838.1L172.0 838.1L172.8 838.1L173.7 838.1L174.5 838.0L175.3 838.0L176.2 838.0L177.0 838.0L177.9 838.0L178.7 838.0L179.5 838.0L180.4 838.0L181.2 837.9L182.1 837.9L182.9 837.9L183.7 837.9L184.6 837.9L185.4 837.9L186.3 837.8L187.1 837.8L187.9 837.8L188.8 837.8L189.6 837.8L190.5 837.7L191.3 837.7L192.1 837.7L193.0 837.7L193.8 837.6L194.7 837.6L195.5 837.6L196.3 837.6L197.2 837.5L198.0 837.5L198.9 837.5L199.7 837.4L200.5 837.4L201.4 837.4L202.2 837.3L203.1 837.3L203.9 837.2L204.7 837.2L205.6 837.2L206.4 837.1L207.3 837.1L208.1 837.0L208.9 837.0L209.8 836.9L210.6 836.9L211.5 836.8L212.3 836.8L213.1 836.7L214.0 836.6L214.8 836.6L215.7 836.5L216.5 836.5L217.3 836.4L218.2 836.3L219.0 836.3L219.9 836.2L220.7 836.1L221.5 836.0L222.4 836.0L223.2 835.9L224.1 835.8L224.9 835.7L225.7 835.6L226.6 835.5L227.4 835.4L228.3 835.3L229.1 835.2L229.9 835.1L230.8 835.0L231.6 834.9L232.5 834.8L233.3 834.7L234.1 834.6L235.0 834.4L235.8 834.3L236.7 834.2L237.5 834.0L238.3 833.9L239.2 833.8L240.0 833.6L240.9 833.5L241.7 833.3L242.5 833.2L243.4 833.0L244.2 832.8L245.1 832.7L245.9 832.5L246.7 832.3L247.6 832.2L248.4 832.0L249.3 831.8L250.1 831.6L250.9 831.4L251.8 831.2L252.6 831.0L253.5 830.8L254.3 830.6L255.1 830.3L256.0 830.1L256.8 829.9L257.7 829.6L258.5 829.4L259.3 829.1L260.2 828.9L261.0 828.6L261.9 828.4L262.7 828.1L263.5 827.8L264.4 827.5L265.2 827.3L266.1 827.0L266.9 826.7L267.7 826.4L268.6 826.1L269.4 825.7L270.3 825.4L271.1 825.1L271.9 824.8L272.8 824.4L273.6 824.1L274.5 823.7L275.3 823.4L276.1 823.0L277.0 822.6L277.8 822.2L278.7 821.9L279.5 821.5L280.3 821.1L281.2 820.7L282.0 820.2L282.9 819.8L283.7 819.4L284.5 819.0L285.4 818.5L286.2 818.1L287.1 817.6L287.9 817.2L288.7 816.7L289.6 816.2L290.4 815.8L291.3 815.3L292.1 814.8L292.9 814.3L293.8 813.8L294.6 813.3L295.5 812.8L296.3 812.2L297.1 811.7L298.0 811.2L298.8 810.6L299.7 810.1L300.5 809.5L301.3 809.0L302.2 808.4L303.0 807.8L303.9 807.3L304.7 806.7L305.5 806.1L306.4 805.5L307.2 804.9L308.0 804.3L308.9 803.7L309.7 803.0L310.6 802.4L311.4 801.8L312.2 801.2L313.1 800.5L313.9 799.9L314.8 799.2L315.6 798.6L316.4 797.9L317.3 797.3L318.1 796.6L319.0 795.9L319.8 795.2L320.6 794.6L321.5 793.9L322.3 793.2L323.2 792.5L324.0 791.8L324.8 791.1L325.7 790.5L326.5 789.8L327.4 789.1L328.2 788.4L329.0 787.7L329.9 787.0L330.7 786.2L331.6 785.5L332.4 784.8L333.2 784.1L334.1 783.4L334.9 782.7L335.8 782.0L336.6 781.3L337.4 780.6L338.3 779.9L339.1 779.2L340.0 778.5L340.8 777.8L341.6 777.1L342.5 776.4L343.3 775.7L344.2 775.0L345.0 774.3L345.8 773.6L346.7 772.9L347.5 772.2L348.4 771.5L349.2 770.9L350.0 770.2L350.9 769.5L351.7 768.9L352.6 768.2L353.4 767.6L354.2 766.9L355.1 766.3L355.9 765.6L356.8 765.0L357.6 764.4L358.4 763.8L359.3 763.2L360.1 762.6L361.0 762.0L361.8 761.4L362.6 760.8L363.5 760.3L364.3 759.7L365.2 759.1L366.0 758.6L366.8 758.1L367.7 757.5L368.5 757.0L369.4 756.5L370.2 756.0L371.0 755.6L371.9 755.1L372.7 754.6L373.6 754.2L374.4 753.7L375.2 753.3L376.1 752.9L376.9 752.5L377.8 752.1L378.6 751.7L379.4 751.4L380.3 751.0L381.1 750.7L382.0 750.3L382.8 750.0L383.6 749.7L384.5 749.4L385.3 749.2L386.2 748.9L387.0 748.7L387.8 748.4L388.7 748.2L389.5 748.0L390.4 747.8L391.2 747.6L392.0 747.5L392.9 747.3L393.7 747.2L394.6 747.1L395.4 747.0L396.2 746.9L397.1 746.8L397.9 746.7L398.8 746.7L399.6 746.7L400.4 746.7L401.3 746.7L402.1 746.7L403.0 746.7L403.8 746.7L404.6 746.8L405.5 746.9L406.3 747.0L407.2 747.1L408.0 747.2L408.8 747.3L409.7 747.5L410.5 747.6L411.4 747.8L412.2 748.0L413.0 748.2L413.9 748.4L414.7 748.7L415.6 748.9L416.4 749.2L417.2 749.4L418.1 749.7L418.9 750.0L419.8 750.3L420.6 750.7L421.4 751.0L422.3 751.4L423.1 751.7L424.0 752.1L424.8 752.5L425.6 752.9L426.5 753.3L427.3 753.7L428.2 754.2L429.0 754.6L429.8 755.1L430.7 755.6L431.5 756.0L432.4 756.5L433.2 757.0L434.0 757.5L434.9 758.1L435.7 758.6L436.6 759.1L437.4 759.7L438.2 760.3L439.1 760.8L439.9 761.4L440.8 762.0L441.6 762.6L442.4 763.2L443.3 763.8L444.1 764.4L444.9 765.0L445.8 765.6L446.6 766.3L447.5 766.9L448.3 767.6L449.1 768.2L450.0 768.9L450.8 769.5L451.7 770.2L452.5 770.9L453.3 771.5L454.2 772.2L455.0 772.9L455.9 773.6L456.7 774.3L457.5 775.0L458.4 775.7L459.2 776.4L460.1 777.1L460.9 777.8L461.7 778.5L462.6 779.2L463.4 779.9L464.3 780.6L465.1 781.3L465.9 782.0L466.8 782.7L467.6 783.4L468.5 784.1L469.3 784.8L470.1 785.5L471.0 786.2L471.8 787.0L472.7 787.7L473.5 788.4L474.3 789.1L475.2 789.8L476.0 790.5L476.9 791.1L477.7 791.8L478.5 792.5L479.4 793.2L480.2 793.9L481.1 794.6L481.9 795.2L482.7 795.9L483.6 796.6L484.4 797.3L485.3 797.9L486.1 798.6L486.9 799.2L487.8 799.9L488.6 800.5L489.5 801.2L490.3 801.8L491.1 802.4L492.0 803.0L492.8 803.7L493.7 804.3L494.5 804.9L495.3 805.5L496.2 806.1L497.0 806.7L497.9 807.3L498.7 807.8L499.5 808.4L500.4 809.0L501.2 809.5L502.1 810.1L502.9 810.6L503.7 811.2L504.6 811.7L505.4 812.2L506.3 812.8L507.1 813.3L507.9 813.8L508.8 814.3L509.6 814.8L510.5 815.3L511.3 815.8L512.1 816.2L513.0 816.7L513.8 817.2L514.7 817.6L515.5 818.1L516.3 818.5L517.2 819.0L518.0 819.4L518.9 819.8L519.7 820.2L520.5 820.7L521.4 821.1L522.2 821.5L523.1 821.9L523.9 822.2L524.7 822.6L525.6 823.0L526.4 823.4L527.3 823.7L528.1 824.1L528.9 824.4L529.8 824.8L530.6 825.1L531.5 825.4L532.3 825.7L533.1 826.1L534.0 826.4L534.8 826.7L535.7 827.0L536.5 827.3L537.3 827.5L538.2 827.8L539.0 828.1L539.9 828.4L540.7 828.6L541.5 828.9L542.4 829.1L543.2 829.4L544.1 829.6L544.9 829.9L545.7 830.1L546.6 830.3L547.4 830.6L548.3 830.8L549.1 831.0L549.9 831.2L550.8 831.4L551.6 831.6L552.5 831.8L553.3 832.0L554.1 832.2L555.0 832.3L555.8 832.5L556.7 832.7L557.5 832.8L558.3 833.0L559.2 833.2L560.0 833.3L560.9 833.5L561.7 833.6L562.5 833.8L563.4 833.9L564.2 834.0L565.1 834.2L565.9 834.3L566.7 834.4L567.6 834.6L568.4 834.7L569.3 834.8L570.1 834.9L570.9 835.0L571.8 835.1L572.6 835.2L573.5 835.3L574.3 835.4L575.1 835.5L576.0 835.6L576.8 835.7L577.6 835.8L578.5 835.9L579.3 836.0L580.2 836.0L581.0 836.1L581.8 836.2L582.7 836.3L583.5 836.3L584.4 836.4L585.2 836.5L586.0 836.5L586.9 836.6L587.7 836.6L588.6 836.7L589.4 836.8L590.2 836.8L591.1 836.9L591.9 836.9L592.8 837.0L593.6 837.0L594.4 837.1L595.3 837.1L596.1 837.2L597.0 837.2L597.8 837.2L598.6 837.3L599.5 837.3L600.3 837.4L601.2 837.4L602.0 837.4L602.8 837.5L603.7 837.5L604.5 837.5L605.4 837.6L606.2 837.6L607.0 837.6L607.9 837.6L608.7 837.7L609.6 837.7L610.4 837.7L611.2 837.7L612.1 837.8L612.9 837.8L613.8 837.8L614.6 837.8L615.4 837.8L616.3 837.9L617.1 837.9L618.0 837.9L618.8 837.9L619.6 837.9L620.5 837.9L621.3 838.0L622.2 838.0L623.0 838.0L623.8 838.0L624.7 838.0L625.5 838.0L626.4 838.0L627.2 838.0L628.0 838.1L628.9 838.1L629.7 838.1L630.6 838.1L631.4 838.1L632.2 838.1L633.1 838.1L633.9 838.1L634.8 838.1L635.6 838.1L636.4 838.1L637.3 838.2L638.1 838.2L639.0 838.2L639.8 838.2L640.6 838.2L641.5 838.2L642.3 838.2L643.2 838.2L644.0 838.2L644.8 838.2L645.7 838.2L646.5 838.2L647.4 838.2L648.2 838.2L649.0 838.2L649.9 838.2L650.7 838.2L651.6 838.2L652.4 838.2L653.2 838.2L654.1 838.2L654.9 838.2L655.8 838.2L656.6 838.3L657.4 838.3L658.3 838.3L659.1 838.3L660.0 838.3L660.8 838.3L661.6 838.3L662.5 838.3L663.3 838.3L664.2 838.3L665.0 838.3L665.8 838.3L666.7 838.3L667.5 838.3L668.4 838.3L669.2 838.3L670.0 838.3L670.9 838.3L671.7 838.3L672.6 838.3L673.4 838.3L674.2 838.3L675.1 838.3L675.9 838.3L676.8 838.3L677.6 838.3L678.4 838.3L679.3 838.3L680.1 838.3L681.0 838.3L681.8 838.3L682.6 838.3L683.5 838.3L684.3 838.3L685.2 838.3L686.0 838.3L686.8 838.3L687.7 838.3L688.5 838.3L689.4 838.3L690.2 838.3L691.0 838.3L691.9 838.3L692.7 838.3L693.6 838.3L694.4 838.3L695.2 838.3L696.1 838.3L696.9 838.3L697.8 838.3L698.6 838.3L699.4 838.3L700.3 838.3L701.1 838.3L702.0 838.3L702.8 838.3L703.6 838.3L704.5 838.3L705.3 838.3L706.2 838.3L707.0 838.3L707.8 838.3L708.7 838.3L709.5 838.3L710.3 838.3L711.2 838.3L712.0 838.3L712.9 838.3L713.7 838.3L714.5 838.3L715.4 838.3L716.2 838.3L717.1 838.3L717.9 838.3L718.7 838.3L719.6 838.3L720.4 838.3L721.3 838.3L722.1 838.3L722.9 838.3L723.8 838.3L724.6 838.3L725.5 838.3L726.3 838.3L727.1 838.3L728.0 838.3L728.8 838.3L729.7 838.3L730.5 838.3L731.3 838.3L732.2 838.3L733.0 838.3L733.9 838.3L734.7 838.3L735.5 838.3L736.4 838.3L737.2 838.3L738.1 838.3L738.9 838.3L739.7 838.3L740.6 838.3L741.4 838.3L742.3 838.3L743.1 838.3L743.9 838.3L744.8 838.3L745.6 838.3L746.5 838.3L747.3 838.3L748.1 838.3L749.0 838.3L749.8 838.3L750.7 838.3L751.5 838.3L752.3 838.3L753.2 838.3L754.0 838.3L754.9 838.3L755.7 838.3L756.5 838.3L757.4 838.3L758.2 838.3L759.1 838.3L759.9 838.3L760.7 838.3L761.6 838.3L762.4 838.3L763.3 838.3L764.1 838.3L764.9 838.3L765.8 838.3L766.6 838.3L767.5 838.3L768.3 838.3L769.1 838.3L770.0 838.3L770.8 838.3L771.7 838.3L772.5 838.3L773.3 838.3L774.2 838.3L775.0 838.3L775.9 838.3L776.7 838.3" class="red"/>
<path d="M104.8 756.4L105.6 756.2L106.5 756.0L107.3 755.7L108.2 755.5L109.0 755.3L109.8 755.0L110.7 754.8L111.5 754.5L112.4 754.3L113.2 754.0L114.0 753.8L114.9 753.5L115.7 753.3L116.6 753.0L117.4 752.7L118.2 752.5L119.1 752.2L119.9 752.0L120.8 751.7L121.6 751.4L122.4 751.2L123.3 750.9L124.1 750.6L125.0 750.3L125.8 750.1L126.6 749.8L127.5 749.5L128.3 749.2L129.2 749.0L130.0 748.7L130.8 748.4L131.7 748.1L132.5 747.8L133.4 747.5L134.2 747.2L135.0 746.9L135.9 746.6L136.7 746.3L137.6 746.0L138.4 745.7L139.2 745.4L140.1 745.1L140.9 744.8L141.8 744.5L142.6 744.2L143.4 743.9L144.3 743.6L145.1 743.2L146.0 742.9L146.8 742.6L147.6 742.3L148.5 742.0L149.3 741.6L150.2 741.3L151.0 741.0L151.8 740.6L152.7 740.3L153.5 740.0L154.4 739.6L155.2 739.3L156.0 738.9L156.9 738.6L157.7 738.3L158.6 737.9L159.4 737.6L160.2 737.2L161.1 736.9L161.9 736.5L162.8 736.1L163.6 735.8L164.4 735.4L165.3 735.1L166.1 734.7L167.0 734.3L167.8 734.0L168.6 733.6L169.5 733.2L170.3 732.8L171.2 732.5L172.0 732.1L172.8 731.7L173.7 731.3L174.5 730.9L175.3 730.6L176.2 730.2L177.0 729.8L177.9 729.4L178.7 729.0L179.5 728.6L180.4 728.2L181.2 727.8L182.1 727.4L182.9 727.0L183.7 726.6L184.6 726.2L185.4 725.7L186.3 725.3L187.1 724.9L187.9 724.5L188.8 724.1L189.6 723.6L190.5 723.2L191.3 722.8L192.1 722.4L193.0 721.9L193.8 721.5L194.7 721.1L195.5 720.6L196.3 720.2L197.2 719.7L198.0 719.3L198.9 718.8L199.7 718.4L200.5 717.9L201.4 717.5L202.2 717.0L203.1 716.5L203.9 716.1L204.7 715.6L205.6 715.1L206.4 714.7L207.3 714.2L208.1 713.7L208.9 713.2L209.8 712.7L210.6 712.3L211.5 711.8L212.3 711.3L213.1 710.8L214.0 710.3L214.8 709.8L215.7 709.3L216.5 708.8L217.3 708.2L218.2 707.7L219.0 707.2L219.9 706.7L220.7 706.2L221.5 705.6L222.4 705.1L223.2 704.6L224.1 704.0L224.9 703.5L225.7 703.0L226.6 702.4L227.4 701.9L228.3 701.3L229.1 700.7L229.9 700.2L230.8 699.6L231.6 699.0L232.5 698.5L233.3 697.9L234.1 697.3L235.0 696.7L235.8 696.1L236.7 695.5L237.5 694.9L238.3 694.3L239.2 693.7L240.0 693.1L240.9 692.5L241.7 691.9L242.5 691.3L243.4 690.6L244.2 690.0L245.1 689.4L245.9 688.7L246.7 688.1L247.6 687.4L248.4 686.8L249.3 686.1L250.1 685.5L250.9 684.8L251.8 684.1L252.6 683.4L253.5 682.7L254.3 682.1L255.1 681.4L256.0 680.7L256.8 680.0L257.7 679.2L258.5 678.5L259.3 677.8L260.2 677.1L261.0 676.3L261.9 675.6L262.7 674.9L263.5 674.1L264.4 673.4L265.2 672.6L266.1 671.8L266.9 671.1L267.7 670.3L268.6 669.5L269.4 668.7L270.3 667.9L271.1 667.1L271.9 666.3L272.8 665.5L273.6 664.7L274.5 663.9L275.3 663.0L276.1 662.2L277.0 661.4L277.8 660.5L278.7 659.7L279.5 658.8L280.3 657.9L281.2 657.1L282.0 656.2L282.9 655.3L283.7 654.4L284.5 653.5L285.4 652.6L286.2 651.7L287.1 650.8L287.9 649.9L288.7 649.0L289.6 648.0L290.4 647.1L291.3 646.2L292.1 645.2L292.9 644.3L293.8 643.3L294.6 642.3L295.5 641.4L296.3 640.4L297.1 639.4L298.0 638.4L298.8 637.4L299.7 636.5L300.5 635.5L301.3 634.5L302.2 633.4L303.0 632.4L303.9 631.4L304.7 630.4L305.5 629.4L306.4 628.3L307.2 627.3L308.0 626.3L308.9 625.2L309.7 624.2L310.6 623.1L311.4 622.1L312.2 621.0L313.1 620.0L313.9 618.9L314.8 617.8L315.6 616.8L316.4 615.7L317.3 614.6L318.1 613.5L319.0 612.5L319.8 611.4L320.6 610.3L321.5 609.2L322.3 608.1L323.2 607.1L324.0 606.0L324.8 604.9L325.7 603.8L326.5 602.7L327.4 601.6L328.2 600.5L329.0 599.5L329.9 598.4L330.7 597.3L331.6 596.2L332.4 595.1L333.2 594.0L334.1 593.0L334.9 591.9L335.8 590.8L336.6 589.8L337.4 588.7L338.3 587.6L339.1 586.6L340.0 585.5L340.8 584.5L341.6 583.4L342.5 582.4L343.3 581.3L344.2 580.3L345.0 579.3L345.8 578.2L346.7 577.2L347.5 576.2L348.4 575.2L349.2 574.2L350.0 573.2L350.9 572.2L351.7 571.3L352.6 570.3L353.4 569.3L354.2 568.4L355.1 567.4L355.9 566.5L356.8 565.6L357.6 564.7L358.4 563.8L359.3 562.9L360.1 562.0L361.0 561.1L361.8 560.3L362.6 559.4L363.5 558.6L364.3 557.7L365.2 556.9L366.0 556.1L366.8 555.3L367.7 554.6L368.5 553.8L369.4 553.0L370.2 552.3L371.0 551.6L371.9 550.9L372.7 550.2L373.6 549.5L374.4 548.8L375.2 548.2L376.1 547.6L376.9 546.9L377.8 546.3L378.6 545.7L379.4 545.2L380.3 544.6L381.1 544.1L382.0 543.6L382.8 543.0L383.6 542.6L384.5 542.1L385.3 541.6L386.2 541.2L387.0 540.8L387.8 540.4L388.7 540.0L389.5 539.6L390.4 539.3L391.2 538.9L392.0 538.6L392.9 538.3L393.7 538.1L394.6 537.8L395.4 537.6L396.2 537.3L397.1 537.1L397.9 536.9L398.8 536.8L399.6 536.6L400.4 536.5L401.3 536.4L402.1 536.3L403.0 536.2L403.8 536.2L404.6 536.1L405.5 536.1L406.3 536.1L407.2 536.2L408.0 536.2L408.8 536.3L409.7 536.3L410.5 536.4L411.4 536.5L412.2 536.7L413.0 536.8L413.9 537.0L414.7 537.2L415.6 537.4L416.4 537.6L417.2 537.8L418.1 538.1L418.9 538.4L419.8 538.7L420.6 539.0L421.4 539.3L422.3 539.7L423.1 540.0L424.0 540.4L424.8 540.8L425.6 541.2L426.5 541.6L427.3 542.0L428.2 542.5L429.0 543.0L429.8 543.5L430.7 544.0L431.5 544.5L432.4 545.0L433.2 545.5L434.0 546.1L434.9 546.7L435.7 547.3L436.6 547.9L437.4 548.5L438.2 549.1L439.1 549.7L439.9 550.4L440.8 551.0L441.6 551.7L442.4 552.4L443.3 553.1L444.1 553.8L444.9 554.5L445.8 555.2L446.6 556.0L447.5 556.7L448.3 557.5L449.1 558.2L450.0 559.0L450.8 559.8L451.7 560.6L452.5 561.4L453.3 562.2L454.2 563.0L455.0 563.8L455.9 564.7L456.7 565.5L457.5 566.3L458.4 567.2L459.2 568.1L460.1 568.9L460.9 569.8L461.7 570.7L462.6 571.5L463.4 572.4L464.3 573.3L465.1 574.2L465.9 575.1L466.8 576.0L467.6 576.9L468.5 577.8L469.3 578.7L470.1 579.6L471.0 580.5L471.8 581.5L472.7 582.4L473.5 583.3L474.3 584.2L475.2 585.1L476.0 586.1L476.9 587.0L477.7 587.9L478.5 588.8L479.4 589.8L480.2 590.7L481.1 591.6L481.9 592.6L482.7 593.5L483.6 594.4L484.4 595.3L485.3 596.3L486.1 597.2L486.9 598.1L487.8 599.0L488.6 600.0L489.5 600.9L490.3 601.8L491.1 602.7L492.0 603.6L492.8 604.5L493.7 605.4L494.5 606.3L495.3 607.2L496.2 608.1L497.0 609.0L497.9 609.9L498.7 610.8L499.5 611.7L500.4 612.6L501.2 613.5L502.1 614.3L502.9 615.2L503.7 616.1L504.6 617.0L505.4 617.8L506.3 618.7L507.1 619.5L507.9 620.4L508.8 621.2L509.6 622.1L510.5 622.9L511.3 623.7L512.1 624.6L513.0 625.4L513.8 626.2L514.7 627.0L515.5 627.9L516.3 628.7L517.2 629.5L518.0 630.3L518.9 631.1L519.7 631.9L520.5 632.6L521.4 633.4L522.2 634.2L523.1 635.0L523.9 635.7L524.7 636.5L525.6 637.3L526.4 638.0L527.3 638.8L528.1 639.5L528.9 640.2L529.8 641.0L530.6 641.7L531.5 642.4L532.3 643.2L533.1 643.9L534.0 644.6L534.8 645.3L535.7 646.0L536.5 646.7L537.3 647.4L538.2 648.1L539.0 648.8L539.9 649.5L540.7 650.2L541.5 650.8L542.4 651.5L543.2 652.2L544.1 652.8L544.9 653.5L545.7 654.2L546.6 654.8L547.4 655.5L548.3 656.1L549.1 656.7L549.9 657.4L550.8 658.0L551.6 658.6L552.5 659.3L553.3 659.9L554.1 660.5L555.0 661.1L555.8 661.7L556.7 662.4L557.5 663.0L558.3 663.6L559.2 664.2L560.0 664.8L560.9 665.4L561.7 665.9L562.5 666.5L563.4 667.1L564.2 667.7L565.1 668.3L565.9 668.9L566.7 669.4L567.6 670.0L568.4 670.6L569.3 671.1L570.1 671.7L570.9 672.2L571.8 672.8L572.6 673.4L573.5 673.9L574.3 674.5L575.1 675.0L576.0 675.5L576.8 676.1L577.6 676.6L578.5 677.2L579.3 677.7L580.2 678.2L581.0 678.8L581.8 679.3L582.7 679.8L583.5 680.3L584.4 680.8L585.2 681.4L586.0 681.9L586.9 682.4L587.7 682.9L588.6 683.4L589.4 683.9L590.2 684.4L591.1 684.9L591.9 685.4L592.8 685.9L593.6 686.4L594.4 686.9L595.3 687.4L596.1 687.9L597.0 688.4L597.8 688.9L598.6 689.4L599.5 689.9L600.3 690.4L601.2 690.9L602.0 691.3L602.8 691.8L603.7 692.3L604.5 692.8L605.4 693.2L606.2 693.7L607.0 694.2L607.9 694.7L608.7 695.1L609.6 695.6L610.4 696.1L611.2 696.5L612.1 697.0L612.9 697.4L613.8 697.9L614.6 698.4L615.4 698.8L616.3 699.3L617.1 699.7L618.0 700.2L618.8 700.6L619.6 701.1L620.5 701.5L621.3 702.0L622.2 702.4L623.0 702.8L623.8 703.3L624.7 703.7L625.5 704.2L626.4 704.6L627.2 705.0L628.0 705.5L628.9 705.9L629.7 706.3L630.6 706.8L631.4 707.2L632.2 707.6L633.1 708.0L633.9 708.5L634.8 708.9L635.6 709.3L636.4 709.7L637.3 710.1L638.1 710.5L639.0 711.0L639.8 711.4L640.6 711.8L641.5 712.2L642.3 712.6L643.2 713.0L644.0 713.4L644.8 713.8L645.7 714.2L646.5 714.6L647.4 715.0L648.2 715.4L649.0 715.8L649.9 716.2L650.7 716.6L651.6 717.0L652.4 717.4L653.2 717.7L654.1 718.1L654.9 718.5L655.8 718.9L656.6 719.3L657.4 719.6L658.3 720.0L659.1 720.4L660.0 720.8L660.8 721.1L661.6 721.5L662.5 721.9L663.3 722.3L664.2 722.6L665.0 723.0L665.8 723.3L666.7 723.7L667.5 724.1L668.4 724.4L669.2 724.8L670.0 725.1L670.9 725.5L671.7 725.8L672.6 726.2L673.4 726.5L674.2 726.9L675.1 727.2L675.9 727.6L676.8 727.9L677.6 728.2L678.4 728.6L679.3 728.9L680.1 729.2L681.0 729.6L681.8 729.9L682.6 730.2L683.5 730.6L684.3 730.9L685.2 731.2L686.0 731.5L686.8 731.8L687.7 732.2L688.5 732.5L689.4 732.8L690.2 733.1L691.0 733.4L691.9 733.7L692.7 734.0L693.6 734.3L694.4 734.6L695.2 734.9L696.1 735.2L696.9 735.5L697.8 735.8L698.6 736.1L699.4 736.4L700.3 736.7L701.1 737.0L702.0 737.3L702.8 737.6L703.6 737.9L704.5 738.1L705.3 738.4L706.2 738.7L707.0 739.0L707.8 739.3L708.7 739.5L709.5 739.8L710.3 740.1L711.2 740.3L712.0 740.6L712.9 740.9L713.7 741.1L714.5 741.4L715.4 741.7L716.2 741.9L717.1 742.2L717.9 742.4L718.7 742.7L719.6 742.9L720.4 743.2L721.3 743.4L722.1 743.7L722.9 743.9L723.8 744.2L724.6 744.4L725.5 744.6L726.3 744.9L727.1 745.1L728.0 745.4L728.8 745.6L729.7 745.8L730.5 746.0L731.3 746.3L732.2 746.5L733.0 746.7L733.9 746.9L734.7 747.2L735.5 747.4L736.4 747.6L737.2 747.8L738.1 748.0L738.9 748.2L739.7 748.5L740.6 748.7L741.4 748.9L742.3 749.1L743.1 749.3L743.9 749.5L744.8 749.7L745.6 749.9L746.5 750.1L747.3 750.3L748.1 750.5L749.0 750.7L749.8 750.9L750.7 751.1L751.5 751.3L752.3 751.4L753.2 751.6L754.0 751.8L754.9 752.0L755.7 752.2L756.5 752.4L757.4 752.5L758.2 752.7L759.1 752.9L759.9 753.1L760.7 753.2L761.6 753.4L762.4 753.6L763.3 753.7L764.1 753.9L764.9 754.1L765.8 754.2L766.6 754.4L767.5 754.6L768.3 754.7L769.1 754.9L770.0 755.0L770.8 755.2L771.7 755.4L772.5 755.5L773.3 755.7L774.2 755.8L775.0 756.0L775.9 756.1L776.7 756.3" class="blue"/>
<path d="M104.8 838.3H776.7" fill="none" stroke="#1a1a1a" stroke-width="1.1" stroke-dasharray="15.6 12.3"/>
</g>
<rect x="104.8" y="514.7" width="671.9" height="355.8" fill="none" stroke="#1a1a1a" stroke-width="1.15"/>
<path d="M146.8 870.5V863.7M146.8 514.7V521.5M188.8 870.5V863.7M188.8 514.7V521.5M230.8 870.5V863.7M230.8 514.7V521.5M272.8 870.5V857.0M272.8 514.7V528.2M314.8 870.5V863.7M314.8 514.7V521.5M356.8 870.5V863.7M356.8 514.7V521.5M398.8 870.5V863.7M398.8 514.7V521.5M440.8 870.5V857.0M440.8 514.7V528.2M482.7 870.5V863.7M482.7 514.7V521.5M524.7 870.5V863.7M524.7 514.7V521.5M566.7 870.5V863.7M566.7 514.7V521.5M608.7 870.5V857.0M608.7 514.7V528.2M650.7 870.5V863.7M650.7 514.7V521.5M692.7 870.5V863.7M692.7 514.7V521.5M734.7 870.5V863.7M734.7 514.7V521.5M104.8 838.3H118.3M776.7 838.3H763.2M104.8 752.0H118.3M776.7 752.0H763.2M104.8 665.8H118.3M776.7 665.8H763.2M104.8 579.5H118.3M776.7 579.5H763.2M104.8 795.2H111.6M776.7 795.2H769.9M104.8 708.9H111.6M776.7 708.9H769.9M104.8 622.6H111.6M776.7 622.6H769.9M104.8 536.4H111.6M776.7 536.4H769.9" fill="none" stroke="#1a1a1a" stroke-width="0.95"/>
<clipPath id="c3"><rect x="104.8" y="1005.8" width="671.9" height="355.8"/></clipPath>
<g clip-path="url(#c3)">
<path d="M104.8 1329.4H776.7" fill="none" stroke="#1a1a1a" stroke-width="1.1" stroke-dasharray="15.6 12.3"/>
<path d="M104.8 1059.4H776.7" fill="none" stroke="#1a1a1a" stroke-width="1.1" stroke-dasharray="15.6 12.3"/>
<path d="M104.8 1050.1H105.2V1037.7H106.1V1057.5H106.9V1082.8H107.7V1045.2H108.6V1066.5H109.4V1082.8H110.3V1050.2H111.1V1056.7H111.9V1079.8H112.8V1100.4H113.6V1046.4H114.5V1059.4H115.3V1087.9H116.1V1045.2H117.0V1074.5H117.8V1072.8H118.7V1053.8H119.5V1046.4H120.3V1057.7H121.2V1017.4H122.0V1023.1H122.9V1058.8H123.7V1048.7H124.5V1082.8H125.4V1081.9H126.2V1054.6H127.1V1031.4H127.9V1041.5H128.7V1085.8H129.6V1118.0H130.4V1064.1H131.3V1043.9H132.1V1133.0H132.9V1108.2H133.8V1052.7H134.6V1090.4H135.5V1061.3H136.3V1041.9H137.1V1045.9H138.0V1028.9H138.8V1157.6H139.7V1217.0H140.5V1278.6H141.3V1223.4H142.2V1164.1H143.0V1088.3H143.9V1031.2H144.7V1041.1H145.5V1036.4H146.4V1058.3H147.2V1096.8H148.1V1198.2H148.9V1278.6H149.7V1242.8H150.6V1201.3H151.4V1174.2H152.3V1123.0H153.1V1150.6H153.9V1113.0H154.8V1133.6H155.6V1176.8H156.5V1222.0H157.3V1298.3H158.1V1351.4H159.0V1328.2H159.8V1325.8H160.7V1280.4H161.5V1227.7H162.3V1184.9H163.2V1115.3H164.0V1086.6H164.9V1132.0H165.7V1229.7H166.5V1188.4H167.4V1157.9H168.2V1132.1H169.1V1103.5H169.9V1084.2H170.7V1070.8H171.6V1021.3H172.4V1019.1H173.2V1045.0H174.1V1091.0H174.9V1107.5H175.8V1114.4H176.6V1130.6H177.4V1155.6H178.3V1101.8H179.1V1080.1H180.0V1065.3H180.8V1066.4H181.6V1077.8H182.5V1056.5H183.3V1092.4H184.2V1147.4H185.0V1192.2H185.8V1225.9H186.7V1146.8H187.5V1183.5H188.4V1236.8H189.2V1281.1H190.0V1326.1H190.9V1343.9H191.7V1327.2H192.6V1312.9H193.4V1293.7H194.2V1291.1H195.1V1269.9H195.9V1260.8H196.8V1218.8H197.6V1166.3H198.4V1118.0H199.3V1121.4H200.1V1135.5H201.0V1087.0H201.8V1065.3H202.6V1130.1H203.5V1188.7H204.3V1235.1H205.2V1325.1H206.0V1316.2H206.8V1289.6H207.7V1286.1H208.5V1295.9H209.4V1301.6H210.2V1308.7H211.0V1260.3H211.9V1234.7H212.7V1271.7H213.6V1336.3H214.4V1318.8H215.2V1331.9H216.1V1341.4H216.9V1315.8H217.8V1302.4H218.6V1276.1H219.4V1297.5H220.3V1303.7H221.1V1234.1H222.0V1190.4H222.8V1129.8H223.6V1082.7H224.5V1072.9H225.3V1070.1H226.2V1079.9H227.0V1094.0H227.8V1105.2H228.7V1117.5H229.5V1124.2H230.4V1100.1H231.2V1072.8H232.0V1097.9H232.9V1136.4H233.7V1172.0H234.6V1227.2H235.4V1178.0H236.2V1109.1H237.1V1064.0H237.9V1082.8H238.8V1087.4H239.6V1072.4H240.4V1056.6H241.3V1070.3H242.1V1160.4H243.0V1205.3H243.8V1237.2H244.6V1160.0H245.5V1129.8H246.3V1100.4H247.2V1125.5H248.0V1110.1H248.8V1099.5H249.7V1083.6H250.5V1086.6H251.4V1104.4H252.2V1101.5H253.0V1105.7H253.9V1142.7H254.7V1172.6H255.6V1227.2H256.4V1201.0H257.2V1156.9H258.1V1100.4H258.9V1101.4H259.8V1105.4H260.6V1092.9H261.4V1092.9H262.3V1110.1H263.1V1102.2H264.0V1108.5H264.8V1145.4H265.6V1190.7H266.5V1254.4H267.3V1300.1H268.2V1337.6H269.0V1310.3H269.8V1244.0H270.7V1204.1H271.5V1168.2H272.4V1246.7H273.2V1318.8H274.0V1295.7H274.9V1222.1H275.7V1238.7H276.6V1261.5H277.4V1318.8H278.2V1273.1H279.1V1200.5H279.9V1131.0H280.8V1133.3H281.6V1124.1H282.4V1115.2H283.3V1114.8H284.1V1101.7H285.0V1125.7H285.8V1150.9H286.6V1175.7H287.5V1163.2H288.3V1173.8H289.2V1198.3H290.0V1153.5H290.8V1125.5H291.7V1135.9H292.5V1148.4H293.4V1150.7H294.2V1165.7H295.0V1155.1H295.9V1133.0H296.7V1116.1H297.6V1111.7H298.4V1124.4H299.2V1119.3H300.1V1128.0H300.9V1114.9H301.8V1106.6H302.6V1113.0H303.4V1128.8H304.3V1139.7H305.1V1140.4H306.0V1145.6H306.8V1145.5H307.6V1121.0H308.5V1125.5H309.3V1122.9H310.1V1130.5H311.0V1118.9H311.8V1125.2H312.7V1118.0H313.5V1136.0H314.3V1134.5H315.2V1137.0H316.0V1138.1H316.9V1128.4H317.7V1124.0H318.5V1120.5H319.4V1137.4H320.2V1153.0H321.1V1165.6H321.9V1194.3H322.7V1236.1H323.6V1278.3H324.4V1315.4H325.3V1318.4H326.1V1323.5H326.9V1331.9H327.8V1335.1H328.6V1320.1H329.5V1318.8H330.3V1333.8H331.1V1332.7H332.0V1285.5H332.8V1208.3H333.7V1214.2H334.5V1213.4H335.3V1203.7H336.2V1209.0H337.0V1207.6H337.9V1211.3H338.7V1195.8H339.5V1222.0H340.4V1261.7H341.2V1292.0H342.1V1305.0H342.9V1256.9H343.7V1233.4H344.6V1266.4H345.4V1318.8H346.3V1310.7H347.1V1283.7H347.9V1256.1H348.8V1240.3H349.6V1230.9H350.5V1241.0H351.3V1235.9H352.1V1236.8H353.0V1241.0H353.8V1253.3H354.7V1253.4H355.5V1268.0H356.3V1272.4H357.2V1282.4H358.0V1305.0H358.9V1293.8H359.7V1262.1H360.5V1269.9H361.4V1273.1H362.2V1271.1H363.1V1284.3H363.9V1288.5H364.7V1288.9H365.6V1294.0H366.4V1288.8H367.3V1295.5H368.1V1302.3H368.9V1304.5H369.8V1297.0H370.6V1310.1H371.5V1313.1H372.3V1312.6H373.1V1314.0H374.0V1317.3H374.8V1322.2H375.7V1324.6H376.5V1321.6H377.3V1324.6H378.2V1329.7H379.0V1323.7H379.9V1325.5H380.7V1328.6H381.5V1329.1H382.4V1328.2H383.2V1330.7H384.1V1332.4H384.9V1328.5H385.7V1332.7H386.6V1328.5H387.4V1332.8H388.3V1329.6H389.1V1329.7H389.9V1325.2H390.8V1331.9H391.6V1332.7H392.5V1330.9H393.3V1332.0H394.1V1330.8H395.0V1328.4H395.8V1327.6H396.7V1325.5H397.5V1331.1H398.3V1323.3H399.2V1324.8H400.0V1329.9H400.9V1334.7H401.7V1329.6H402.5V1329.2H403.4V1334.7H404.2V1329.2H405.1V1329.9H405.9V1331.2H406.7V1328.0H407.6V1327.1H408.4V1330.5H409.3V1328.9H410.1V1330.9H410.9V1331.2H411.8V1329.2H412.6V1328.2H413.5V1330.7H414.3V1334.5H415.1V1328.0H416.0V1333.1H416.8V1329.1H417.7V1325.3H418.5V1329.4H419.3V1332.2H420.2V1332.8H421.0V1326.6H421.9V1329.4H422.7V1328.0H423.5V1327.0H424.4V1329.2H425.2V1329.6H426.1V1330.8H426.9V1335.5H427.7V1331.2H428.6V1326.9H429.4V1326.3H430.3V1323.7H431.1V1323.7H431.9V1321.5H432.8V1318.2H433.6V1320.6H434.5V1317.0H435.3V1318.4H436.1V1308.7H437.0V1308.8H437.8V1304.7H438.7V1298.6H439.5V1296.9H440.3V1297.3H441.2V1291.3H442.0V1295.4H442.8V1285.8H443.7V1283.4H444.5V1286.3H445.4V1272.1H446.2V1276.1H447.0V1267.4H447.9V1268.1H448.7V1259.0H449.6V1254.1H450.4V1259.5H451.2V1259.2H452.1V1249.8H452.9V1242.1H453.8V1244.2H454.6V1242.0H455.4V1233.7H456.3V1246.0H457.1V1232.8H458.0V1233.3H458.8V1221.9H459.6V1224.2H460.5V1223.2H461.3V1216.4H462.2V1219.5H463.0V1209.0H463.8V1209.9H464.7V1205.6H465.5V1204.9H466.4V1193.1H467.2V1196.4H468.0V1190.3H468.9V1188.1H469.7V1193.3H470.6V1182.0H471.4V1180.7H472.2V1178.3H473.1V1180.3H473.9V1178.1H474.8V1168.1H475.6V1156.9H476.4V1174.1H477.3V1163.1H478.1V1166.9H479.0V1157.3H479.8V1157.6H480.6V1151.4H481.5V1175.8H482.3V1159.0H483.2V1160.0H484.0V1152.1H484.8V1154.8H485.7V1152.6H486.5V1141.6H487.4V1131.3H488.2V1163.7H489.0V1144.1H489.9V1138.1H490.7V1139.0H491.6V1140.2H492.4V1146.3H493.2V1142.0H494.1V1128.3H494.9V1124.3H495.8V1130.5H496.6V1136.5H497.4V1128.2H498.3V1129.7H499.1V1122.5H500.0V1124.8H500.8V1129.5H501.6V1122.2H502.5V1132.0H503.3V1115.3H504.2V1111.4H505.0V1129.4H505.8V1115.7H506.7V1126.2H507.5V1108.8H508.4V1109.3H509.2V1117.8H510.0V1107.0H510.9V1118.0H511.7V1119.1H512.6V1117.8H513.4V1113.6H514.2V1114.5H515.1V1110.0H515.9V1115.8H516.8V1103.7H517.6V1101.0H518.4V1113.3H519.3V1120.7H520.1V1102.1H521.0V1098.1H521.8V1108.9H522.6V1118.2H523.5V1104.7H524.3V1094.1H525.2V1124.1H526.0V1104.1H526.8V1110.9H527.7V1115.6H528.5V1103.9H529.4V1119.3H530.2V1105.4H531.0V1096.4H531.9V1106.1H532.7V1115.1H533.6V1122.8H534.4V1118.3H535.2V1123.0H536.1V1092.7H536.9V1108.7H537.8V1115.5H538.6V1117.6H539.4V1115.4H540.3V1108.7H541.1V1116.9H542.0V1090.4H542.8V1111.7H543.6V1111.8H544.5V1101.8H545.3V1091.3H546.2V1092.2H547.0V1108.3H547.8V1101.3H548.7V1102.0H549.5V1098.3H550.4V1100.6H551.2V1111.2H552.0V1113.9H552.9V1100.5H553.7V1112.7H554.6V1089.0H555.4V1100.9H556.2V1110.5H557.1V1103.7H557.9V1105.1H558.8V1101.4H559.6V1091.1H560.4V1113.0H561.3V1116.7H562.1V1095.8H563.0V1100.3H563.8V1096.8H564.6V1093.8H565.5V1099.4H566.3V1089.8H567.2V1105.5H568.0V1096.0H568.8V1104.2H569.7V1106.8H570.5V1089.7H571.4V1089.8H572.2V1113.6H573.0V1105.3H573.9V1091.3H574.7V1083.3H575.5V1099.8H576.4V1094.7H577.2V1106.3H578.1V1067.5H578.9V1087.0H579.7V1082.4H580.6V1084.3H581.4V1081.1H582.3V1083.9H583.1V1092.8H583.9V1081.6H584.8V1087.7H585.6V1075.0H586.5V1094.9H587.3V1092.4H588.1V1079.8H589.0V1072.9H589.8V1069.0H590.7V1091.3H591.5V1111.7H592.3V1156.2H593.2V1183.2H594.0V1246.6H594.9V1313.8H595.7V1269.4H596.5V1206.0H597.4V1139.5H598.2V1085.5H599.1V1076.3H599.9V1069.7H600.7V1060.2H601.6V1067.8H602.4V1048.6H603.3V1056.1H604.1V1046.4H604.9V1052.6H605.8V1060.7H606.6V1049.5H607.5V1086.9H608.3V1094.6H609.1V1109.2H610.0V1102.9H610.8V1100.4H611.7V1116.7H612.5V1140.6H613.3V1125.2H614.2V1125.5H615.0V1162.0H615.9V1191.4H616.7V1241.0H617.5V1153.8H618.4V1128.5H619.2V1125.5H620.1V1150.6H620.9V1070.4H621.7V1077.6H622.6V1072.8H623.4V1080.3H624.3V1054.0H625.1V1064.8H625.9V1077.6H626.8V1104.0H627.6V1204.2H628.5V1278.6H629.3V1154.1H630.1V1091.1H631.0V1053.7H631.8V1043.9H632.7V1050.9H633.5V1070.4H634.3V1079.1H635.2V1079.1H636.0V1100.4H636.9V1080.9H637.7V1078.2H638.5V1050.2H639.4V1062.8H640.2V1054.9H641.1V1037.7H641.9V1053.9H642.7V1070.3H643.6V1069.3H644.4V1047.7H645.3V1069.9H646.1V1084.7H646.9V1106.9H647.8V1141.9H648.6V1167.3H649.5V1194.5H650.3V1166.8H651.1V1132.9H652.0V1126.3H652.8V1103.3H653.7V1079.6H654.5V1082.9H655.3V1071.6H656.2V1075.3H657.0V1080.3H657.9V1091.7H658.7V1059.0H659.5V1128.8H660.4V1183.2H661.2V1117.5H662.1V1082.8H662.9V1084.0H663.7V1062.2H664.6V1060.2H665.4V1074.0H666.3V1075.3H667.1V1057.7H667.9V1059.3H668.8V1065.3H669.6V1085.3H670.5V1079.4H671.3V1085.7H672.1V1060.2H673.0V1082.6H673.8V1088.0H674.7V1097.9H675.5V1087.9H676.3V1075.3H677.2V1090.4H678.0V1085.8H678.9V1091.6H679.7V1075.3H680.5V1081.0H681.4V1085.3H682.2V1054.8H683.1V1060.3H683.9V1045.2H684.7V1095.4H685.6V1076.5H686.4V1083.7H687.3V1060.2H688.1V1077.7H688.9V1075.3H689.8V1088.5H690.6V1067.1H691.5V1073.4H692.3V1066.5H693.1V1054.2H694.0V1056.5H694.8V1103.6H695.7V1146.7H696.5V1198.3H697.3V1151.7H698.2V1086.4H699.0V1095.4H699.9V1107.9H700.7V1099.7H701.5V1088.3H702.4V1072.8H703.2V1064.8H704.1V1092.9H704.9V1069.4H705.7V1070.3H706.6V1075.3H707.4V1046.4H708.3V1049.6H709.1V1102.6H709.9V1092.9H710.8V1075.3H711.6V1078.7H712.4V1082.8H713.3V1067.8H714.1V1078.1H715.0V1077.8H715.8V1072.8H716.6V1108.3H717.5V1110.4H718.3V1119.1H719.2V1092.9H720.0V1117.6H720.8V1124.1H721.7V1131.4H722.5V1165.4H723.4V1203.3H724.2V1257.3H725.0V1192.7H725.9V1149.5H726.7V1122.1H727.6V1087.9H728.4V1145.9H729.2V1164.4H730.1V1132.1H730.9V1105.1H731.8V1070.4H732.6V1081.6H733.4V1123.9H734.3V1125.5H735.1V1110.9H736.0V1105.0H736.8V1094.1H737.6V1117.3H738.5V1120.5H739.3V1109.4H740.2V1101.5H741.0V1087.9H741.8V1080.2H742.7V1112.0H743.5V1115.5H744.4V1083.9H745.2V1060.2H746.0V1080.0H746.9V1082.8H747.7V1055.6H748.6V1057.8H749.4V1045.2H750.2V1072.2H751.1V1065.3H751.9V1054.6H752.8V1040.2H753.6V1054.7H754.4V1070.3H755.3V1053.3H756.1V1046.4H757.0V1036.4H757.8V1053.7H758.6V1092.9H759.5V1085.3H760.3V1087.0H761.2V1056.0H762.0V1065.7H762.8V1048.9H763.7V1085.4H764.5V1089.1H765.4V1087.1H766.2V1052.7H767.0V1069.4H767.9V1101.7H768.7V1064.9H769.6V1060.2H770.4V1130.3H771.2V1187.6H772.1V1255.5H772.9V1291.2H773.8V1137.8H774.6V1117.3H775.4V1105.4H776.3V1127.7H776.7" class="data"/>
<path d="M104.8 1068.7L105.6 1068.8L106.5 1068.9L107.3 1068.9L108.2 1069.0L109.0 1069.0L109.8 1069.1L110.7 1069.1L111.5 1069.2L112.4 1069.2L113.2 1069.3L114.0 1069.3L114.9 1069.4L115.7 1069.5L116.6 1069.5L117.4 1069.6L118.2 1069.6L119.1 1069.7L119.9 1069.7L120.8 1069.8L121.6 1069.9L122.4 1069.9L123.3 1070.0L124.1 1070.1L125.0 1070.1L125.8 1070.2L126.6 1070.2L127.5 1070.3L128.3 1070.4L129.2 1070.4L130.0 1070.5L130.8 1070.6L131.7 1070.6L132.5 1070.7L133.4 1070.8L134.2 1070.8L135.0 1070.9L135.9 1071.0L136.7 1071.1L137.6 1071.1L138.4 1071.2L139.2 1071.3L140.1 1071.3L140.9 1071.4L141.8 1071.5L142.6 1071.6L143.4 1071.7L144.3 1071.7L145.1 1071.8L146.0 1071.9L146.8 1072.0L147.6 1072.0L148.5 1072.1L149.3 1072.2L150.2 1072.3L151.0 1072.4L151.8 1072.5L152.7 1072.5L153.5 1072.6L154.4 1072.7L155.2 1072.8L156.0 1072.9L156.9 1073.0L157.7 1073.1L158.6 1073.2L159.4 1073.3L160.2 1073.4L161.1 1073.4L161.9 1073.5L162.8 1073.6L163.6 1073.7L164.4 1073.8L165.3 1073.9L166.1 1074.0L167.0 1074.1L167.8 1074.2L168.6 1074.3L169.5 1074.4L170.3 1074.5L171.2 1074.6L172.0 1074.8L172.8 1074.9L173.7 1075.0L174.5 1075.1L175.3 1075.2L176.2 1075.3L177.0 1075.4L177.9 1075.5L178.7 1075.7L179.5 1075.8L180.4 1075.9L181.2 1076.0L182.1 1076.1L182.9 1076.3L183.7 1076.4L184.6 1076.5L185.4 1076.6L186.3 1076.8L187.1 1076.9L187.9 1077.0L188.8 1077.2L189.6 1077.3L190.5 1077.4L191.3 1077.6L192.1 1077.7L193.0 1077.8L193.8 1078.0L194.7 1078.1L195.5 1078.3L196.3 1078.4L197.2 1078.6L198.0 1078.7L198.9 1078.9L199.7 1079.0L200.5 1079.2L201.4 1079.3L202.2 1079.5L203.1 1079.7L203.9 1079.8L204.7 1080.0L205.6 1080.2L206.4 1080.3L207.3 1080.5L208.1 1080.7L208.9 1080.9L209.8 1081.0L210.6 1081.2L211.5 1081.4L212.3 1081.6L213.1 1081.8L214.0 1082.0L214.8 1082.2L215.7 1082.3L216.5 1082.5L217.3 1082.7L218.2 1082.9L219.0 1083.1L219.9 1083.4L220.7 1083.6L221.5 1083.8L222.4 1084.0L223.2 1084.2L224.1 1084.4L224.9 1084.7L225.7 1084.9L226.6 1085.1L227.4 1085.3L228.3 1085.6L229.1 1085.8L229.9 1086.1L230.8 1086.3L231.6 1086.6L232.5 1086.8L233.3 1087.1L234.1 1087.3L235.0 1087.6L235.8 1087.8L236.7 1088.1L237.5 1088.4L238.3 1088.7L239.2 1088.9L240.0 1089.2L240.9 1089.5L241.7 1089.8L242.5 1090.1L243.4 1090.4L244.2 1090.7L245.1 1091.0L245.9 1091.4L246.7 1091.7L247.6 1092.0L248.4 1092.3L249.3 1092.7L250.1 1093.0L250.9 1093.3L251.8 1093.7L252.6 1094.1L253.5 1094.4L254.3 1094.8L255.1 1095.2L256.0 1095.5L256.8 1095.9L257.7 1096.3L258.5 1096.7L259.3 1097.1L260.2 1097.5L261.0 1097.9L261.9 1098.3L262.7 1098.8L263.5 1099.2L264.4 1099.6L265.2 1100.1L266.1 1100.6L266.9 1101.0L267.7 1101.5L268.6 1102.0L269.4 1102.5L270.3 1102.9L271.1 1103.4L271.9 1104.0L272.8 1104.5L273.6 1105.0L274.5 1105.5L275.3 1106.1L276.1 1106.7L277.0 1107.2L277.8 1107.8L278.7 1108.4L279.5 1109.0L280.3 1109.6L281.2 1110.2L282.0 1110.8L282.9 1111.5L283.7 1112.1L284.5 1112.8L285.4 1113.5L286.2 1114.2L287.1 1114.9L287.9 1115.6L288.7 1116.3L289.6 1117.0L290.4 1117.8L291.3 1118.6L292.1 1119.3L292.9 1120.1L293.8 1120.9L294.6 1121.8L295.5 1122.6L296.3 1123.5L297.1 1124.3L298.0 1125.2L298.8 1126.2L299.7 1127.1L300.5 1128.0L301.3 1129.0L302.2 1130.0L303.0 1131.0L303.9 1132.0L304.7 1133.0L305.5 1134.1L306.4 1135.2L307.2 1136.3L308.0 1137.4L308.9 1138.6L309.7 1139.8L310.6 1141.0L311.4 1142.2L312.2 1143.5L313.1 1144.7L313.9 1146.0L314.8 1147.4L315.6 1148.7L316.4 1150.1L317.3 1151.5L318.1 1153.0L319.0 1154.5L319.8 1156.0L320.6 1157.5L321.5 1159.1L322.3 1160.7L323.2 1162.3L324.0 1164.0L324.8 1165.7L325.7 1167.5L326.5 1169.3L327.4 1171.1L328.2 1173.0L329.0 1174.9L329.9 1176.8L330.7 1178.8L331.6 1180.8L332.4 1182.9L333.2 1185.0L334.1 1187.2L334.9 1189.4L335.8 1191.6L336.6 1193.9L337.4 1196.3L338.3 1198.7L339.1 1201.1L340.0 1203.6L340.8 1206.1L341.6 1208.7L342.5 1211.3L343.3 1214.0L344.2 1216.7L345.0 1219.5L345.8 1222.3L346.7 1225.2L347.5 1228.1L348.4 1231.1L349.2 1234.1L350.0 1237.1L350.9 1240.2L351.7 1243.3L352.6 1246.5L353.4 1249.7L354.2 1252.9L355.1 1256.2L355.9 1259.4L356.8 1262.7L357.6 1266.0L358.4 1269.3L359.3 1272.6L360.1 1275.9L361.0 1279.2L361.8 1282.5L362.6 1285.7L363.5 1288.9L364.3 1292.0L365.2 1295.1L366.0 1298.1L366.8 1301.0L367.7 1303.8L368.5 1306.5L369.4 1309.1L370.2 1311.6L371.0 1313.9L371.9 1316.0L372.7 1318.0L373.6 1319.9L374.4 1321.5L375.2 1323.0L376.1 1324.3L376.9 1325.4L377.8 1326.4L378.6 1327.1L379.4 1327.8L380.3 1328.3L381.1 1328.6L382.0 1328.9L382.8 1329.1L383.6 1329.2L384.5 1329.3L385.3 1329.4L386.2 1329.4L387.0 1329.4L387.8 1329.4L388.7 1329.4L389.5 1329.4L390.4 1329.4L391.2 1329.4L392.0 1329.4L392.9 1329.4L393.7 1329.4L394.6 1329.4L395.4 1329.4L396.2 1329.4L397.1 1329.4L397.9 1329.4L398.8 1329.4L399.6 1329.4L400.4 1329.4L401.3 1329.4L402.1 1329.4L403.0 1329.4L403.8 1329.4L404.6 1329.4L405.5 1329.4L406.3 1329.4L407.2 1329.4L408.0 1329.4L408.8 1329.4L409.7 1329.4L410.5 1329.4L411.4 1329.4L412.2 1329.4L413.0 1329.4L413.9 1329.4L414.7 1329.4L415.6 1329.4L416.4 1329.4L417.2 1329.4L418.1 1329.4L418.9 1329.4L419.8 1329.4L420.6 1329.4L421.4 1329.4L422.3 1329.4L423.1 1329.4L424.0 1329.3L424.8 1329.3L425.6 1329.1L426.5 1329.0L427.3 1328.7L428.2 1328.4L429.0 1327.9L429.8 1327.3L430.7 1326.5L431.5 1325.6L432.4 1324.5L433.2 1323.3L434.0 1321.8L434.9 1320.2L435.7 1318.4L436.6 1316.5L437.4 1314.3L438.2 1312.0L439.1 1309.6L439.9 1307.1L440.8 1304.4L441.6 1301.6L442.4 1298.7L443.3 1295.7L444.1 1292.6L444.9 1289.5L445.8 1286.3L446.6 1283.1L447.5 1279.9L448.3 1276.6L449.1 1273.3L450.0 1270.0L450.8 1266.7L451.7 1263.4L452.5 1260.1L453.3 1256.8L454.2 1253.6L455.0 1250.3L455.9 1247.1L456.7 1244.0L457.5 1240.8L458.4 1237.7L459.2 1234.7L460.1 1231.7L460.9 1228.7L461.7 1225.8L462.6 1222.9L463.4 1220.1L464.3 1217.3L465.1 1214.5L465.9 1211.8L466.8 1209.2L467.6 1206.6L468.5 1204.1L469.3 1201.6L470.1 1199.1L471.0 1196.7L471.8 1194.4L472.7 1192.1L473.5 1189.8L474.3 1187.6L475.2 1185.4L476.0 1183.3L476.9 1181.2L477.7 1179.2L478.5 1177.2L479.4 1175.3L480.2 1173.3L481.1 1171.5L481.9 1169.6L482.7 1167.8L483.6 1166.1L484.4 1164.4L485.3 1162.7L486.1 1161.0L486.9 1159.4L487.8 1157.8L488.6 1156.3L489.5 1154.8L490.3 1153.3L491.1 1151.8L492.0 1150.4L492.8 1149.0L493.7 1147.6L494.5 1146.3L495.3 1145.0L496.2 1143.7L497.0 1142.4L497.9 1141.2L498.7 1140.0L499.5 1138.8L500.4 1137.7L501.2 1136.5L502.1 1135.4L502.9 1134.3L503.7 1133.3L504.6 1132.2L505.4 1131.2L506.3 1130.2L507.1 1129.2L507.9 1128.2L508.8 1127.3L509.6 1126.3L510.5 1125.4L511.3 1124.5L512.1 1123.6L513.0 1122.8L513.8 1121.9L514.7 1121.1L515.5 1120.3L516.3 1119.5L517.2 1118.7L518.0 1117.9L518.9 1117.2L519.7 1116.4L520.5 1115.7L521.4 1115.0L522.2 1114.3L523.1 1113.6L523.9 1112.9L524.7 1112.3L525.6 1111.6L526.4 1111.0L527.3 1110.3L528.1 1109.7L528.9 1109.1L529.8 1108.5L530.6 1107.9L531.5 1107.3L532.3 1106.8L533.1 1106.2L534.0 1105.7L534.8 1105.1L535.7 1104.6L536.5 1104.1L537.3 1103.6L538.2 1103.0L539.0 1102.5L539.9 1102.1L540.7 1101.6L541.5 1101.1L542.4 1100.6L543.2 1100.2L544.1 1099.7L544.9 1099.3L545.7 1098.9L546.6 1098.4L547.4 1098.0L548.3 1097.6L549.1 1097.2L549.9 1096.8L550.8 1096.4L551.6 1096.0L552.5 1095.6L553.3 1095.2L554.1 1094.9L555.0 1094.5L555.8 1094.1L556.7 1093.8L557.5 1093.4L558.3 1093.1L559.2 1092.7L560.0 1092.4L560.9 1092.1L561.7 1091.7L562.5 1091.4L563.4 1091.1L564.2 1090.8L565.1 1090.5L565.9 1090.2L566.7 1089.9L567.6 1089.6L568.4 1089.3L569.3 1089.0L570.1 1088.7L570.9 1088.4L571.8 1088.2L572.6 1087.9L573.5 1087.6L574.3 1087.4L575.1 1087.1L576.0 1086.9L576.8 1086.6L577.6 1086.4L578.5 1086.1L579.3 1085.9L580.2 1085.6L581.0 1085.4L581.8 1085.2L582.7 1084.9L583.5 1084.7L584.4 1084.5L585.2 1084.3L586.0 1084.0L586.9 1083.8L587.7 1083.6L588.6 1083.4L589.4 1083.2L590.2 1083.0L591.1 1082.8L591.9 1082.6L592.8 1082.4L593.6 1082.2L594.4 1082.0L595.3 1081.8L596.1 1081.6L597.0 1081.4L597.8 1081.3L598.6 1081.1L599.5 1080.9L600.3 1080.7L601.2 1080.5L602.0 1080.4L602.8 1080.2L603.7 1080.0L604.5 1079.9L605.4 1079.7L606.2 1079.5L607.0 1079.4L607.9 1079.2L608.7 1079.1L609.6 1078.9L610.4 1078.8L611.2 1078.6L612.1 1078.5L612.9 1078.3L613.8 1078.2L614.6 1078.0L615.4 1077.9L616.3 1077.7L617.1 1077.6L618.0 1077.5L618.8 1077.3L619.6 1077.2L620.5 1077.1L621.3 1076.9L622.2 1076.8L623.0 1076.7L623.8 1076.5L624.7 1076.4L625.5 1076.3L626.4 1076.2L627.2 1076.0L628.0 1075.9L628.9 1075.8L629.7 1075.7L630.6 1075.6L631.4 1075.4L632.2 1075.3L633.1 1075.2L633.9 1075.1L634.8 1075.0L635.6 1074.9L636.4 1074.8L637.3 1074.7L638.1 1074.6L639.0 1074.5L639.8 1074.4L640.6 1074.3L641.5 1074.1L642.3 1074.0L643.2 1073.9L644.0 1073.8L644.8 1073.8L645.7 1073.7L646.5 1073.6L647.4 1073.5L648.2 1073.4L649.0 1073.3L649.9 1073.2L650.7 1073.1L651.6 1073.0L652.4 1072.9L653.2 1072.8L654.1 1072.7L654.9 1072.6L655.8 1072.6L656.6 1072.5L657.4 1072.4L658.3 1072.3L659.1 1072.2L660.0 1072.1L660.8 1072.1L661.6 1072.0L662.5 1071.9L663.3 1071.8L664.2 1071.7L665.0 1071.7L665.8 1071.6L666.7 1071.5L667.5 1071.4L668.4 1071.4L669.2 1071.3L670.0 1071.2L670.9 1071.1L671.7 1071.1L672.6 1071.0L673.4 1070.9L674.2 1070.9L675.1 1070.8L675.9 1070.7L676.8 1070.7L677.6 1070.6L678.4 1070.5L679.3 1070.5L680.1 1070.4L681.0 1070.3L681.8 1070.3L682.6 1070.2L683.5 1070.1L684.3 1070.1L685.2 1070.0L686.0 1069.9L686.8 1069.9L687.7 1069.8L688.5 1069.8L689.4 1069.7L690.2 1069.6L691.0 1069.6L691.9 1069.5L692.7 1069.5L693.6 1069.4L694.4 1069.4L695.2 1069.3L696.1 1069.2L696.9 1069.2L697.8 1069.1L698.6 1069.1L699.4 1069.0L700.3 1069.0L701.1 1068.9L702.0 1068.9L702.8 1068.8L703.6 1068.8L704.5 1068.7L705.3 1068.7L706.2 1068.6L707.0 1068.6L707.8 1068.5L708.7 1068.5L709.5 1068.4L710.3 1068.4L711.2 1068.3L712.0 1068.3L712.9 1068.2L713.7 1068.2L714.5 1068.1L715.4 1068.1L716.2 1068.0L717.1 1068.0L717.9 1067.9L718.7 1067.9L719.6 1067.8L720.4 1067.8L721.3 1067.8L722.1 1067.7L722.9 1067.7L723.8 1067.6L724.6 1067.6L725.5 1067.5L726.3 1067.5L727.1 1067.5L728.0 1067.4L728.8 1067.4L729.7 1067.3L730.5 1067.3L731.3 1067.3L732.2 1067.2L733.0 1067.2L733.9 1067.1L734.7 1067.1L735.5 1067.1L736.4 1067.0L737.2 1067.0L738.1 1067.0L738.9 1066.9L739.7 1066.9L740.6 1066.8L741.4 1066.8L742.3 1066.8L743.1 1066.7L743.9 1066.7L744.8 1066.7L745.6 1066.6L746.5 1066.6L747.3 1066.6L748.1 1066.5L749.0 1066.5L749.8 1066.5L750.7 1066.4L751.5 1066.4L752.3 1066.4L753.2 1066.3L754.0 1066.3L754.9 1066.3L755.7 1066.2L756.5 1066.2L757.4 1066.2L758.2 1066.1L759.1 1066.1L759.9 1066.1L760.7 1066.0L761.6 1066.0L762.4 1066.0L763.3 1065.9L764.1 1065.9L764.9 1065.9L765.8 1065.9L766.6 1065.8L767.5 1065.8L768.3 1065.8L769.1 1065.7L770.0 1065.7L770.8 1065.7L771.7 1065.6L772.5 1065.6L773.3 1065.6L774.2 1065.6L775.0 1065.5L775.9 1065.5L776.7 1065.5" class="blue"/>
<path d="M104.8 1066.9L105.6 1066.9L106.5 1067.0L107.3 1067.0L108.2 1067.0L109.0 1067.1L109.8 1067.1L110.7 1067.2L111.5 1067.2L112.4 1067.3L113.2 1067.3L114.0 1067.4L114.9 1067.4L115.7 1067.4L116.6 1067.5L117.4 1067.5L118.2 1067.6L119.1 1067.6L119.9 1067.7L120.8 1067.7L121.6 1067.8L122.4 1067.8L123.3 1067.9L124.1 1067.9L125.0 1068.0L125.8 1068.0L126.6 1068.1L127.5 1068.1L128.3 1068.2L129.2 1068.2L130.0 1068.3L130.8 1068.3L131.7 1068.4L132.5 1068.5L133.4 1068.5L134.2 1068.6L135.0 1068.6L135.9 1068.7L136.7 1068.7L137.6 1068.8L138.4 1068.9L139.2 1068.9L140.1 1069.0L140.9 1069.0L141.8 1069.1L142.6 1069.2L143.4 1069.2L144.3 1069.3L145.1 1069.3L146.0 1069.4L146.8 1069.5L147.6 1069.5L148.5 1069.6L149.3 1069.7L150.2 1069.7L151.0 1069.8L151.8 1069.9L152.7 1069.9L153.5 1070.0L154.4 1070.1L155.2 1070.1L156.0 1070.2L156.9 1070.3L157.7 1070.4L158.6 1070.4L159.4 1070.5L160.2 1070.6L161.1 1070.7L161.9 1070.7L162.8 1070.8L163.6 1070.9L164.4 1071.0L165.3 1071.0L166.1 1071.1L167.0 1071.2L167.8 1071.3L168.6 1071.4L169.5 1071.5L170.3 1071.5L171.2 1071.6L172.0 1071.7L172.8 1071.8L173.7 1071.9L174.5 1072.0L175.3 1072.1L176.2 1072.2L177.0 1072.3L177.9 1072.3L178.7 1072.4L179.5 1072.5L180.4 1072.6L181.2 1072.7L182.1 1072.8L182.9 1072.9L183.7 1073.0L184.6 1073.1L185.4 1073.2L186.3 1073.3L187.1 1073.4L187.9 1073.5L188.8 1073.7L189.6 1073.8L190.5 1073.9L191.3 1074.0L192.1 1074.1L193.0 1074.2L193.8 1074.3L194.7 1074.4L195.5 1074.6L196.3 1074.7L197.2 1074.8L198.0 1074.9L198.9 1075.0L199.7 1075.2L200.5 1075.3L201.4 1075.4L202.2 1075.6L203.1 1075.7L203.9 1075.8L204.7 1076.0L205.6 1076.1L206.4 1076.2L207.3 1076.4L208.1 1076.5L208.9 1076.6L209.8 1076.8L210.6 1076.9L211.5 1077.1L212.3 1077.2L213.1 1077.4L214.0 1077.5L214.8 1077.7L215.7 1077.9L216.5 1078.0L217.3 1078.2L218.2 1078.3L219.0 1078.5L219.9 1078.7L220.7 1078.8L221.5 1079.0L222.4 1079.2L223.2 1079.4L224.1 1079.5L224.9 1079.7L225.7 1079.9L226.6 1080.1L227.4 1080.3L228.3 1080.5L229.1 1080.7L229.9 1080.9L230.8 1081.1L231.6 1081.3L232.5 1081.5L233.3 1081.7L234.1 1081.9L235.0 1082.1L235.8 1082.3L236.7 1082.6L237.5 1082.8L238.3 1083.0L239.2 1083.2L240.0 1083.5L240.9 1083.7L241.7 1083.9L242.5 1084.2L243.4 1084.4L244.2 1084.7L245.1 1084.9L245.9 1085.2L246.7 1085.5L247.6 1085.7L248.4 1086.0L249.3 1086.3L250.1 1086.5L250.9 1086.8L251.8 1087.1L252.6 1087.4L253.5 1087.7L254.3 1088.0L255.1 1088.3L256.0 1088.6L256.8 1088.9L257.7 1089.2L258.5 1089.6L259.3 1089.9L260.2 1090.2L261.0 1090.6L261.9 1090.9L262.7 1091.3L263.5 1091.6L264.4 1092.0L265.2 1092.4L266.1 1092.7L266.9 1093.1L267.7 1093.5L268.6 1093.9L269.4 1094.3L270.3 1094.7L271.1 1095.1L271.9 1095.6L272.8 1096.0L273.6 1096.4L274.5 1096.9L275.3 1097.3L276.1 1097.8L277.0 1098.3L277.8 1098.7L278.7 1099.2L279.5 1099.7L280.3 1100.2L281.2 1100.7L282.0 1101.3L282.9 1101.8L283.7 1102.3L284.5 1102.9L285.4 1103.5L286.2 1104.0L287.1 1104.6L287.9 1105.2L288.7 1105.8L289.6 1106.4L290.4 1107.1L291.3 1107.7L292.1 1108.4L292.9 1109.0L293.8 1109.7L294.6 1110.4L295.5 1111.1L296.3 1111.8L297.1 1112.6L298.0 1113.3L298.8 1114.1L299.7 1114.9L300.5 1115.7L301.3 1116.5L302.2 1117.3L303.0 1118.2L303.9 1119.1L304.7 1119.9L305.5 1120.8L306.4 1121.8L307.2 1122.7L308.0 1123.7L308.9 1124.7L309.7 1125.7L310.6 1126.7L311.4 1127.8L312.2 1128.8L313.1 1129.9L313.9 1131.1L314.8 1132.2L315.6 1133.4L316.4 1134.6L317.3 1135.8L318.1 1137.1L319.0 1138.4L319.8 1139.7L320.6 1141.0L321.5 1142.4L322.3 1143.8L323.2 1145.3L324.0 1146.7L324.8 1148.2L325.7 1149.8L326.5 1151.4L327.4 1153.0L328.2 1154.7L329.0 1156.4L329.9 1158.1L330.7 1159.9L331.6 1161.7L332.4 1163.6L333.2 1165.5L334.1 1167.4L334.9 1169.4L335.8 1171.5L336.6 1173.6L337.4 1175.7L338.3 1177.9L339.1 1180.2L340.0 1182.5L340.8 1184.9L341.6 1187.3L342.5 1189.8L343.3 1192.3L344.2 1194.9L345.0 1197.5L345.8 1200.2L346.7 1203.0L347.5 1205.8L348.4 1208.7L349.2 1211.7L350.0 1214.7L350.9 1217.7L351.7 1220.9L352.6 1224.1L353.4 1227.3L354.2 1230.6L355.1 1234.0L355.9 1237.4L356.8 1240.8L357.6 1244.4L358.4 1247.9L359.3 1251.5L360.1 1255.1L361.0 1258.8L361.8 1262.5L362.6 1266.2L363.5 1269.9L364.3 1273.6L365.2 1277.3L366.0 1280.9L366.8 1284.6L367.7 1288.1L368.5 1291.7L369.4 1295.1L370.2 1298.5L371.0 1301.7L371.9 1304.8L372.7 1307.8L373.6 1310.6L374.4 1313.3L375.2 1315.7L376.1 1318.0L376.9 1320.0L377.8 1321.8L378.6 1323.4L379.4 1324.8L380.3 1326.0L381.1 1326.9L382.0 1327.7L382.8 1328.2L383.6 1328.7L384.5 1329.0L385.3 1329.2L386.2 1329.3L387.0 1329.3L387.8 1329.4L388.7 1329.4L389.5 1329.4L390.4 1329.4L391.2 1329.4L392.0 1329.4L392.9 1329.4L393.7 1329.4L394.6 1329.4L395.4 1329.4L396.2 1329.4L397.1 1329.4L397.9 1329.4L398.8 1329.4L399.6 1329.4L400.4 1329.4L401.3 1329.4L402.1 1329.4L403.0 1329.4L403.8 1329.4L404.6 1329.4L405.5 1329.4L406.3 1329.4L407.2 1329.4L408.0 1329.4L408.8 1329.4L409.7 1329.4L410.5 1329.4L411.4 1329.4L412.2 1329.4L413.0 1329.4L413.9 1329.4L414.7 1329.4L415.6 1329.4L416.4 1329.4L417.2 1329.4L418.1 1329.4L418.9 1329.4L419.8 1329.4L420.6 1329.4L421.4 1329.3L422.3 1329.3L423.1 1329.2L424.0 1329.0L424.8 1328.7L425.6 1328.3L426.5 1327.8L427.3 1327.1L428.2 1326.2L429.0 1325.1L429.8 1323.7L430.7 1322.2L431.5 1320.4L432.4 1318.4L433.2 1316.2L434.0 1313.8L434.9 1311.2L435.7 1308.4L436.6 1305.4L437.4 1302.3L438.2 1299.1L439.1 1295.8L439.9 1292.4L440.8 1288.9L441.6 1285.3L442.4 1281.7L443.3 1278.0L444.1 1274.3L444.9 1270.6L445.8 1266.9L446.6 1263.2L447.5 1259.5L448.3 1255.9L449.1 1252.2L450.0 1248.6L450.8 1245.1L451.7 1241.5L452.5 1238.1L453.3 1234.6L454.2 1231.3L455.0 1228.0L455.9 1224.7L456.7 1221.5L457.5 1218.4L458.4 1215.3L459.2 1212.3L460.1 1209.3L460.9 1206.4L461.7 1203.6L462.6 1200.8L463.4 1198.1L464.3 1195.4L465.1 1192.8L465.9 1190.3L466.8 1187.8L467.6 1185.3L468.5 1183.0L469.3 1180.7L470.1 1178.4L471.0 1176.2L471.8 1174.0L472.7 1171.9L473.5 1169.8L474.3 1167.8L475.2 1165.9L476.0 1163.9L476.9 1162.1L477.7 1160.2L478.5 1158.4L479.4 1156.7L480.2 1155.0L481.1 1153.3L481.9 1151.7L482.7 1150.1L483.6 1148.6L484.4 1147.0L485.3 1145.6L486.1 1144.1L486.9 1142.7L487.8 1141.3L488.6 1140.0L489.5 1138.6L490.3 1137.3L491.1 1136.1L492.0 1134.8L492.8 1133.6L493.7 1132.4L494.5 1131.3L495.3 1130.2L496.2 1129.1L497.0 1128.0L497.9 1126.9L498.7 1125.9L499.5 1124.9L500.4 1123.9L501.2 1122.9L502.1 1122.0L502.9 1121.0L503.7 1120.1L504.6 1119.2L505.4 1118.4L506.3 1117.5L507.1 1116.7L507.9 1115.8L508.8 1115.0L509.6 1114.3L510.5 1113.5L511.3 1112.7L512.1 1112.0L513.0 1111.3L513.8 1110.5L514.7 1109.9L515.5 1109.2L516.3 1108.5L517.2 1107.8L518.0 1107.2L518.9 1106.6L519.7 1105.9L520.5 1105.3L521.4 1104.7L522.2 1104.1L523.1 1103.6L523.9 1103.0L524.7 1102.4L525.6 1101.9L526.4 1101.4L527.3 1100.8L528.1 1100.3L528.9 1099.8L529.8 1099.3L530.6 1098.8L531.5 1098.4L532.3 1097.9L533.1 1097.4L534.0 1097.0L534.8 1096.5L535.7 1096.1L536.5 1095.6L537.3 1095.2L538.2 1094.8L539.0 1094.4L539.9 1094.0L540.7 1093.6L541.5 1093.2L542.4 1092.8L543.2 1092.4L544.1 1092.1L544.9 1091.7L545.7 1091.3L546.6 1091.0L547.4 1090.6L548.3 1090.3L549.1 1090.0L549.9 1089.6L550.8 1089.3L551.6 1089.0L552.5 1088.7L553.3 1088.4L554.1 1088.1L555.0 1087.8L555.8 1087.5L556.7 1087.2L557.5 1086.9L558.3 1086.6L559.2 1086.3L560.0 1086.0L560.9 1085.8L561.7 1085.5L562.5 1085.2L563.4 1085.0L564.2 1084.7L565.1 1084.5L565.9 1084.2L566.7 1084.0L567.6 1083.7L568.4 1083.5L569.3 1083.3L570.1 1083.0L570.9 1082.8L571.8 1082.6L572.6 1082.4L573.5 1082.2L574.3 1081.9L575.1 1081.7L576.0 1081.5L576.8 1081.3L577.6 1081.1L578.5 1080.9L579.3 1080.7L580.2 1080.5L581.0 1080.3L581.8 1080.1L582.7 1080.0L583.5 1079.8L584.4 1079.6L585.2 1079.4L586.0 1079.2L586.9 1079.1L587.7 1078.9L588.6 1078.7L589.4 1078.5L590.2 1078.4L591.1 1078.2L591.9 1078.0L592.8 1077.9L593.6 1077.7L594.4 1077.6L595.3 1077.4L596.1 1077.3L597.0 1077.1L597.8 1077.0L598.6 1076.8L599.5 1076.7L600.3 1076.5L601.2 1076.4L602.0 1076.3L602.8 1076.1L603.7 1076.0L604.5 1075.8L605.4 1075.7L606.2 1075.6L607.0 1075.5L607.9 1075.3L608.7 1075.2L609.6 1075.1L610.4 1074.9L611.2 1074.8L612.1 1074.7L612.9 1074.6L613.8 1074.5L614.6 1074.3L615.4 1074.2L616.3 1074.1L617.1 1074.0L618.0 1073.9L618.8 1073.8L619.6 1073.7L620.5 1073.6L621.3 1073.5L622.2 1073.4L623.0 1073.3L623.8 1073.1L624.7 1073.0L625.5 1072.9L626.4 1072.8L627.2 1072.7L628.0 1072.7L628.9 1072.6L629.7 1072.5L630.6 1072.4L631.4 1072.3L632.2 1072.2L633.1 1072.1L633.9 1072.0L634.8 1071.9L635.6 1071.8L636.4 1071.7L637.3 1071.6L638.1 1071.6L639.0 1071.5L639.8 1071.4L640.6 1071.3L641.5 1071.2L642.3 1071.1L643.2 1071.1L644.0 1071.0L644.8 1070.9L645.7 1070.8L646.5 1070.7L647.4 1070.7L648.2 1070.6L649.0 1070.5L649.9 1070.4L650.7 1070.4L651.6 1070.3L652.4 1070.2L653.2 1070.2L654.1 1070.1L654.9 1070.0L655.8 1069.9L656.6 1069.9L657.4 1069.8L658.3 1069.7L659.1 1069.7L660.0 1069.6L660.8 1069.5L661.6 1069.5L662.5 1069.4L663.3 1069.4L664.2 1069.3L665.0 1069.2L665.8 1069.2L666.7 1069.1L667.5 1069.0L668.4 1069.0L669.2 1068.9L670.0 1068.9L670.9 1068.8L671.7 1068.7L672.6 1068.7L673.4 1068.6L674.2 1068.6L675.1 1068.5L675.9 1068.5L676.8 1068.4L677.6 1068.4L678.4 1068.3L679.3 1068.2L680.1 1068.2L681.0 1068.1L681.8 1068.1L682.6 1068.0L683.5 1068.0L684.3 1067.9L685.2 1067.9L686.0 1067.8L686.8 1067.8L687.7 1067.7L688.5 1067.7L689.4 1067.6L690.2 1067.6L691.0 1067.5L691.9 1067.5L692.7 1067.5L693.6 1067.4L694.4 1067.4L695.2 1067.3L696.1 1067.3L696.9 1067.2L697.8 1067.2L698.6 1067.1L699.4 1067.1L700.3 1067.1L701.1 1067.0L702.0 1067.0L702.8 1066.9L703.6 1066.9L704.5 1066.8L705.3 1066.8L706.2 1066.8L707.0 1066.7L707.8 1066.7L708.7 1066.6L709.5 1066.6L710.3 1066.6L711.2 1066.5L712.0 1066.5L712.9 1066.5L713.7 1066.4L714.5 1066.4L715.4 1066.3L716.2 1066.3L717.1 1066.3L717.9 1066.2L718.7 1066.2L719.6 1066.2L720.4 1066.1L721.3 1066.1L722.1 1066.1L722.9 1066.0L723.8 1066.0L724.6 1065.9L725.5 1065.9L726.3 1065.9L727.1 1065.8L728.0 1065.8L728.8 1065.8L729.7 1065.7L730.5 1065.7L731.3 1065.7L732.2 1065.7L733.0 1065.6L733.9 1065.6L734.7 1065.6L735.5 1065.5L736.4 1065.5L737.2 1065.5L738.1 1065.4L738.9 1065.4L739.7 1065.4L740.6 1065.3L741.4 1065.3L742.3 1065.3L743.1 1065.3L743.9 1065.2L744.8 1065.2L745.6 1065.2L746.5 1065.1L747.3 1065.1L748.1 1065.1L749.0 1065.1L749.8 1065.0L750.7 1065.0L751.5 1065.0L752.3 1065.0L753.2 1064.9L754.0 1064.9L754.9 1064.9L755.7 1064.9L756.5 1064.8L757.4 1064.8L758.2 1064.8L759.1 1064.8L759.9 1064.7L760.7 1064.7L761.6 1064.7L762.4 1064.7L763.3 1064.6L764.1 1064.6L764.9 1064.6L765.8 1064.6L766.6 1064.5L767.5 1064.5L768.3 1064.5L769.1 1064.5L770.0 1064.4L770.8 1064.4L771.7 1064.4L772.5 1064.4L773.3 1064.3L774.2 1064.3L775.0 1064.3L775.9 1064.3L776.7 1064.3" class="blue"/>
<path d="M104.8 1067.8L105.6 1067.8L106.5 1067.9L107.3 1067.9L108.2 1067.9L109.0 1068.0L109.8 1068.0L110.7 1068.1L111.5 1068.1L112.4 1068.2L113.2 1068.2L114.0 1068.3L114.9 1068.3L115.7 1068.4L116.6 1068.4L117.4 1068.5L118.2 1068.6L119.1 1068.6L119.9 1068.7L120.8 1068.7L121.6 1068.8L122.4 1068.8L123.3 1068.9L124.1 1068.9L125.0 1069.0L125.8 1069.0L126.6 1069.1L127.5 1069.2L128.3 1069.2L129.2 1069.3L130.0 1069.3L130.8 1069.4L131.7 1069.5L132.5 1069.5L133.4 1069.6L134.2 1069.6L135.0 1069.7L135.9 1069.8L136.7 1069.8L137.6 1069.9L138.4 1070.0L139.2 1070.0L140.1 1070.1L140.9 1070.2L141.8 1070.2L142.6 1070.3L143.4 1070.4L144.3 1070.4L145.1 1070.5L146.0 1070.6L146.8 1070.6L147.6 1070.7L148.5 1070.8L149.3 1070.9L150.2 1070.9L151.0 1071.0L151.8 1071.1L152.7 1071.2L153.5 1071.2L154.4 1071.3L155.2 1071.4L156.0 1071.5L156.9 1071.6L157.7 1071.6L158.6 1071.7L159.4 1071.8L160.2 1071.9L161.1 1072.0L161.9 1072.1L162.8 1072.1L163.6 1072.2L164.4 1072.3L165.3 1072.4L166.1 1072.5L167.0 1072.6L167.8 1072.7L168.6 1072.8L169.5 1072.9L170.3 1073.0L171.2 1073.1L172.0 1073.2L172.8 1073.3L173.7 1073.3L174.5 1073.4L175.3 1073.5L176.2 1073.7L177.0 1073.8L177.9 1073.9L178.7 1074.0L179.5 1074.1L180.4 1074.2L181.2 1074.3L182.1 1074.4L182.9 1074.5L183.7 1074.6L184.6 1074.7L185.4 1074.8L186.3 1075.0L187.1 1075.1L187.9 1075.2L188.8 1075.3L189.6 1075.4L190.5 1075.6L191.3 1075.7L192.1 1075.8L193.0 1075.9L193.8 1076.1L194.7 1076.2L195.5 1076.3L196.3 1076.5L197.2 1076.6L198.0 1076.7L198.9 1076.9L199.7 1077.0L200.5 1077.1L201.4 1077.3L202.2 1077.4L203.1 1077.6L203.9 1077.7L204.7 1077.9L205.6 1078.0L206.4 1078.2L207.3 1078.3L208.1 1078.5L208.9 1078.6L209.8 1078.8L210.6 1079.0L211.5 1079.1L212.3 1079.3L213.1 1079.5L214.0 1079.6L214.8 1079.8L215.7 1080.0L216.5 1080.2L217.3 1080.3L218.2 1080.5L219.0 1080.7L219.9 1080.9L220.7 1081.1L221.5 1081.3L222.4 1081.5L223.2 1081.7L224.1 1081.9L224.9 1082.1L225.7 1082.3L226.6 1082.5L227.4 1082.7L228.3 1082.9L229.1 1083.1L229.9 1083.3L230.8 1083.6L231.6 1083.8L232.5 1084.0L233.3 1084.2L234.1 1084.5L235.0 1084.7L235.8 1084.9L236.7 1085.2L237.5 1085.4L238.3 1085.7L239.2 1085.9L240.0 1086.2L240.9 1086.5L241.7 1086.7L242.5 1087.0L243.4 1087.3L244.2 1087.6L245.1 1087.8L245.9 1088.1L246.7 1088.4L247.6 1088.7L248.4 1089.0L249.3 1089.3L250.1 1089.6L250.9 1089.9L251.8 1090.2L252.6 1090.6L253.5 1090.9L254.3 1091.2L255.1 1091.6L256.0 1091.9L256.8 1092.2L257.7 1092.6L258.5 1093.0L259.3 1093.3L260.2 1093.7L261.0 1094.1L261.9 1094.5L262.7 1094.8L263.5 1095.2L264.4 1095.6L265.2 1096.0L266.1 1096.5L266.9 1096.9L267.7 1097.3L268.6 1097.7L269.4 1098.2L270.3 1098.6L271.1 1099.1L271.9 1099.6L272.8 1100.0L273.6 1100.5L274.5 1101.0L275.3 1101.5L276.1 1102.0L277.0 1102.5L277.8 1103.1L278.7 1103.6L279.5 1104.1L280.3 1104.7L281.2 1105.3L282.0 1105.8L282.9 1106.4L283.7 1107.0L284.5 1107.6L285.4 1108.2L286.2 1108.9L287.1 1109.5L287.9 1110.2L288.7 1110.8L289.6 1111.5L290.4 1112.2L291.3 1112.9L292.1 1113.6L292.9 1114.3L293.8 1115.1L294.6 1115.8L295.5 1116.6L296.3 1117.4L297.1 1118.2L298.0 1119.0L298.8 1119.9L299.7 1120.7L300.5 1121.6L301.3 1122.5L302.2 1123.4L303.0 1124.3L303.9 1125.3L304.7 1126.2L305.5 1127.2L306.4 1128.2L307.2 1129.2L308.0 1130.3L308.9 1131.4L309.7 1132.5L310.6 1133.6L311.4 1134.7L312.2 1135.9L313.1 1137.1L313.9 1138.3L314.8 1139.5L315.6 1140.8L316.4 1142.1L317.3 1143.4L318.1 1144.8L319.0 1146.1L319.8 1147.6L320.6 1149.0L321.5 1150.5L322.3 1152.0L323.2 1153.5L324.0 1155.1L324.8 1156.7L325.7 1158.4L326.5 1160.1L327.4 1161.8L328.2 1163.5L329.0 1165.3L329.9 1167.2L330.7 1169.1L331.6 1171.0L332.4 1173.0L333.2 1175.0L334.1 1177.1L334.9 1179.2L335.8 1181.3L336.6 1183.5L337.4 1185.8L338.3 1188.1L339.1 1190.4L340.0 1192.8L340.8 1195.3L341.6 1197.8L342.5 1200.4L343.3 1203.0L344.2 1205.7L345.0 1208.4L345.8 1211.2L346.7 1214.0L347.5 1216.9L348.4 1219.8L349.2 1222.8L350.0 1225.9L350.9 1229.0L351.7 1232.1L352.6 1235.3L353.4 1238.6L354.2 1241.8L355.1 1245.2L355.9 1248.5L356.8 1251.9L357.6 1255.4L358.4 1258.8L359.3 1262.3L360.1 1265.8L361.0 1269.3L361.8 1272.8L362.6 1276.3L363.5 1279.8L364.3 1283.2L365.2 1286.6L366.0 1290.0L366.8 1293.3L367.7 1296.5L368.5 1299.6L369.4 1302.6L370.2 1305.6L371.0 1308.3L371.9 1311.0L372.7 1313.5L373.6 1315.8L374.4 1317.9L375.2 1319.8L376.1 1321.6L376.9 1323.1L377.8 1324.5L378.6 1325.6L379.4 1326.6L380.3 1327.4L381.1 1328.0L382.0 1328.5L382.8 1328.8L383.6 1329.0L384.5 1329.2L385.3 1329.3L386.2 1329.3L387.0 1329.4L387.8 1329.4L388.7 1329.4L389.5 1329.4L390.4 1329.4L391.2 1329.4L392.0 1329.4L392.9 1329.4L393.7 1329.4L394.6 1329.4L395.4 1329.4L396.2 1329.4L397.1 1329.4L397.9 1329.4L398.8 1329.4L399.6 1329.4L400.4 1329.4L401.3 1329.4L402.1 1329.4L403.0 1329.4L403.8 1329.4L404.6 1329.4L405.5 1329.4L406.3 1329.4L407.2 1329.4L408.0 1329.4L408.8 1329.4L409.7 1329.4L410.5 1329.4L411.4 1329.4L412.2 1329.4L413.0 1329.4L413.9 1329.4L414.7 1329.4L415.6 1329.4L416.4 1329.4L417.2 1329.4L418.1 1329.4L418.9 1329.4L419.8 1329.4L420.6 1329.4L421.4 1329.4L422.3 1329.4L423.1 1329.3L424.0 1329.2L424.8 1329.1L425.6 1328.9L426.5 1328.5L427.3 1328.1L428.2 1327.5L429.0 1326.8L429.8 1325.8L430.7 1324.7L431.5 1323.4L432.4 1321.9L433.2 1320.2L434.0 1318.3L434.9 1316.2L435.7 1313.9L436.6 1311.5L437.4 1308.9L438.2 1306.1L439.1 1303.2L439.9 1300.2L440.8 1297.1L441.6 1293.9L442.4 1290.6L443.3 1287.3L444.1 1283.9L444.9 1280.4L445.8 1277.0L446.6 1273.5L447.5 1270.0L448.3 1266.5L449.1 1263.0L450.0 1259.5L450.8 1256.1L451.7 1252.6L452.5 1249.2L453.3 1245.8L454.2 1242.5L455.0 1239.2L455.9 1236.0L456.7 1232.7L457.5 1229.6L458.4 1226.5L459.2 1223.4L460.1 1220.4L460.9 1217.5L461.7 1214.6L462.6 1211.7L463.4 1208.9L464.3 1206.2L465.1 1203.5L465.9 1200.9L466.8 1198.3L467.6 1195.8L468.5 1193.3L469.3 1190.9L470.1 1188.6L471.0 1186.2L471.8 1184.0L472.7 1181.8L473.5 1179.6L474.3 1177.5L475.2 1175.4L476.0 1173.4L476.9 1171.4L477.7 1169.5L478.5 1167.6L479.4 1165.7L480.2 1163.9L481.1 1162.1L481.9 1160.4L482.7 1158.7L483.6 1157.0L484.4 1155.4L485.3 1153.8L486.1 1152.3L486.9 1150.8L487.8 1149.3L488.6 1147.8L489.5 1146.4L490.3 1145.0L491.1 1143.7L492.0 1142.3L492.8 1141.0L493.7 1139.8L494.5 1138.5L495.3 1137.3L496.2 1136.1L497.0 1134.9L497.9 1133.8L498.7 1132.7L499.5 1131.6L500.4 1130.5L501.2 1129.5L502.1 1128.4L502.9 1127.4L503.7 1126.4L504.6 1125.5L505.4 1124.5L506.3 1123.6L507.1 1122.7L507.9 1121.8L508.8 1120.9L509.6 1120.0L510.5 1119.2L511.3 1118.4L512.1 1117.6L513.0 1116.8L513.8 1116.0L514.7 1115.2L515.5 1114.5L516.3 1113.8L517.2 1113.0L518.0 1112.3L518.9 1111.6L519.7 1111.0L520.5 1110.3L521.4 1109.6L522.2 1109.0L523.1 1108.4L523.9 1107.7L524.7 1107.1L525.6 1106.5L526.4 1105.9L527.3 1105.4L528.1 1104.8L528.9 1104.2L529.8 1103.7L530.6 1103.2L531.5 1102.6L532.3 1102.1L533.1 1101.6L534.0 1101.1L534.8 1100.6L535.7 1100.1L536.5 1099.7L537.3 1099.2L538.2 1098.7L539.0 1098.3L539.9 1097.8L540.7 1097.4L541.5 1097.0L542.4 1096.5L543.2 1096.1L544.1 1095.7L544.9 1095.3L545.7 1094.9L546.6 1094.5L547.4 1094.1L548.3 1093.8L549.1 1093.4L549.9 1093.0L550.8 1092.7L551.6 1092.3L552.5 1092.0L553.3 1091.6L554.1 1091.3L555.0 1091.0L555.8 1090.6L556.7 1090.3L557.5 1090.0L558.3 1089.7L559.2 1089.4L560.0 1089.1L560.9 1088.8L561.7 1088.5L562.5 1088.2L563.4 1087.9L564.2 1087.6L565.1 1087.3L565.9 1087.1L566.7 1086.8L567.6 1086.5L568.4 1086.3L569.3 1086.0L570.1 1085.7L570.9 1085.5L571.8 1085.2L572.6 1085.0L573.5 1084.8L574.3 1084.5L575.1 1084.3L576.0 1084.1L576.8 1083.8L577.6 1083.6L578.5 1083.4L579.3 1083.2L580.2 1082.9L581.0 1082.7L581.8 1082.5L582.7 1082.3L583.5 1082.1L584.4 1081.9L585.2 1081.7L586.0 1081.5L586.9 1081.3L587.7 1081.1L588.6 1080.9L589.4 1080.7L590.2 1080.6L591.1 1080.4L591.9 1080.2L592.8 1080.0L593.6 1079.8L594.4 1079.7L595.3 1079.5L596.1 1079.3L597.0 1079.2L597.8 1079.0L598.6 1078.8L599.5 1078.7L600.3 1078.5L601.2 1078.4L602.0 1078.2L602.8 1078.1L603.7 1077.9L604.5 1077.7L605.4 1077.6L606.2 1077.5L607.0 1077.3L607.9 1077.2L608.7 1077.0L609.6 1076.9L610.4 1076.8L611.2 1076.6L612.1 1076.5L612.9 1076.3L613.8 1076.2L614.6 1076.1L615.4 1076.0L616.3 1075.8L617.1 1075.7L618.0 1075.6L618.8 1075.5L619.6 1075.3L620.5 1075.2L621.3 1075.1L622.2 1075.0L623.0 1074.9L623.8 1074.8L624.7 1074.6L625.5 1074.5L626.4 1074.4L627.2 1074.3L628.0 1074.2L628.9 1074.1L629.7 1074.0L630.6 1073.9L631.4 1073.8L632.2 1073.7L633.1 1073.6L633.9 1073.5L634.8 1073.4L635.6 1073.3L636.4 1073.2L637.3 1073.1L638.1 1073.0L639.0 1072.9L639.8 1072.8L640.6 1072.7L641.5 1072.6L642.3 1072.5L643.2 1072.4L644.0 1072.3L644.8 1072.3L645.7 1072.2L646.5 1072.1L647.4 1072.0L648.2 1071.9L649.0 1071.8L649.9 1071.7L650.7 1071.7L651.6 1071.6L652.4 1071.5L653.2 1071.4L654.1 1071.3L654.9 1071.3L655.8 1071.2L656.6 1071.1L657.4 1071.0L658.3 1071.0L659.1 1070.9L660.0 1070.8L660.8 1070.7L661.6 1070.7L662.5 1070.6L663.3 1070.5L664.2 1070.4L665.0 1070.4L665.8 1070.3L666.7 1070.2L667.5 1070.2L668.4 1070.1L669.2 1070.0L670.0 1070.0L670.9 1069.9L671.7 1069.8L672.6 1069.8L673.4 1069.7L674.2 1069.7L675.1 1069.6L675.9 1069.5L676.8 1069.5L677.6 1069.4L678.4 1069.3L679.3 1069.3L680.1 1069.2L681.0 1069.2L681.8 1069.1L682.6 1069.1L683.5 1069.0L684.3 1068.9L685.2 1068.9L686.0 1068.8L686.8 1068.8L687.7 1068.7L688.5 1068.7L689.4 1068.6L690.2 1068.6L691.0 1068.5L691.9 1068.5L692.7 1068.4L693.6 1068.4L694.4 1068.3L695.2 1068.3L696.1 1068.2L696.9 1068.2L697.8 1068.1L698.6 1068.1L699.4 1068.0L700.3 1068.0L701.1 1067.9L702.0 1067.9L702.8 1067.8L703.6 1067.8L704.5 1067.7L705.3 1067.7L706.2 1067.6L707.0 1067.6L707.8 1067.5L708.7 1067.5L709.5 1067.5L710.3 1067.4L711.2 1067.4L712.0 1067.3L712.9 1067.3L713.7 1067.2L714.5 1067.2L715.4 1067.2L716.2 1067.1L717.1 1067.1L717.9 1067.0L718.7 1067.0L719.6 1067.0L720.4 1066.9L721.3 1066.9L722.1 1066.8L722.9 1066.8L723.8 1066.8L724.6 1066.7L725.5 1066.7L726.3 1066.6L727.1 1066.6L728.0 1066.6L728.8 1066.5L729.7 1066.5L730.5 1066.5L731.3 1066.4L732.2 1066.4L733.0 1066.4L733.9 1066.3L734.7 1066.3L735.5 1066.3L736.4 1066.2L737.2 1066.2L738.1 1066.2L738.9 1066.1L739.7 1066.1L740.6 1066.1L741.4 1066.0L742.3 1066.0L743.1 1066.0L743.9 1065.9L744.8 1065.9L745.6 1065.9L746.5 1065.8L747.3 1065.8L748.1 1065.8L749.0 1065.7L749.8 1065.7L750.7 1065.7L751.5 1065.6L752.3 1065.6L753.2 1065.6L754.0 1065.6L754.9 1065.5L755.7 1065.5L756.5 1065.5L757.4 1065.4L758.2 1065.4L759.1 1065.4L759.9 1065.4L760.7 1065.3L761.6 1065.3L762.4 1065.3L763.3 1065.2L764.1 1065.2L764.9 1065.2L765.8 1065.2L766.6 1065.1L767.5 1065.1L768.3 1065.1L769.1 1065.1L770.0 1065.0L770.8 1065.0L771.7 1065.0L772.5 1065.0L773.3 1064.9L774.2 1064.9L775.0 1064.9L775.9 1064.9L776.7 1064.8" class="red"/>
</g>
<rect x="104.8" y="1005.8" width="671.9" height="355.8" fill="none" stroke="#1a1a1a" stroke-width="1.15"/>
<path d="M146.8 1361.6V1354.8M146.8 1005.8V1012.6M188.8 1361.6V1354.8M188.8 1005.8V1012.6M230.8 1361.6V1354.8M230.8 1005.8V1012.6M272.8 1361.6V1348.1M272.8 1005.8V1019.3M314.8 1361.6V1354.8M314.8 1005.8V1012.6M356.8 1361.6V1354.8M356.8 1005.8V1012.6M398.8 1361.6V1354.8M398.8 1005.8V1012.6M440.8 1361.6V1348.1M440.8 1005.8V1019.3M482.7 1361.6V1354.8M482.7 1005.8V1012.6M524.7 1361.6V1354.8M524.7 1005.8V1012.6M566.7 1361.6V1354.8M566.7 1005.8V1012.6M608.7 1361.6V1348.1M608.7 1005.8V1019.3M650.7 1361.6V1354.8M650.7 1005.8V1012.6M692.7 1361.6V1354.8M692.7 1005.8V1012.6M734.7 1361.6V1354.8M734.7 1005.8V1012.6M104.8 1329.4H118.3M776.7 1329.4H763.2M104.8 1059.4H118.3M776.7 1059.4H763.2M104.8 1275.4H111.6M776.7 1275.4H769.9M104.8 1221.4H111.6M776.7 1221.4H769.9M104.8 1167.4H111.6M776.7 1167.4H769.9M104.8 1113.4H111.6M776.7 1113.4H769.9" fill="none" stroke="#1a1a1a" stroke-width="0.95"/>
</svg>
</body></html>
